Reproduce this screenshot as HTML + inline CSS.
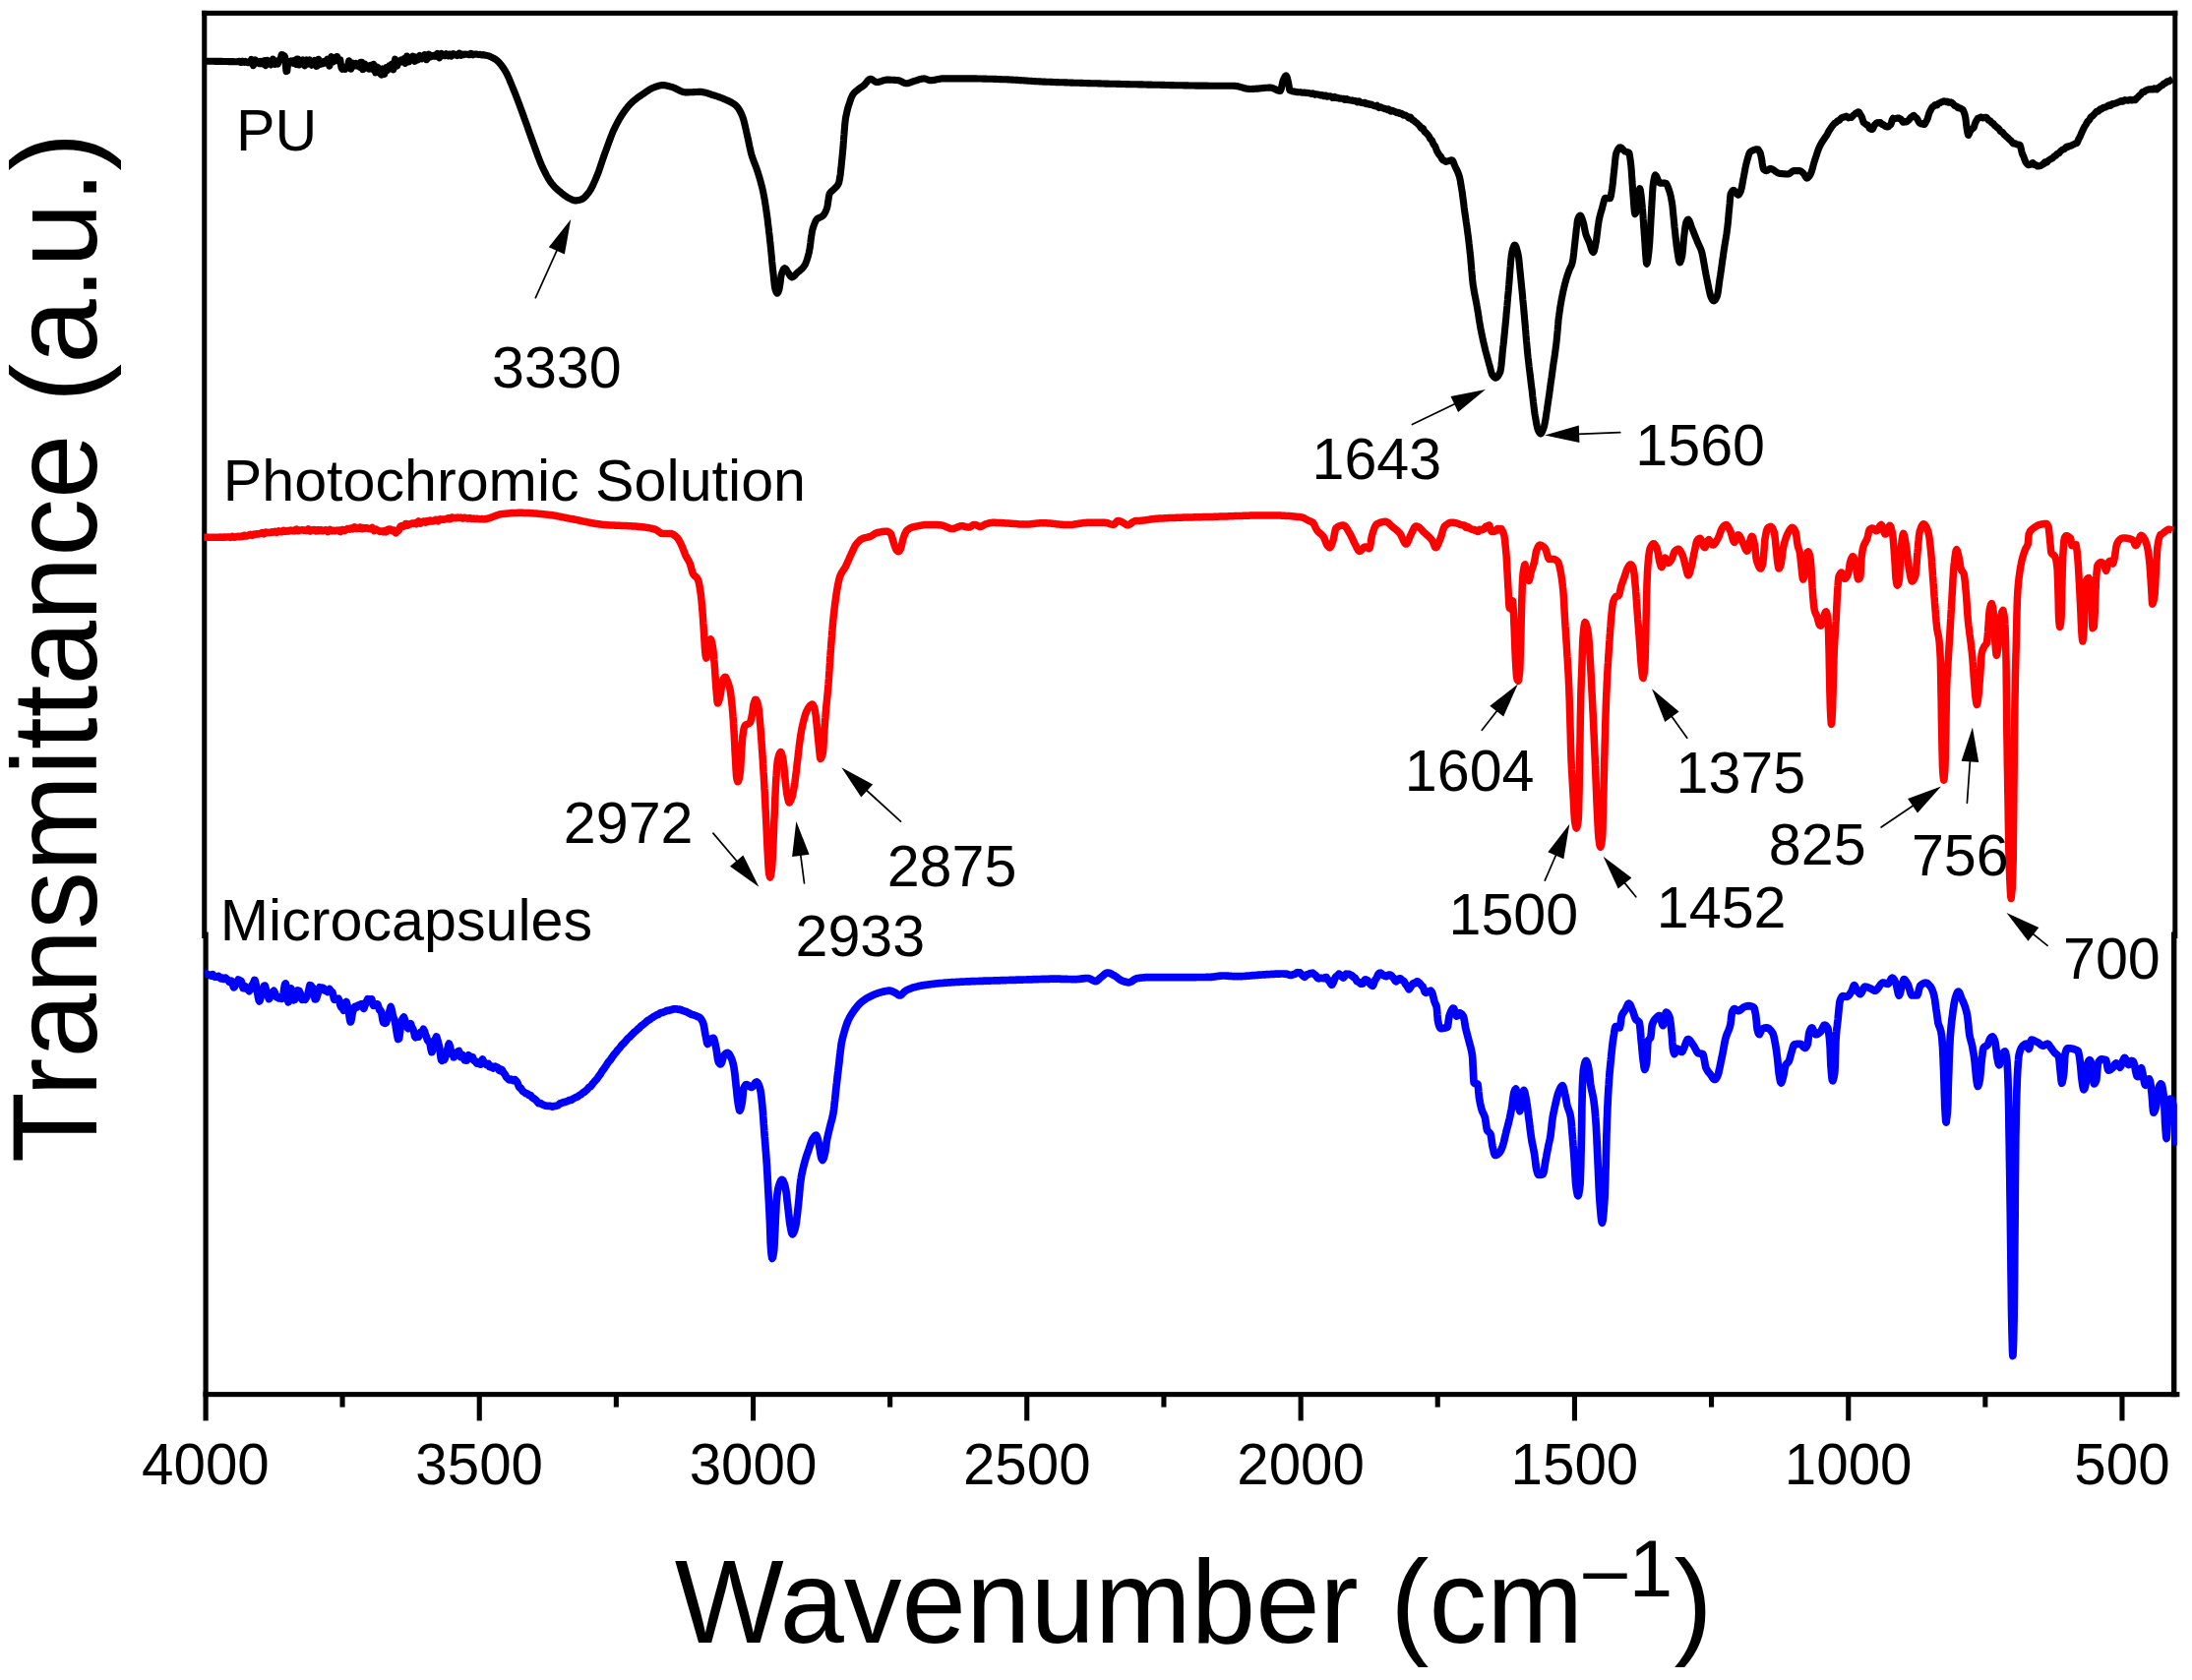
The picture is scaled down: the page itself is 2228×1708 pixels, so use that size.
<!DOCTYPE html>
<html lang="en"><head><meta charset="utf-8"><title>FTIR spectra</title>
<style>html,body{margin:0;padding:0;background:#fff}svg{display:block}</style></head>
<body>
<svg width="2228" height="1708" viewBox="0 0 2228 1708">
<rect width="2228" height="1708" fill="#fff"/>
<defs><clipPath id="cp"><rect x="205.2" y="10.8" width="2007.6" height="1409.4"/></clipPath></defs>
<g fill="#000">
<rect x="205.2" y="10.8" width="5.1" height="943.2"/>
<rect x="206.5" y="947.5" width="5.2" height="496.9"/>
<rect x="2208.3" y="10.8" width="5.0" height="943.2"/>
<rect x="2207.0" y="947.5" width="5.4" height="472.7"/>
<rect x="205.2" y="10.8" width="2008.1" height="5.1"/>
<rect x="206.5" y="1415.1" width="2008.9" height="5.1"/>
<rect x="484.7" y="1418" width="5.1" height="26.4"/>
<rect x="763.0" y="1418" width="5.1" height="26.4"/>
<rect x="1041.2" y="1418" width="5.1" height="26.4"/>
<rect x="1319.6" y="1418" width="5.1" height="26.4"/>
<rect x="1597.9" y="1418" width="5.1" height="26.4"/>
<rect x="1876.2" y="1418" width="5.1" height="26.4"/>
<rect x="2154.4" y="1418" width="5.1" height="26.4"/>
<rect x="345.5" y="1418" width="5.1" height="12.6"/>
<rect x="623.8" y="1418" width="5.1" height="12.6"/>
<rect x="902.1" y="1418" width="5.1" height="12.6"/>
<rect x="1180.4" y="1418" width="5.1" height="12.6"/>
<rect x="1458.7" y="1418" width="5.1" height="12.6"/>
<rect x="1737.0" y="1418" width="5.1" height="12.6"/>
<rect x="2015.3" y="1418" width="5.1" height="12.6"/>
</g>
<path d="M207.5 62.3L208.5 62.3L209.5 62.3L210.5 62.3L211.5 62.3L212.5 62.3L213.5 62.3L214.5 62.3L215.5 62.3L216.5 62.3L217.5 62.3L218.5 62.4L219.5 62.4L220.5 62.4L221.5 62.4L222.5 62.4L223.5 62.4L224.5 62.4L225.5 62.4L226.5 62.5L227.5 62.5L228.5 62.5L229.5 62.5L230.5 62.5L231.5 62.5L232.5 62.6L233.5 62.6L234.5 62.6L235.5 62.6L236.5 62.6L237.5 62.6L238.5 62.7L239.5 62.7L240.5 62.7L241.0 62.7L241.5 62.7L242.5 62.4L243.5 62.4L244.5 63.5L245.5 63.4L246.5 62.1L247.5 62.7L248.5 63.4L249.5 62.4L250.5 62.9L251.5 63.6L252.5 63.0L253.5 63.7L254.5 62.8L254.7 62.2L255.5 60.5L256.5 63.7L257.5 66.7L258.5 62.8L259.5 60.9L260.5 63.2L261.5 63.5L262.5 64.1L263.5 64.6L264.5 62.3L265.5 62.7L266.5 64.9L267.5 62.3L268.5 61.8L269.5 66.1L270.0 66.6L270.5 65.1L271.5 61.3L272.5 62.1L273.5 63.4L274.5 64.4L275.5 65.9L276.5 62.8L277.5 60.1L278.5 64.2L279.5 65.3L280.5 61.8L281.5 63.3L282.5 64.9L283.5 62.1L284.0 61.4L284.5 61.1L285.5 58.5L286.2 55.7L286.3 55.6L287.2 55.8L288.0 56.5L288.2 56.5L289.2 57.0L289.6 57.8L289.7 58.1L290.1 62.0L290.4 66.4L290.8 71.2L291.0 72.6L291.8 72.3L292.2 68.1L292.8 64.1L292.8 64.0L293.8 62.8L294.8 63.4L295.8 62.1L296.8 63.5L297.8 64.2L298.8 61.7L299.8 64.0L300.0 64.7L300.8 65.4L301.8 60.1L302.8 60.1L303.8 66.0L304.8 65.5L305.8 62.5L306.8 62.2L307.8 61.1L308.8 63.4L309.8 66.8L310.8 63.2L311.8 61.0L312.8 65.1L313.8 64.2L314.8 60.9L315.8 64.3L316.8 66.2L317.8 63.8L318.8 63.4L319.8 61.8L320.0 61.4L320.8 61.8L321.8 67.3L322.8 66.8L323.8 60.3L324.8 61.6L325.8 65.4L326.8 63.4L327.8 63.4L328.8 64.5L329.8 62.4L330.8 63.0L331.8 63.3L332.8 60.2L333.8 63.2L334.8 67.1L335.0 66.8L335.8 61.6L336.8 57.7L337.8 61.6L338.8 62.8L339.8 61.7L340.8 61.3L341.8 57.8L342.8 57.6L343.7 61.5L343.8 61.8L344.8 60.9L345.8 60.9L346.8 67.9L347.0 68.9L347.8 70.2L348.8 68.1L349.5 69.2L349.8 70.0L350.8 70.4L351.7 68.1L352.0 68.0L352.7 68.5L353.7 66.0L354.7 61.8L355.7 66.0L356.7 70.2L357.7 65.6L358.7 64.2L359.7 67.3L360.0 67.3L360.7 65.5L361.7 64.6L362.7 66.9L363.7 66.3L364.7 67.3L365.7 68.3L366.7 63.3L367.7 63.3L368.7 70.6L369.7 70.2L370.7 65.0L371.7 66.0L372.7 67.1L373.7 67.5L374.7 70.1L375.0 70.2L375.7 68.4L376.7 66.4L377.7 70.1L378.7 69.4L379.7 65.3L380.7 69.8L381.7 73.9L382.7 69.9L383.7 68.2L384.7 69.5L385.0 69.7L385.7 70.6L386.7 75.2L387.7 76.1L388.7 70.6L389.0 69.9L389.7 71.7L390.7 75.4L391.7 71.1L392.7 68.7L393.0 69.6L393.7 71.7L394.7 69.7L395.7 66.8L396.7 67.0L397.7 65.6L398.7 67.5L399.7 70.8L400.0 69.9L400.7 64.8L401.7 60.1L402.7 65.3L403.7 67.0L404.7 63.5L405.7 63.4L406.7 62.5L407.7 60.9L408.7 62.9L409.7 61.8L410.7 59.7L411.7 63.4L412.0 64.3L412.7 63.1L413.7 57.0L414.7 58.2L415.7 62.8L416.7 61.7L417.7 60.3L418.7 59.1L419.7 57.1L420.7 60.0L421.7 62.3L422.7 58.3L423.7 57.9L424.7 60.9L425.0 60.8L425.7 58.4L426.7 56.5L427.7 59.4L428.7 59.9L429.7 58.8L430.7 58.4L431.7 55.7L432.7 56.3L433.7 60.7L434.7 59.1L435.7 55.2L436.7 56.7L437.7 57.8L438.7 56.5L439.7 57.3L440.7 57.3L441.7 56.2L442.7 57.1L443.7 56.2L444.7 54.4L445.7 57.1L446.0 58.3L446.7 58.8L447.7 55.5L448.7 54.4L449.7 56.1L450.7 56.3L451.7 56.8L452.7 56.7L453.7 54.8L454.7 55.4L455.7 56.9L456.7 55.3L457.7 55.1L458.7 57.1L459.7 56.2L460.7 54.6L461.7 55.2L462.7 55.7L463.7 56.1L464.7 56.6L465.0 56.3L465.7 55.1L466.7 54.2L467.7 56.0L468.7 56.3L469.7 55.0L470.7 55.4L471.7 55.7L472.7 55.0L473.7 55.2L474.7 55.3L475.7 55.2L476.7 55.8L477.7 55.5L478.7 54.3L479.7 54.9L480.5 55.8L480.7 55.9L481.7 55.4L482.7 55.0L483.7 55.2L484.7 55.1L485.7 55.4L486.7 55.7L487.7 55.4L488.7 55.5L489.7 55.9L490.7 55.7L491.7 55.6L492.7 56.1L492.8 56.2L493.7 56.3L494.7 56.3L495.7 56.6L496.7 56.9L497.7 57.3L498.7 57.8L499.7 58.2L500.7 58.7L501.7 59.3L502.7 59.8L503.7 60.4L503.8 60.5L504.7 61.1L505.7 61.9L506.7 62.9L507.7 64.0L508.7 65.2L509.7 66.5L510.7 67.8L511.7 69.3L512.7 70.8L512.9 71.1L513.7 72.4L514.7 74.2L515.7 76.2L516.7 78.4L517.7 80.7L518.7 83.1L519.7 85.5L520.7 88.0L521.7 90.4L522.0 91.2L522.7 92.9L523.7 95.3L524.7 97.9L525.7 100.5L526.7 103.2L527.7 105.8L528.7 108.6L529.7 111.3L530.7 114.0L531.7 116.8L532.7 119.5L533.0 120.4L533.7 122.3L534.7 125.1L535.7 127.9L536.7 130.7L537.7 133.6L538.7 136.4L539.7 139.2L540.7 142.0L541.7 144.8L542.1 145.9L542.7 147.5L543.7 150.2L544.7 153.0L545.7 155.8L546.7 158.5L547.7 161.1L548.7 163.7L549.7 166.2L550.7 168.5L551.2 169.6L551.7 170.6L552.7 172.7L553.7 174.7L554.7 176.7L555.7 178.6L556.7 180.4L557.7 182.1L558.7 183.7L559.7 185.1L560.4 186.1L560.7 186.5L561.7 187.7L562.7 188.8L563.7 189.9L564.7 190.9L565.7 191.9L566.7 192.8L567.7 193.7L568.7 194.5L569.5 195.2L569.7 195.3L570.7 196.2L571.7 197.0L572.7 197.8L573.7 198.5L574.7 199.3L575.7 199.9L576.7 200.6L577.7 201.1L578.6 201.6L578.7 201.6L579.7 202.1L580.7 202.6L581.7 203.1L582.7 203.5L583.7 203.7L584.7 203.9L585.0 203.9L585.7 203.9L586.7 203.8L587.7 203.6L588.7 203.4L589.7 203.1L590.7 202.7L591.4 202.5L591.7 202.4L592.7 201.8L593.7 201.1L594.7 200.1L595.7 199.0L596.7 197.8L597.7 196.6L598.7 195.2L598.7 195.2L599.7 193.8L600.7 192.1L601.7 190.2L602.7 188.1L603.7 185.9L604.7 183.7L605.7 181.3L606.0 180.6L606.7 179.0L607.7 176.4L608.7 173.7L609.7 170.8L610.7 167.8L611.7 164.9L612.7 161.9L613.7 159.0L614.7 156.1L615.1 155.0L615.7 153.4L616.7 150.7L617.7 147.9L618.7 145.1L619.7 142.4L620.7 139.7L621.7 137.2L622.7 134.7L623.7 132.4L624.2 131.3L624.7 130.3L625.7 128.2L626.7 126.3L627.7 124.4L628.7 122.5L629.7 120.8L630.7 119.1L631.7 117.5L632.7 116.0L633.4 114.9L633.7 114.5L634.7 113.1L635.7 111.7L636.7 110.4L637.7 109.2L638.7 107.9L639.7 106.8L640.7 105.7L641.7 104.7L642.5 103.9L642.7 103.7L643.7 102.8L644.7 102.0L645.7 101.2L646.7 100.4L647.7 99.6L648.7 98.9L649.7 98.2L650.7 97.5L651.7 96.9L652.7 96.2L653.4 95.7L653.7 95.5L654.7 94.8L655.7 94.1L656.7 93.4L657.7 92.7L658.7 92.1L659.7 91.4L660.7 90.8L661.7 90.2L662.7 89.7L663.7 89.3L664.4 89.0L664.7 88.9L665.7 88.5L666.7 88.2L667.7 87.8L668.7 87.5L669.7 87.2L670.7 86.9L671.7 86.7L672.7 86.6L673.5 86.6L673.7 86.6L674.7 86.6L675.7 86.8L676.7 86.9L677.7 87.1L678.7 87.4L679.7 87.6L680.7 87.9L681.7 88.2L682.6 88.4L682.7 88.4L683.7 88.7L684.7 89.1L685.7 89.5L686.7 90.0L687.7 90.5L688.7 91.0L689.7 91.5L690.7 92.0L691.7 92.5L692.7 92.9L693.7 93.3L694.7 93.6L695.7 93.8L696.7 93.9L697.2 93.9L697.7 93.9L698.7 93.9L699.7 93.9L700.7 93.8L701.7 93.8L702.7 93.7L703.7 93.7L704.7 93.6L705.7 93.6L706.7 93.5L707.7 93.5L708.7 93.5L709.7 93.4L710.7 93.4L711.7 93.4L711.8 93.4L712.7 93.4L713.7 93.5L714.7 93.7L715.7 93.9L716.7 94.1L717.7 94.4L718.7 94.7L719.7 95.0L720.7 95.3L721.7 95.7L722.7 96.0L723.7 96.3L724.6 96.6L724.7 96.6L725.7 96.9L726.7 97.2L727.7 97.6L728.7 97.9L729.7 98.2L730.7 98.6L731.7 99.0L732.7 99.3L733.7 99.7L734.7 100.1L735.7 100.5L736.7 101.0L737.7 101.4L738.7 101.9L739.2 102.1L739.7 102.3L740.7 102.8L741.7 103.3L742.7 103.8L743.7 104.3L744.7 104.9L745.7 105.5L746.7 106.2L747.7 107.1L748.3 107.6L748.7 108.0L749.7 109.1L750.7 110.5L751.7 112.1L752.7 114.0L753.7 116.1L754.7 118.5L754.7 118.5L755.7 121.4L756.5 124.7L757.3 127.9L758.0 130.9L758.6 133.8L759.3 136.8L760.0 139.9L760.7 143.0L761.3 146.0L761.9 149.0L762.6 151.9L763.2 154.8L763.8 156.9L764.0 157.6L764.9 160.4L765.9 163.2L766.9 165.9L767.9 168.4L768.9 171.1L769.9 174.0L770.2 175.1L770.8 177.1L771.8 180.2L772.7 183.2L773.5 186.3L774.4 189.4L775.1 192.6L775.7 195.2L775.8 195.7L776.4 198.9L777.0 202.0L777.5 205.1L778.0 208.2L778.5 211.2L778.9 214.3L779.3 217.1L779.3 217.3L779.8 220.4L780.2 223.5L780.5 226.5L780.9 229.6L781.3 232.6L781.6 235.6L782.0 238.7L782.3 241.7L782.6 244.7L783.0 247.7L783.0 248.1L783.3 250.9L783.6 253.9L783.9 257.0L784.2 259.9L784.5 263.0L784.7 266.0L785.0 268.9L785.3 271.9L785.6 274.8L785.7 275.5L786.0 277.8L786.3 280.9L786.6 283.8L786.9 286.8L787.2 289.6L787.6 292.2L787.9 293.7L788.1 294.4L789.0 297.0L789.9 298.3L790.0 298.3L791.0 297.0L792.0 294.1L792.1 293.7L792.9 288.8L793.3 285.7L793.6 282.8L794.0 280.2L794.3 279.1L794.6 278.1L795.6 275.4L796.6 273.4L797.6 272.7L798.6 273.3L799.6 274.8L800.6 276.4L801.2 277.3L801.6 277.9L802.6 279.5L803.6 281.0L804.6 281.8L804.9 281.9L805.6 281.8L806.6 281.2L807.6 280.3L808.6 279.2L809.6 278.1L810.4 277.3L810.6 277.1L811.6 276.3L812.6 275.4L813.6 274.6L814.6 273.7L815.6 272.7L816.6 271.5L817.6 270.2L817.7 270.0L818.6 268.4L819.6 266.0L820.6 263.0L821.5 259.8L822.2 257.2L822.3 256.6L823.0 252.9L823.5 249.6L823.9 246.6L824.2 243.6L824.6 240.7L825.1 237.8L825.5 235.1L825.9 233.5L826.1 232.7L827.0 229.9L828.0 227.1L829.0 224.8L830.0 223.2L830.5 222.6L831.0 222.2L832.0 221.7L833.0 221.2L834.0 220.9L835.0 220.4L835.9 219.8L836.0 219.7L837.0 218.7L838.0 217.2L839.0 215.4L840.0 213.0L840.5 211.6L841.0 209.7L841.5 206.2L842.0 203.1L842.4 200.3L842.9 197.8L843.2 197.0L843.7 196.1L844.7 194.9L845.7 194.0L846.7 193.2L847.7 192.3L848.0 192.0L848.7 191.2L849.7 190.2L850.7 189.2L851.7 187.7L852.6 186.0L852.7 185.7L853.7 180.5L854.2 177.2L854.5 174.1L854.9 171.0L855.2 168.0L855.5 164.9L855.8 161.9L856.1 158.9L856.2 158.0L856.4 155.9L856.7 152.7L857.0 149.6L857.2 146.3L857.5 143.0L857.7 139.6L858.0 136.2L858.2 133.0L858.5 129.9L858.7 127.1L859.0 124.3L859.3 121.6L859.4 121.0L859.7 119.0L860.3 116.2L860.9 113.4L861.6 110.6L862.4 107.8L863.0 106.0L863.4 104.9L864.3 102.0L865.3 99.3L866.3 97.1L867.0 96.0L867.3 95.5L868.3 94.3L869.3 93.3L870.3 92.5L871.3 91.7L871.9 91.2L872.3 90.9L873.3 90.1L874.3 89.4L875.3 88.7L876.3 88.1L877.3 87.4L878.3 86.6L878.3 86.6L879.3 85.5L880.3 84.3L881.3 83.0L882.3 81.7L883.3 80.8L884.3 80.2L884.7 80.2L885.3 80.3L886.3 80.7L887.3 81.4L888.3 82.2L889.3 82.9L890.3 83.4L891.1 83.5L891.3 83.5L892.3 83.4L893.3 83.2L894.3 83.0L895.3 82.7L896.3 82.4L897.3 82.0L898.3 81.7L899.3 81.5L900.3 81.3L901.3 81.1L902.0 81.1L902.3 81.1L903.3 81.1L904.3 81.1L905.3 81.2L906.3 81.2L907.3 81.3L908.3 81.3L909.3 81.4L910.3 81.5L911.3 81.5L912.3 81.6L913.0 81.7L913.3 81.7L914.3 82.0L915.3 82.4L916.3 82.9L917.3 83.5L918.3 84.0L919.3 84.4L920.3 84.7L921.2 84.8L921.3 84.8L922.3 84.7L923.3 84.5L924.3 84.2L925.3 83.9L926.3 83.5L927.3 83.1L928.3 82.7L929.3 82.4L929.4 82.4L930.3 82.1L931.3 81.8L932.3 81.5L933.3 81.2L934.3 80.8L935.3 80.6L936.3 80.3L937.3 80.1L938.3 80.0L939.3 79.9L939.5 79.9L940.3 80.0L941.3 80.3L942.3 80.7L943.3 81.1L944.3 81.5L945.3 81.7L945.8 81.7L946.3 81.7L947.3 81.6L948.3 81.5L949.3 81.4L950.3 81.2L951.3 81.0L952.3 80.8L953.3 80.6L954.3 80.4L955.3 80.2L956.3 80.0L957.3 79.9L958.3 79.9L958.6 79.9L959.3 79.9L960.3 79.9L961.3 79.9L962.3 79.9L963.3 79.9L964.3 79.9L965.3 79.9L966.3 79.9L967.3 79.9L968.3 79.9L969.3 79.9L970.3 79.9L971.3 79.9L972.3 79.9L973.3 79.9L974.3 79.9L975.3 79.9L976.3 79.9L977.3 79.9L978.3 79.9L979.3 79.9L980.3 79.9L981.3 79.9L982.3 79.9L983.3 79.9L984.3 79.9L985.3 79.9L986.0 79.9L986.3 79.9L987.3 79.9L988.3 79.9L989.3 79.9L990.3 79.9L991.3 79.9L992.3 79.9L993.3 80.0L994.3 80.0L995.3 80.0L996.3 80.0L997.3 80.0L998.3 80.0L999.3 80.1L1000.3 80.1L1001.3 80.1L1002.3 80.1L1003.3 80.2L1004.3 80.2L1005.3 80.2L1006.3 80.3L1007.3 80.3L1008.3 80.3L1009.3 80.3L1010.3 80.4L1011.3 80.4L1012.3 80.4L1013.3 80.5L1014.3 80.5L1015.3 80.5L1016.3 80.6L1017.3 80.6L1018.3 80.7L1019.3 80.7L1020.3 80.7L1021.3 80.8L1022.3 80.8L1022.5 80.8L1023.3 80.8L1024.3 80.9L1025.3 80.9L1026.3 81.0L1027.3 81.0L1028.3 81.1L1029.3 81.1L1030.3 81.2L1031.3 81.2L1032.3 81.3L1033.3 81.4L1034.3 81.4L1035.3 81.5L1036.3 81.6L1037.3 81.6L1038.3 81.7L1039.3 81.8L1040.3 81.8L1041.3 81.9L1042.3 82.0L1043.3 82.0L1044.3 82.1L1045.3 82.2L1046.3 82.3L1047.3 82.3L1048.3 82.4L1049.3 82.5L1050.3 82.5L1051.3 82.6L1052.3 82.6L1053.3 82.7L1054.3 82.8L1055.3 82.8L1056.3 82.9L1057.3 82.9L1058.3 83.0L1059.0 83.0L1059.3 83.0L1060.3 83.1L1061.3 83.1L1062.3 83.1L1063.3 83.2L1064.3 83.2L1065.3 83.3L1066.3 83.3L1067.3 83.3L1068.3 83.4L1069.3 83.4L1070.3 83.5L1071.3 83.5L1072.3 83.5L1073.3 83.6L1074.3 83.6L1075.3 83.6L1076.3 83.7L1077.3 83.7L1078.3 83.7L1079.3 83.8L1080.3 83.8L1081.3 83.8L1082.3 83.9L1083.3 83.9L1084.3 83.9L1085.3 84.0L1086.3 84.0L1087.3 84.0L1088.3 84.1L1089.3 84.1L1090.3 84.1L1091.3 84.2L1092.3 84.2L1093.3 84.2L1094.3 84.3L1095.3 84.3L1096.3 84.3L1097.3 84.3L1098.3 84.4L1099.3 84.4L1100.3 84.4L1101.3 84.5L1102.3 84.5L1103.3 84.5L1104.3 84.5L1105.3 84.6L1106.3 84.6L1107.3 84.6L1108.3 84.7L1109.3 84.7L1110.3 84.7L1111.3 84.7L1112.3 84.8L1113.3 84.8L1113.7 84.8L1114.3 84.8L1115.3 84.8L1116.3 84.9L1117.3 84.9L1118.3 84.9L1119.3 85.0L1120.3 85.0L1121.3 85.0L1122.3 85.0L1123.3 85.1L1124.3 85.1L1125.3 85.1L1126.3 85.1L1127.3 85.2L1128.3 85.2L1129.3 85.2L1130.3 85.2L1131.3 85.3L1132.3 85.3L1133.3 85.3L1134.3 85.3L1135.3 85.4L1136.3 85.4L1137.3 85.4L1138.3 85.4L1139.3 85.5L1140.3 85.5L1141.3 85.5L1142.3 85.5L1143.3 85.5L1144.3 85.6L1145.3 85.6L1146.3 85.6L1147.3 85.6L1148.3 85.7L1149.3 85.7L1150.3 85.7L1151.3 85.7L1152.3 85.7L1153.3 85.8L1154.3 85.8L1155.3 85.8L1156.3 85.8L1157.3 85.9L1158.3 85.9L1159.3 85.9L1160.3 85.9L1161.3 85.9L1162.3 86.0L1163.3 86.0L1164.3 86.0L1165.3 86.0L1166.3 86.1L1167.3 86.1L1168.3 86.1L1168.5 86.1L1169.3 86.1L1170.3 86.1L1171.3 86.2L1172.3 86.2L1173.3 86.2L1174.3 86.2L1175.3 86.3L1176.3 86.3L1177.3 86.3L1178.3 86.3L1179.3 86.3L1180.3 86.4L1181.3 86.4L1182.3 86.4L1183.3 86.4L1184.3 86.5L1185.3 86.5L1186.3 86.5L1187.3 86.5L1188.3 86.5L1189.3 86.6L1190.3 86.6L1191.3 86.6L1192.3 86.6L1193.3 86.7L1194.3 86.7L1195.3 86.7L1196.3 86.7L1197.3 86.7L1198.3 86.8L1199.3 86.8L1200.3 86.8L1201.3 86.8L1202.3 86.8L1203.3 86.9L1204.3 86.9L1205.3 86.9L1206.3 86.9L1207.3 86.9L1208.3 87.0L1209.3 87.0L1210.3 87.0L1211.3 87.0L1212.3 87.0L1213.3 87.0L1214.3 87.0L1215.3 87.1L1216.3 87.1L1217.3 87.1L1218.3 87.1L1219.3 87.1L1220.0 87.1L1220.3 87.1L1221.3 87.1L1222.3 87.1L1223.3 87.1L1224.3 87.1L1225.3 87.1L1226.3 87.1L1227.3 87.1L1228.3 87.2L1229.3 87.2L1230.3 87.2L1231.3 87.2L1232.3 87.2L1233.3 87.2L1234.3 87.2L1235.3 87.2L1236.3 87.2L1237.3 87.2L1238.3 87.2L1239.3 87.2L1240.3 87.2L1241.3 87.2L1242.3 87.2L1243.3 87.2L1244.3 87.2L1245.3 87.2L1246.3 87.2L1247.3 87.2L1248.3 87.2L1249.3 87.2L1250.3 87.3L1251.3 87.3L1252.3 87.3L1253.3 87.3L1254.2 87.3L1254.3 87.3L1255.3 87.4L1256.3 87.5L1257.3 87.6L1258.3 87.8L1259.3 88.1L1260.3 88.3L1261.3 88.6L1262.3 88.9L1263.3 89.2L1264.3 89.5L1265.3 89.7L1266.3 90.0L1267.3 90.2L1268.3 90.3L1269.3 90.4L1270.3 90.5L1270.6 90.5L1271.3 90.5L1272.3 90.5L1273.3 90.4L1274.3 90.4L1275.3 90.3L1276.3 90.2L1277.3 90.1L1278.3 90.1L1279.3 90.0L1280.3 89.9L1281.3 89.8L1282.3 89.7L1283.3 89.6L1284.3 89.5L1285.3 89.4L1286.3 89.3L1287.3 89.2L1288.3 89.2L1289.3 89.1L1290.3 89.1L1291.2 89.1L1291.3 89.1L1292.3 89.2L1293.3 89.5L1294.3 89.9L1295.3 90.3L1296.3 90.8L1297.3 91.3L1298.3 91.8L1299.3 92.1L1300.3 92.4L1301.3 92.5L1301.4 92.5L1302.3 90.2L1303.0 86.7L1303.6 83.9L1304.2 81.6L1304.2 81.6L1305.2 79.4L1306.2 77.6L1307.2 76.8L1307.3 76.8L1308.2 78.5L1309.1 82.2L1309.6 84.3L1309.8 85.2L1310.3 88.7L1310.7 91.2L1311.0 91.8L1311.5 92.0L1312.5 92.3L1313.5 92.7L1314.5 92.9L1315.5 93.1L1316.5 93.3L1317.5 93.5L1318.5 93.6L1319.5 93.7L1320.5 93.8L1321.5 93.8L1322.5 93.9L1323.5 94.1L1324.5 94.2L1325.5 94.1L1326.5 94.3L1327.5 94.4L1328.5 94.4L1329.5 94.6L1329.5 94.6L1330.5 94.8L1331.5 94.9L1332.5 95.4L1333.5 95.2L1334.5 94.8L1335.5 95.5L1336.5 96.3L1337.5 95.9L1338.5 95.8L1339.5 96.1L1340.5 96.1L1341.5 96.7L1342.5 97.0L1343.5 96.5L1344.5 97.0L1345.5 97.6L1346.5 97.0L1347.5 97.1L1348.5 98.1L1349.5 98.2L1350.5 97.9L1351.5 98.0L1352.5 97.9L1353.5 98.6L1354.5 99.4L1355.5 98.8L1356.5 98.4L1356.9 98.7L1357.5 99.4L1358.5 99.6L1359.5 99.3L1360.5 99.8L1361.5 100.2L1362.5 100.0L1363.5 100.2L1364.5 100.2L1365.5 100.3L1366.5 101.4L1367.5 101.5L1368.5 100.5L1369.5 100.8L1370.5 101.8L1371.5 101.8L1372.5 101.9L1373.5 102.1L1374.5 101.9L1375.5 102.4L1376.5 102.8L1377.5 102.4L1378.5 103.0L1379.5 103.9L1380.5 103.3L1381.5 102.9L1382.5 103.8L1383.5 104.4L1384.2 104.5L1384.5 104.5L1385.5 104.7L1386.5 104.2L1387.5 104.5L1388.5 105.7L1389.5 105.7L1390.5 105.3L1391.5 106.1L1392.5 106.5L1393.5 106.0L1394.5 106.5L1395.5 107.2L1396.5 107.4L1397.5 107.9L1398.5 107.6L1399.5 107.2L1400.5 108.5L1401.5 109.5L1402.5 108.8L1403.5 108.8L1404.5 109.6L1405.5 109.7L1406.5 110.1L1407.5 110.7L1408.5 110.6L1409.5 111.1L1410.5 111.7L1411.5 111.1L1411.6 111.0L1412.5 111.5L1413.5 113.1L1414.5 113.1L1415.5 112.4L1416.5 112.9L1417.5 113.4L1418.5 114.0L1419.5 114.7L1420.5 114.3L1421.5 114.2L1422.5 115.4L1423.5 115.6L1424.5 115.3L1425.5 116.4L1426.5 117.2L1427.5 116.9L1428.5 117.1L1429.5 117.7L1430.5 118.3L1431.5 119.6L1432.1 120.0L1432.5 119.8L1433.5 119.1L1434.5 120.3L1435.5 122.0L1436.5 122.2L1437.5 122.8L1438.5 124.1L1439.5 124.6L1440.5 125.4L1441.5 126.6L1442.5 127.3L1443.5 128.8L1444.5 130.4L1445.5 130.2L1445.8 130.1L1446.5 130.7L1447.5 133.0L1448.5 134.5L1449.5 135.1L1450.5 136.3L1451.5 137.3L1452.5 138.6L1453.5 140.8L1454.5 141.9L1455.4 142.7L1455.5 142.9L1456.5 145.5L1457.5 147.4L1458.5 148.3L1459.5 150.8L1460.5 153.6L1460.5 153.6L1461.5 155.2L1462.5 156.9L1463.5 158.3L1464.1 158.8L1464.5 159.3L1465.5 161.4L1466.5 162.9L1467.5 163.0L1468.5 163.7L1469.5 164.4L1469.6 164.4L1470.5 164.1L1471.5 163.7L1472.5 163.7L1473.5 163.3L1474.5 163.0L1475.5 162.8L1475.7 162.8L1476.5 163.3L1477.5 165.4L1478.5 168.1L1479.2 169.7L1479.5 170.4L1480.5 172.3L1481.5 174.4L1482.5 176.9L1483.3 179.3L1483.5 180.1L1484.3 183.7L1484.8 186.9L1485.3 190.0L1485.8 193.0L1486.0 194.3L1486.3 196.0L1486.7 199.2L1487.1 202.3L1487.5 205.3L1487.9 208.3L1488.2 211.2L1488.6 214.2L1488.7 214.8L1489.0 217.1L1489.5 220.1L1489.9 223.0L1490.3 226.0L1490.8 229.0L1491.2 232.1L1491.6 235.2L1492.0 238.2L1492.2 239.5L1492.4 241.3L1492.8 244.4L1493.1 247.4L1493.5 250.5L1493.8 253.5L1494.1 256.5L1494.5 259.6L1494.8 262.6L1494.9 264.1L1495.0 265.7L1495.3 268.8L1495.6 271.9L1495.8 275.0L1496.1 278.0L1496.3 281.0L1496.6 283.8L1496.9 286.6L1497.0 287.4L1497.2 289.3L1497.7 292.1L1498.1 294.9L1498.6 297.8L1499.2 300.7L1499.8 303.7L1500.4 306.8L1501.0 309.9L1501.1 310.6L1501.5 313.0L1502.0 316.0L1502.5 319.0L1503.0 322.1L1503.4 325.0L1503.9 328.0L1504.4 330.9L1504.9 333.9L1505.2 335.3L1505.5 336.7L1506.1 339.7L1506.7 342.6L1507.3 345.6L1508.0 348.5L1508.7 351.5L1509.4 354.4L1509.5 355.0L1510.1 357.4L1510.9 360.3L1511.7 363.2L1512.5 366.2L1513.3 369.2L1513.9 371.2L1514.2 372.3L1515.0 375.4L1515.7 378.2L1516.5 380.6L1516.6 380.7L1517.5 382.1L1518.5 383.3L1519.5 384.1L1520.1 384.2L1520.5 384.1L1521.5 383.6L1522.5 382.5L1523.5 380.9L1524.5 378.9L1524.9 378.0L1525.5 374.9L1526.0 371.4L1526.3 368.2L1526.6 365.2L1526.9 362.2L1527.1 359.3L1527.4 356.3L1527.6 354.7L1527.7 353.4L1528.1 350.4L1528.4 347.4L1528.7 344.4L1529.0 341.4L1529.3 338.3L1529.6 335.3L1529.9 332.2L1530.2 329.2L1530.5 326.2L1530.7 324.0L1530.8 323.3L1531.0 320.2L1531.3 317.1L1531.6 314.1L1531.9 311.1L1532.1 308.1L1532.4 305.0L1532.6 302.1L1532.9 299.1L1533.2 296.0L1533.4 293.1L1533.7 290.1L1533.9 287.4L1533.9 287.2L1534.2 283.9L1534.4 280.8L1534.7 277.4L1534.9 274.1L1535.2 270.8L1535.4 267.7L1535.7 264.7L1536.0 261.9L1536.3 259.3L1536.6 257.3L1536.7 257.0L1537.3 254.1L1538.1 251.5L1539.1 249.4L1539.6 249.1L1540.1 249.4L1541.1 251.4L1542.1 254.7L1542.8 257.3L1542.9 257.9L1543.6 261.8L1544.0 265.1L1544.3 268.3L1544.6 271.3L1544.9 274.4L1545.2 277.4L1545.5 280.4L1545.8 283.4L1546.1 286.3L1546.2 287.4L1546.4 289.3L1546.7 292.4L1547.0 295.4L1547.3 298.4L1547.6 301.4L1547.8 304.5L1548.1 307.4L1548.4 310.4L1548.7 313.4L1548.9 316.4L1549.2 319.5L1549.5 322.5L1549.6 324.0L1549.7 325.4L1550.0 328.5L1550.3 331.5L1550.5 334.6L1550.8 337.5L1551.0 340.6L1551.3 343.6L1551.5 346.6L1551.8 349.5L1552.1 352.5L1552.3 355.4L1552.6 358.0L1552.6 358.3L1552.9 361.3L1553.2 364.2L1553.6 367.2L1553.9 370.2L1554.2 373.1L1554.6 376.1L1555.0 379.1L1555.3 382.1L1555.7 385.0L1556.0 388.0L1556.4 391.0L1556.8 394.1L1557.0 395.8L1557.2 397.1L1557.5 400.1L1557.8 403.1L1558.2 406.1L1558.5 409.1L1558.9 412.1L1559.2 415.0L1559.6 417.9L1560.0 420.8L1560.4 423.2L1560.5 423.6L1561.0 426.6L1561.5 429.5L1562.0 432.3L1562.6 435.0L1563.2 436.9L1563.4 437.3L1564.4 439.4L1565.4 440.8L1565.9 441.0L1566.4 440.8L1567.4 439.3L1568.4 436.8L1569.3 434.1L1569.4 433.9L1570.3 429.8L1570.9 426.5L1571.4 423.4L1571.8 420.3L1572.3 417.3L1572.7 414.3L1573.1 411.4L1573.4 409.5L1573.6 408.5L1574.0 405.4L1574.5 402.4L1574.9 399.3L1575.3 396.3L1575.7 393.3L1576.1 390.3L1576.5 387.3L1577.0 384.3L1577.4 381.3L1577.8 378.3L1578.2 375.3L1578.6 372.4L1579.0 369.4L1579.5 366.4L1580.0 363.4L1580.4 360.4L1580.8 357.3L1581.2 354.3L1581.6 351.1L1582.0 348.1L1582.0 348.0L1582.3 344.8L1582.6 341.7L1582.9 338.6L1583.2 335.5L1583.4 332.5L1583.7 329.6L1583.9 326.7L1584.2 323.9L1584.5 321.6L1584.6 321.1L1585.0 318.2L1585.4 315.3L1585.8 312.4L1586.3 309.5L1586.8 306.6L1587.3 303.7L1587.9 300.8L1588.5 297.8L1589.1 294.9L1589.3 294.2L1589.8 292.0L1590.5 289.1L1591.3 286.2L1592.1 283.3L1593.0 280.4L1594.0 277.5L1594.8 275.1L1595.0 274.7L1596.0 272.4L1597.0 270.4L1598.0 267.7L1598.2 266.9L1598.9 263.4L1599.3 260.0L1599.7 256.9L1600.0 253.8L1600.3 250.8L1600.7 247.8L1601.0 244.8L1601.3 241.9L1601.6 239.5L1601.7 239.0L1602.0 235.9L1602.3 232.7L1602.7 229.9L1603.0 227.0L1603.4 224.4L1603.7 223.1L1603.9 222.5L1604.9 220.2L1605.9 219.1L1606.2 219.0L1606.9 219.6L1607.9 221.9L1608.9 225.0L1609.2 225.8L1609.9 228.5L1610.5 231.8L1611.1 234.7L1611.7 237.4L1611.9 238.1L1612.5 239.9L1613.5 242.3L1614.5 244.5L1615.3 246.3L1615.5 246.8L1616.5 249.9L1617.4 252.9L1618.4 255.4L1619.4 256.6L1619.4 256.6L1620.4 254.9L1621.3 251.1L1621.9 247.9L1622.2 246.3L1622.5 244.8L1622.9 241.4L1623.3 238.3L1623.7 235.2L1624.0 232.3L1624.4 229.3L1624.8 226.7L1624.9 225.8L1625.2 224.1L1625.8 221.2L1626.5 218.4L1627.3 215.5L1628.2 212.6L1628.3 212.1L1629.0 209.3L1629.8 206.3L1630.5 203.6L1631.4 201.4L1631.8 201.2L1632.4 201.2L1633.4 201.4L1634.4 201.6L1635.4 201.7L1636.4 201.8L1636.5 201.8L1637.4 199.1L1638.0 195.6L1638.4 192.6L1638.6 191.6L1638.9 189.5L1639.3 186.2L1639.6 183.1L1639.9 180.1L1640.2 177.1L1640.6 174.1L1640.6 173.8L1640.9 171.0L1641.2 168.0L1641.5 165.0L1641.8 162.0L1642.1 159.3L1642.5 156.8L1642.7 156.0L1643.1 154.9L1644.1 152.6L1645.1 151.0L1646.1 150.0L1646.8 149.8L1647.1 149.8L1648.1 150.4L1649.1 151.5L1650.1 152.6L1651.1 153.6L1651.6 153.9L1652.1 154.1L1653.1 154.4L1654.1 154.6L1655.1 154.9L1655.7 155.3L1656.1 156.2L1656.9 161.0L1657.3 164.2L1657.7 167.2L1657.8 168.3L1658.0 170.5L1658.3 173.9L1658.5 177.4L1658.8 181.2L1659.0 185.1L1659.3 188.9L1659.5 192.5L1659.8 195.7L1660.0 198.9L1660.3 202.3L1660.5 205.8L1660.8 209.1L1661.0 212.2L1661.3 214.8L1661.7 217.1L1661.9 217.6L1662.4 217.0L1663.4 213.2L1664.0 210.1L1664.5 207.1L1664.6 206.6L1665.1 203.2L1665.4 200.0L1665.7 197.1L1666.0 194.3L1666.5 192.0L1666.7 191.6L1667.3 193.3L1667.9 197.3L1668.3 200.5L1668.6 203.6L1668.9 206.8L1669.2 209.7L1669.4 212.1L1669.5 212.6L1669.7 215.9L1670.0 219.2L1670.2 222.7L1670.5 226.4L1670.7 230.2L1671.0 233.9L1671.2 237.4L1671.4 239.5L1671.5 240.7L1671.7 244.3L1672.0 248.1L1672.2 252.1L1672.5 256.0L1672.7 259.7L1673.0 262.9L1673.2 265.6L1673.6 267.8L1673.8 268.2L1674.4 267.0L1675.1 262.6L1675.5 259.3L1675.9 256.2L1676.2 253.2L1676.5 249.5L1676.8 245.9L1677.0 241.8L1677.3 237.4L1677.5 232.7L1677.8 228.1L1678.0 223.6L1678.3 219.3L1678.3 219.0L1678.5 215.1L1678.8 210.6L1679.0 206.0L1679.3 201.4L1679.5 197.1L1679.8 193.2L1680.0 190.0L1680.3 187.6L1680.3 187.5L1680.7 184.7L1681.2 181.9L1681.7 179.4L1682.4 177.9L1682.5 177.9L1683.5 178.9L1684.5 181.2L1685.5 183.7L1686.5 185.6L1687.2 186.1L1687.5 186.1L1688.5 186.1L1689.5 186.1L1690.5 186.1L1691.5 186.1L1692.5 186.1L1692.7 186.1L1693.5 186.5L1694.5 188.1L1695.5 190.5L1696.5 193.4L1696.8 194.3L1697.5 196.5L1698.3 199.9L1698.9 203.2L1699.5 206.4L1699.5 206.6L1700.0 209.9L1700.3 213.2L1700.6 216.3L1700.9 219.3L1701.2 222.3L1701.5 225.2L1701.8 228.3L1702.0 231.1L1702.2 232.6L1702.4 234.0L1702.7 237.1L1703.0 240.1L1703.3 243.0L1703.7 245.9L1704.0 248.9L1704.4 251.8L1704.8 254.6L1705.0 255.9L1705.2 257.4L1705.7 260.4L1706.2 263.3L1706.8 265.8L1707.4 266.9L1707.7 266.8L1708.7 264.6L1709.6 261.0L1709.8 260.0L1710.2 256.7L1710.6 253.3L1710.8 250.2L1711.1 247.2L1711.3 244.2L1711.6 241.4L1711.8 239.5L1711.9 238.8L1712.3 235.8L1712.6 232.8L1713.0 230.0L1713.5 227.4L1713.9 225.8L1714.1 225.4L1715.1 223.6L1715.9 223.1L1716.1 223.1L1717.1 224.4L1718.1 227.0L1719.1 230.1L1720.0 232.6L1720.1 232.8L1721.1 235.2L1722.1 237.7L1723.1 240.3L1724.1 242.8L1725.1 245.3L1725.5 246.3L1726.1 247.6L1727.1 249.7L1728.1 251.8L1729.1 254.3L1729.6 255.9L1730.1 257.7L1730.8 261.1L1731.3 264.2L1731.9 267.3L1732.4 270.2L1732.9 273.1L1733.0 273.7L1733.5 276.1L1734.0 279.1L1734.6 282.1L1735.2 285.1L1735.8 288.0L1736.4 290.9L1736.5 291.5L1737.0 294.0L1737.7 296.9L1738.3 299.7L1739.1 302.2L1739.2 302.4L1740.1 304.1L1741.1 305.5L1741.9 305.9L1742.1 305.9L1743.1 305.2L1744.1 303.7L1745.1 301.6L1745.3 301.1L1746.1 297.8L1746.6 294.4L1747.0 291.3L1747.4 288.3L1747.8 285.3L1748.2 282.5L1748.3 282.0L1748.7 279.5L1749.1 276.5L1749.6 273.4L1750.0 270.4L1750.4 267.4L1750.8 264.4L1751.3 261.4L1751.7 258.4L1752.1 255.5L1752.5 253.0L1752.6 252.5L1753.0 249.5L1753.5 246.6L1754.0 243.6L1754.5 240.6L1755.0 237.5L1755.4 234.3L1755.8 231.2L1755.8 231.1L1756.2 228.0L1756.5 224.8L1756.8 221.7L1757.0 218.7L1757.3 215.6L1757.6 212.8L1757.8 210.5L1757.9 209.8L1758.2 206.6L1758.4 203.6L1758.7 200.7L1758.9 198.2L1759.2 196.9L1759.4 196.5L1760.4 194.6L1761.4 193.5L1761.9 193.4L1762.4 193.5L1763.4 194.5L1764.4 195.9L1765.4 197.3L1766.4 198.1L1766.7 198.2L1767.4 197.9L1768.4 196.3L1769.4 194.2L1769.4 194.1L1770.4 190.4L1771.0 187.2L1771.5 184.1L1772.0 181.3L1772.2 180.4L1772.6 178.3L1773.2 175.2L1773.7 172.3L1774.3 169.4L1774.9 166.7L1775.7 163.6L1776.5 160.7L1777.3 157.9L1778.2 155.4L1779.0 154.4L1779.2 154.2L1780.2 153.6L1781.2 153.1L1782.2 152.6L1783.2 152.2L1784.2 152.0L1785.2 151.8L1786.2 151.7L1786.5 151.7L1787.2 152.1L1788.2 153.6L1789.2 155.7L1789.3 155.8L1790.2 159.8L1790.8 163.0L1791.2 166.0L1791.7 168.8L1792.3 171.3L1792.7 172.2L1793.2 172.6L1794.2 173.3L1795.2 173.6L1795.4 173.6L1796.2 173.4L1797.2 172.8L1798.2 172.0L1799.2 171.5L1799.5 171.5L1800.2 171.6L1801.2 171.9L1802.2 172.5L1803.2 173.2L1804.2 173.9L1805.2 174.7L1806.2 175.4L1807.2 175.9L1808.2 176.3L1808.4 176.3L1809.2 176.4L1810.2 176.5L1811.2 176.6L1812.2 176.7L1813.2 176.8L1814.2 176.9L1815.2 177.0L1816.2 177.0L1817.2 177.0L1817.3 177.0L1818.2 176.8L1819.2 176.3L1820.2 175.5L1821.2 174.7L1822.2 174.0L1823.2 173.6L1823.5 173.6L1824.2 173.6L1825.2 173.6L1826.2 173.6L1827.2 173.6L1828.2 173.6L1829.0 173.6L1829.2 173.6L1830.2 173.9L1831.2 174.6L1832.2 175.4L1833.1 176.3L1833.2 176.4L1834.2 177.9L1835.2 179.8L1836.2 181.0L1836.5 181.1L1837.2 180.9L1838.2 180.1L1839.2 178.8L1839.9 177.7L1840.2 177.3L1841.2 174.8L1842.2 171.5L1843.0 168.4L1843.8 165.5L1844.7 162.7L1844.7 162.6L1845.7 159.6L1846.6 156.7L1847.6 153.7L1848.6 151.0L1849.5 149.0L1849.6 148.8L1850.6 146.8L1851.6 145.1L1852.6 143.5L1853.6 142.0L1854.6 140.5L1855.6 139.0L1856.3 138.1L1856.6 137.7L1857.6 135.9L1858.6 133.8L1859.6 132.2L1860.6 130.8L1861.6 129.2L1862.6 127.9L1863.2 127.2L1863.6 126.6L1864.6 125.4L1865.6 125.0L1866.6 124.2L1867.6 123.0L1868.6 122.6L1869.6 122.3L1870.0 121.8L1870.6 120.9L1871.6 119.9L1872.6 119.6L1873.6 119.0L1874.6 118.9L1874.8 118.9L1875.6 118.8L1876.6 118.2L1877.6 118.8L1878.6 119.8L1879.6 119.5L1880.6 119.2L1881.0 119.3L1881.6 119.5L1882.6 118.6L1883.6 117.3L1884.6 116.6L1885.1 116.2L1885.6 115.7L1886.6 115.0L1887.6 114.7L1888.5 113.9L1888.6 113.8L1889.6 114.0L1890.6 116.0L1891.6 117.6L1891.9 117.9L1892.6 119.5L1893.4 122.4L1894.0 124.2L1894.2 124.5L1895.2 125.3L1896.2 126.1L1897.2 126.8L1898.1 127.0L1898.2 127.0L1899.2 128.3L1900.2 130.3L1901.2 131.0L1902.2 131.4L1902.2 131.4L1903.2 131.4L1904.2 129.7L1905.2 127.4L1905.6 126.8L1906.2 126.2L1907.2 125.1L1908.2 124.6L1909.0 124.8L1909.2 124.9L1910.2 124.6L1911.2 124.5L1912.2 125.7L1913.2 126.6L1914.2 126.7L1914.5 126.8L1915.2 127.5L1916.2 128.4L1917.2 128.7L1918.2 129.0L1918.6 129.0L1919.2 128.8L1920.2 127.9L1921.2 127.2L1922.0 126.3L1922.2 125.8L1923.2 122.0L1924.1 120.3L1924.2 120.4L1925.2 121.0L1926.2 120.7L1927.2 120.3L1928.2 120.3L1929.2 120.0L1930.2 120.1L1930.2 120.1L1931.2 120.8L1932.2 121.3L1933.2 122.5L1934.2 124.1L1935.2 124.2L1935.7 123.8L1936.2 123.6L1937.2 123.9L1938.2 123.7L1939.2 122.7L1940.2 121.9L1940.5 121.6L1941.2 120.6L1942.2 119.3L1943.2 118.7L1944.2 117.9L1944.6 117.5L1945.2 117.3L1946.2 118.4L1947.2 119.6L1948.0 120.0L1948.2 120.1L1949.2 121.7L1950.2 123.9L1951.2 125.0L1951.4 125.1L1952.2 125.7L1953.2 125.9L1954.2 125.7L1954.9 126.1L1955.2 126.4L1956.2 126.4L1957.2 124.5L1958.2 122.7L1958.3 122.6L1959.2 120.7L1960.1 117.5L1961.0 114.7L1961.0 114.6L1962.0 112.7L1963.0 110.6L1964.0 109.0L1964.4 108.6L1965.0 108.4L1966.0 107.4L1967.0 106.5L1968.0 107.0L1969.0 106.9L1969.9 105.6L1970.0 105.5L1971.0 104.8L1972.0 104.5L1973.0 104.0L1974.0 103.7L1975.0 103.3L1975.4 103.0L1976.0 102.7L1977.0 103.1L1978.0 103.6L1979.0 103.1L1980.0 103.4L1981.0 104.3L1982.0 104.1L1983.0 103.9L1983.6 104.2L1984.0 104.5L1985.0 105.3L1986.0 106.6L1987.0 107.8L1988.0 107.9L1988.4 107.9L1989.0 108.3L1990.0 109.6L1991.0 109.9L1992.0 109.7L1993.0 110.4L1994.0 111.0L1994.6 111.2L1995.0 111.4L1996.0 113.5L1997.0 116.3L1997.3 117.4L1997.9 120.5L1998.3 123.9L1998.7 127.2L1999.1 130.2L1999.3 131.7L1999.5 132.8L2000.0 135.5L2000.5 137.3L2000.7 137.4L2001.5 136.0L2002.4 133.7L2002.8 133.1L2003.4 132.3L2004.4 131.1L2005.4 130.5L2006.2 129.7L2006.4 129.3L2007.4 125.8L2008.2 123.9L2008.2 123.8L2009.2 122.3L2010.2 120.5L2011.2 120.0L2012.2 119.8L2012.3 119.7L2013.2 119.0L2014.2 119.2L2015.2 120.0L2016.2 119.8L2017.2 119.4L2017.8 119.4L2018.2 119.3L2019.2 119.5L2020.2 120.8L2021.2 122.2L2022.2 122.4L2023.2 123.1L2023.3 123.2L2024.2 124.6L2025.2 125.3L2026.2 125.8L2027.2 127.2L2028.2 128.2L2029.2 128.9L2030.1 129.8L2030.2 129.9L2031.2 130.5L2032.2 131.6L2033.2 133.4L2034.2 134.1L2035.2 134.2L2036.2 135.5L2037.2 137.0L2038.2 137.8L2039.2 138.8L2040.2 139.6L2040.2 139.7L2041.2 140.3L2042.2 141.6L2043.2 142.6L2044.2 143.1L2045.2 144.6L2046.2 145.9L2047.2 145.7L2048.2 145.8L2048.4 145.9L2049.2 146.6L2050.2 146.9L2051.2 147.0L2052.2 147.1L2052.5 147.1L2053.2 147.6L2054.2 150.9L2055.0 154.6L2055.8 157.2L2056.0 157.6L2056.8 159.0L2057.8 162.0L2058.8 164.6L2059.8 165.9L2060.8 167.1L2061.4 167.6L2061.8 167.7L2062.8 167.5L2063.8 167.3L2064.8 166.6L2065.8 165.7L2066.2 165.6L2066.8 166.2L2067.8 167.5L2068.8 167.6L2069.8 167.9L2070.8 168.9L2071.7 169.0L2071.8 169.0L2072.8 168.7L2073.8 168.7L2074.8 167.9L2075.8 167.4L2076.8 167.0L2077.8 165.7L2078.5 164.9L2078.8 164.9L2079.8 165.3L2080.8 164.8L2081.8 163.3L2082.8 162.6L2083.8 162.1L2084.8 161.5L2085.8 161.2L2086.8 160.2L2086.8 160.2L2087.8 159.0L2088.8 158.7L2089.8 158.0L2090.8 156.5L2091.8 156.1L2092.8 155.8L2093.8 154.5L2094.8 153.3L2095.8 152.6L2096.8 151.9L2097.8 151.7L2098.8 151.2L2099.1 150.8L2099.8 149.7L2100.8 149.1L2101.8 149.5L2102.8 148.9L2103.8 148.2L2104.8 148.3L2105.8 147.8L2106.8 147.1L2107.8 146.8L2108.8 146.1L2109.8 145.7L2110.8 145.6L2111.4 144.8L2111.8 144.0L2112.8 141.3L2113.8 139.6L2114.8 137.5L2115.5 135.7L2115.8 135.0L2116.8 132.9L2117.8 130.8L2118.8 128.7L2119.8 127.3L2120.8 125.6L2121.8 123.6L2122.3 123.0L2122.8 122.8L2123.8 121.7L2124.8 119.6L2125.8 118.5L2126.8 118.1L2127.8 117.1L2128.8 115.9L2129.8 114.7L2130.8 113.5L2131.8 113.2L2132.8 113.2L2133.3 112.6L2133.8 111.8L2134.8 110.9L2135.8 111.0L2136.8 110.3L2137.8 109.4L2138.8 109.4L2139.8 109.1L2140.8 108.5L2141.8 108.1L2142.8 107.2L2143.8 106.8L2144.8 107.5L2145.8 107.0L2146.8 105.7L2147.0 105.6L2147.8 105.5L2148.8 105.6L2149.8 105.1L2150.8 104.9L2151.8 104.5L2152.8 103.8L2153.8 103.8L2154.8 103.4L2155.8 102.5L2156.8 102.8L2157.8 103.2L2158.8 102.2L2159.8 101.6L2160.7 101.9L2160.8 101.9L2161.8 102.0L2162.8 102.1L2163.8 102.1L2164.8 101.3L2165.8 101.3L2166.8 102.0L2167.8 101.6L2168.8 101.2L2169.8 101.7L2170.2 101.7L2170.8 101.3L2171.8 99.9L2172.8 99.0L2173.8 97.9L2174.8 96.8L2175.7 96.3L2175.8 96.2L2176.8 94.8L2177.8 93.5L2178.8 93.6L2179.8 93.3L2180.8 92.1L2181.8 91.5L2182.8 91.4L2183.8 90.8L2183.9 90.8L2184.8 90.9L2185.8 90.9L2186.8 90.6L2187.8 91.0L2188.8 90.9L2189.8 89.9L2190.8 90.1L2191.8 90.9L2192.1 91.0L2192.8 90.4L2193.8 89.4L2194.8 88.8L2195.8 87.8L2196.8 87.2L2197.8 86.8L2198.8 85.5L2199.0 85.2L2199.8 84.7L2200.8 84.8L2201.8 83.8L2202.8 82.8L2203.8 83.0L2204.8 82.8L2205.8 81.8L2206.8 81.2L2207.8 80.6L2208.3 80.3" fill="none" stroke="#000" stroke-width="7.1" clip-path="url(#cp)" stroke-linejoin="round" stroke-linecap="butt"/>
<path d="M207.3 546.3L208.3 546.3L209.3 546.3L210.3 546.3L211.3 546.3L212.3 546.3L213.3 546.3L214.3 546.3L215.3 546.3L216.3 546.3L217.3 546.2L218.3 546.2L219.3 546.2L220.3 546.2L221.3 546.3L222.3 546.3L223.3 546.0L224.3 546.0L225.3 546.3L226.3 546.2L227.3 546.1L228.3 546.2L229.3 546.0L230.3 545.9L231.3 546.0L232.3 545.9L233.3 546.1L234.3 546.4L235.3 545.7L236.3 545.3L236.5 545.4L237.3 546.0L238.3 546.3L239.3 545.9L240.3 545.7L241.3 545.4L242.3 545.3L243.3 545.8L244.3 545.5L245.3 545.0L246.3 545.4L247.3 545.2L248.3 544.3L249.3 544.5L250.3 545.1L251.3 544.8L252.3 544.4L253.3 543.8L254.3 543.4L255.3 544.1L256.3 544.4L257.3 543.3L258.3 543.0L259.3 543.4L260.3 542.9L261.3 542.7L262.3 543.0L263.3 542.8L264.3 542.5L265.3 542.3L266.3 541.6L267.3 541.8L268.3 542.8L269.3 542.2L270.3 541.0L271.3 541.3L272.3 541.6L273.0 541.5L273.3 541.5L274.3 541.6L275.3 541.2L276.3 540.8L277.3 541.2L278.3 540.9L279.3 540.3L280.3 541.1L281.3 541.4L282.3 540.2L283.3 539.8L284.3 540.3L285.3 540.5L286.3 540.8L287.3 540.4L288.3 539.3L289.3 539.7L290.3 540.4L291.3 539.8L292.3 539.5L293.3 540.1L294.3 539.6L295.3 539.0L296.3 539.3L297.3 539.5L298.3 539.7L299.3 539.9L300.3 538.7L301.3 538.2L302.3 539.6L303.3 539.8L304.3 538.9L305.3 538.9L306.3 538.9L307.3 538.7L308.3 539.2L309.3 539.2L309.5 539.1L310.3 538.9L311.3 539.5L312.3 539.1L313.3 538.0L314.3 538.8L315.3 540.0L316.3 539.4L317.3 538.7L318.3 538.7L319.3 538.6L320.3 539.5L321.3 539.9L322.3 538.8L323.3 538.8L324.3 539.6L325.3 538.9L326.3 538.7L327.3 539.8L328.3 539.8L329.3 539.1L330.3 538.9L331.3 538.7L332.3 539.3L333.3 540.5L334.3 539.6L335.3 538.4L336.3 539.2L337.3 539.8L338.3 539.3L339.3 539.7L340.3 539.8L341.3 539.2L342.3 539.4L343.3 539.3L344.3 539.0L345.3 540.2L346.0 540.7L346.3 540.4L347.3 538.6L348.3 538.4L349.3 539.5L350.3 539.4L351.3 539.0L352.3 538.5L353.3 537.5L354.3 537.6L355.3 538.1L356.3 537.2L357.3 537.0L358.3 537.8L359.3 536.8L360.3 535.8L360.6 535.9L361.3 536.7L362.3 537.4L363.3 537.3L364.3 537.2L365.3 536.1L366.3 535.9L367.3 537.6L368.3 537.7L369.3 536.5L370.3 536.9L371.3 537.3L372.3 536.6L373.3 537.0L374.3 537.5L375.2 537.4L375.3 537.4L376.3 537.7L377.3 537.3L378.3 536.4L379.3 538.0L380.3 539.6L381.3 538.7L382.3 538.1L383.3 538.9L384.3 539.3L385.3 539.9L386.3 540.5L387.3 540.0L388.3 540.1L389.3 540.8L389.8 540.4L390.3 539.8L391.3 539.5L392.3 540.8L393.3 540.2L394.3 538.3L395.3 537.9L396.3 538.0L397.1 538.3L397.3 538.5L398.3 539.7L399.3 539.4L400.3 539.1L401.3 541.0L402.3 541.9L402.6 541.6L403.3 540.7L404.3 540.2L405.3 539.2L406.3 536.6L407.3 535.0L408.0 534.7L408.3 534.6L409.3 534.4L410.3 535.2L411.3 534.7L412.3 532.5L413.3 532.5L414.3 534.1L415.3 533.6L416.3 532.8L417.3 532.9L418.3 532.2L419.3 532.0L420.3 532.5L421.3 531.8L422.3 532.0L423.3 532.7L424.3 531.2L425.3 530.0L426.3 531.4L427.3 532.1L428.1 531.4L428.3 531.2L429.3 530.7L430.3 530.1L431.3 530.0L432.3 531.1L433.3 530.8L434.3 529.6L435.3 530.1L436.3 530.2L437.3 529.0L438.3 529.3L439.3 530.1L440.3 529.8L441.3 529.3L442.3 528.7L443.3 528.2L444.3 529.1L445.3 529.8L446.3 528.5L446.4 528.3L447.3 527.8L448.3 528.4L449.3 528.2L450.3 527.9L451.3 528.2L452.3 527.8L453.3 527.5L454.3 527.5L455.3 526.7L456.3 526.8L457.3 527.8L458.3 527.3L459.3 526.0L460.3 526.2L461.3 526.7L462.3 526.6L463.3 526.8L464.3 526.4L464.6 526.2L465.3 526.0L466.3 526.5L467.3 526.6L468.3 526.1L469.3 526.7L470.3 527.1L471.3 526.4L472.3 526.2L473.3 526.7L474.3 526.9L475.3 527.2L476.3 527.1L477.3 526.5L478.3 526.8L479.3 527.5L480.3 527.3L481.3 527.1L482.3 527.4L483.3 527.4L484.3 527.3L485.3 527.5L486.3 527.6L487.3 527.7L488.3 527.8L489.3 527.5L490.3 527.5L491.3 527.8L492.0 527.9L492.3 527.9L493.3 527.6L494.3 527.5L495.3 527.3L496.3 527.0L497.3 526.8L498.3 526.5L499.3 526.1L500.3 525.7L501.3 525.3L502.3 524.9L503.3 524.5L504.3 524.2L505.3 523.8L506.3 523.5L507.3 523.2L508.3 522.9L509.3 522.7L510.2 522.6L510.3 522.6L511.3 522.5L512.3 522.4L513.3 522.3L514.3 522.2L515.3 522.1L516.3 522.0L517.3 521.9L518.3 521.8L519.3 521.7L520.3 521.6L521.3 521.6L522.3 521.5L523.3 521.4L524.3 521.4L525.3 521.4L526.3 521.3L527.3 521.3L528.3 521.3L528.5 521.3L529.3 521.3L530.3 521.3L531.3 521.3L532.3 521.4L533.3 521.4L534.3 521.4L535.3 521.5L536.3 521.5L537.3 521.6L538.3 521.6L539.3 521.7L540.3 521.7L541.3 521.8L542.3 521.9L543.3 522.0L544.3 522.0L545.3 522.1L546.3 522.2L547.3 522.3L548.3 522.4L549.3 522.5L550.3 522.6L551.3 522.7L552.3 522.8L553.3 522.9L554.3 523.0L555.3 523.1L555.8 523.1L556.3 523.2L557.3 523.3L558.3 523.4L559.3 523.5L560.3 523.7L561.3 523.8L562.3 524.0L563.3 524.1L564.3 524.3L565.3 524.5L566.3 524.7L567.3 524.9L568.3 525.1L569.3 525.3L570.3 525.5L571.3 525.7L572.3 525.9L573.3 526.1L574.3 526.3L575.3 526.5L576.3 526.7L577.3 526.9L578.3 527.1L579.3 527.3L580.0 527.4L580.3 527.5L581.3 527.6L582.3 527.8L583.3 528.0L584.3 528.2L585.3 528.4L586.3 528.6L587.3 528.8L588.3 529.0L589.3 529.2L590.3 529.4L591.3 529.7L592.3 529.9L593.3 530.1L594.3 530.3L595.3 530.5L596.3 530.7L597.3 530.9L598.3 531.1L599.3 531.3L600.3 531.5L601.3 531.7L602.3 531.9L603.3 532.0L604.3 532.2L605.3 532.4L606.3 532.5L607.3 532.7L608.3 532.8L609.3 533.0L610.3 533.1L611.3 533.2L612.3 533.3L613.3 533.4L614.2 533.5L614.3 533.5L615.3 533.6L616.3 533.7L617.3 533.7L618.3 533.8L619.3 533.9L620.3 533.9L621.3 534.0L622.3 534.0L623.3 534.1L624.3 534.1L625.3 534.2L626.3 534.2L627.3 534.2L628.3 534.3L629.3 534.3L630.3 534.3L631.3 534.4L632.3 534.4L633.3 534.5L634.3 534.5L635.3 534.5L636.3 534.6L637.3 534.6L638.3 534.7L639.3 534.7L640.3 534.8L641.3 534.8L642.3 534.9L643.3 534.9L644.3 535.0L645.3 535.1L646.3 535.1L647.3 535.2L648.3 535.3L648.4 535.3L649.3 535.4L650.3 535.5L651.3 535.6L652.3 535.7L653.3 535.8L654.3 535.9L655.3 536.1L656.3 536.2L657.3 536.4L658.3 536.5L659.3 536.7L660.3 536.9L661.3 537.1L662.3 537.3L663.3 537.5L664.3 537.8L665.3 538.0L666.2 538.3L666.3 538.3L667.3 538.8L668.3 539.5L669.3 540.3L670.3 541.1L671.3 541.8L672.3 542.3L673.1 542.4L673.3 542.4L674.3 542.4L675.3 542.4L676.3 542.4L677.3 542.4L678.3 542.4L679.3 542.4L680.3 542.4L681.3 542.4L682.3 542.5L683.3 542.9L684.3 543.4L685.3 544.1L686.3 544.9L687.3 545.8L688.1 546.5L688.3 546.7L689.3 547.9L690.3 549.6L691.3 551.4L692.3 553.5L692.9 554.7L693.3 555.6L694.3 558.1L695.3 560.8L696.3 563.4L697.0 565.0L697.3 565.6L698.3 567.4L699.3 569.0L700.3 570.8L701.1 572.5L701.3 573.0L702.3 576.4L703.1 579.4L703.9 582.1L704.5 583.5L704.9 584.1L705.9 585.3L706.9 586.1L707.9 587.0L708.9 588.3L709.3 589.0L709.9 590.7L710.8 594.4L711.3 597.7L711.8 600.8L712.1 602.6L712.3 604.0L712.7 607.3L713.0 610.5L713.3 613.6L713.6 616.7L713.8 619.7L714.1 622.7L714.1 623.2L714.3 625.9L714.6 629.4L714.8 633.2L715.1 637.0L715.3 640.9L715.5 643.7L715.6 644.6L715.8 648.6L716.1 652.9L716.3 657.1L716.6 660.7L716.8 663.5L716.9 664.2L717.1 665.9L717.6 668.4L717.9 669.0L718.4 667.5L719.0 663.7L719.4 660.7L719.8 658.1L719.9 657.4L720.3 655.6L721.0 652.7L721.8 650.4L722.3 649.9L722.8 650.5L723.8 654.4L724.4 657.4L724.4 657.6L725.0 661.6L725.3 664.9L725.6 668.0L725.8 671.0L726.1 674.1L726.3 677.2L726.4 677.9L726.6 680.4L726.8 684.1L727.1 688.1L727.3 692.0L727.6 695.7L727.8 698.4L727.8 698.9L728.1 702.0L728.3 705.3L728.6 708.5L728.8 711.3L729.1 713.8L729.5 715.0L729.6 715.0L730.6 713.0L731.5 709.5L731.9 708.0L732.3 706.2L732.8 702.8L733.2 699.7L733.6 696.8L734.1 694.1L734.6 692.0L734.6 691.9L735.6 689.7L736.6 688.4L737.1 688.2L737.6 688.5L738.6 690.4L739.6 693.1L740.1 694.3L740.6 695.8L741.6 699.3L741.8 700.0L742.4 703.0L742.8 706.3L743.2 709.5L743.6 712.6L743.9 715.7L744.1 717.4L744.2 718.7L744.5 721.9L744.8 725.1L745.0 728.5L745.3 732.0L745.5 735.7L745.8 739.6L746.0 743.6L746.1 744.7L746.3 747.8L746.5 752.7L746.8 757.9L747.0 763.1L747.3 768.1L747.5 772.1L747.5 772.6L747.8 777.0L748.0 781.6L748.3 785.7L748.5 789.1L748.8 791.2L748.8 791.3L749.4 793.7L749.9 794.7L750.3 794.5L751.3 791.5L751.9 788.0L752.3 785.8L752.5 784.4L752.7 780.7L753.0 776.2L753.2 771.5L753.5 767.1L753.6 765.3L753.7 763.4L754.0 759.8L754.2 756.1L754.5 752.8L754.7 749.9L755.0 747.5L755.0 747.4L755.5 744.5L755.9 741.7L756.5 739.2L757.1 737.9L757.4 737.5L758.4 736.7L759.4 736.3L760.4 736.0L761.4 735.5L762.4 734.6L762.5 734.5L763.4 731.7L764.1 728.3L764.6 725.6L764.7 725.3L765.2 721.6L765.5 718.6L766.0 716.2L766.0 716.0L766.7 713.6L767.6 711.4L768.0 711.2L768.6 711.6L769.6 713.7L770.6 717.1L770.7 717.4L771.4 722.2L771.7 725.5L772.0 728.6L772.3 731.6L772.5 734.7L772.8 737.7L772.8 737.9L773.0 740.7L773.3 743.9L773.5 747.2L773.8 750.6L774.0 754.1L774.3 757.8L774.5 761.4L774.8 765.2L774.8 765.3L775.0 768.9L775.3 772.7L775.5 776.7L775.8 780.7L776.0 784.8L776.3 788.9L776.5 793.2L776.8 797.6L776.9 799.5L777.0 802.0L777.3 806.6L777.5 811.3L777.8 816.2L778.0 821.1L778.3 826.1L778.5 831.2L778.8 836.2L779.0 840.5L779.0 841.3L779.3 846.7L779.5 852.2L779.8 857.8L780.0 863.0L780.3 867.7L780.3 867.9L780.5 872.2L780.8 876.7L781.0 880.9L781.3 884.6L781.5 887.3L781.7 888.4L781.9 889.3L782.5 891.6L782.8 891.9L783.5 890.0L784.1 886.2L784.4 884.3L784.6 882.8L784.8 879.2L785.1 875.0L785.3 870.3L785.6 865.3L785.8 861.1L785.8 860.3L786.1 854.8L786.3 848.7L786.6 842.2L786.8 835.7L787.1 829.5L787.2 826.9L787.3 823.7L787.6 817.8L787.8 811.9L788.1 806.1L788.3 800.8L788.6 796.0L788.8 792.6L788.8 792.0L789.1 788.3L789.3 784.7L789.6 781.3L789.8 778.3L790.1 775.6L790.4 773.0L790.6 772.1L790.9 770.8L791.6 768.1L792.5 765.7L793.5 764.6L793.6 764.6L794.5 766.3L795.5 770.2L796.1 773.3L796.1 773.5L796.6 777.4L797.0 780.7L797.2 783.7L797.5 786.7L797.8 789.7L798.1 792.4L798.1 792.6L798.4 795.5L798.8 798.5L799.1 801.4L799.5 804.3L799.8 807.1L800.2 809.1L800.3 809.6L800.9 812.5L801.6 815.1L802.2 815.9L802.6 815.7L803.6 814.1L804.6 811.5L805.0 810.4L805.6 808.2L806.3 804.8L806.9 801.6L807.4 798.6L807.7 796.7L807.9 795.5L808.3 792.3L808.7 789.1L809.1 786.1L809.5 783.0L809.8 780.1L810.1 777.1L810.4 774.9L810.5 774.2L810.9 771.1L811.2 768.0L811.5 765.0L811.9 762.0L812.2 759.1L812.6 756.2L813.0 753.3L813.2 751.6L813.4 750.5L813.8 747.5L814.3 744.6L814.8 741.7L815.4 738.9L815.9 736.5L816.0 736.1L816.7 733.2L817.5 730.3L818.3 727.5L819.2 724.7L820.0 722.8L820.2 722.4L821.2 720.4L822.2 718.8L823.2 717.6L823.4 717.4L824.2 716.7L825.2 716.0L825.5 716.0L826.2 716.5L827.2 718.5L828.2 721.5L829.1 727.0L829.5 730.2L829.8 733.3L830.1 736.2L830.3 737.9L830.4 739.2L830.8 742.4L831.0 745.5L831.3 748.4L831.6 751.5L831.9 754.4L832.2 757.2L832.3 758.4L832.5 760.2L832.8 763.3L833.1 766.3L833.4 769.0L833.8 771.1L834.0 771.4L834.8 770.6L835.8 767.8L836.4 765.3L836.6 763.7L836.9 759.9L837.1 755.7L837.4 751.2L837.6 746.9L837.8 744.7L837.9 743.3L838.1 739.9L838.4 736.4L838.6 733.1L838.9 729.8L839.1 726.5L839.4 723.4L839.6 720.3L839.9 717.4L839.9 717.3L840.2 714.5L840.5 711.6L840.8 708.6L841.1 705.6L841.4 702.5L841.7 699.4L841.8 698.0L842.0 696.1L842.2 692.8L842.5 689.2L842.7 685.4L843.0 681.5L843.2 677.6L843.5 673.7L843.7 669.9L844.0 666.3L844.1 664.2L844.2 662.9L844.5 659.5L844.7 656.2L845.0 652.9L845.2 649.7L845.5 646.5L845.7 643.4L846.0 640.3L846.2 637.4L846.5 634.5L846.7 631.6L846.9 630.0L847.0 628.7L847.3 625.8L847.7 622.8L848.0 619.9L848.3 616.9L848.7 614.0L849.1 611.1L849.5 608.1L849.9 605.3L850.3 602.6L850.3 602.4L850.8 599.4L851.3 596.5L851.9 593.6L852.5 590.8L853.1 588.1L853.7 586.2L853.9 585.6L854.9 583.4L855.9 581.7L856.9 580.2L857.9 578.7L858.9 577.1L859.2 576.6L859.9 575.1L860.9 572.9L861.9 570.7L862.9 568.4L863.9 566.1L864.7 564.5L864.9 564.0L865.9 561.8L866.9 559.6L867.9 557.4L868.9 555.4L869.9 553.8L870.5 553.0L870.9 552.5L871.9 551.3L872.9 550.3L873.9 549.3L874.9 548.5L875.9 547.9L876.4 547.7L876.9 547.5L877.9 547.1L878.9 546.8L879.9 546.6L880.9 546.4L881.9 546.2L882.9 545.9L883.9 545.6L884.6 545.4L884.9 545.3L885.9 544.7L886.9 544.1L887.9 543.5L888.9 542.8L889.9 542.2L890.9 541.8L891.5 541.6L891.9 541.5L892.9 541.3L893.9 541.1L894.9 540.9L895.9 540.7L896.9 540.5L897.9 540.4L898.9 540.3L899.9 540.2L900.9 540.2L901.1 540.2L901.9 540.3L902.9 540.7L903.9 541.3L904.9 542.1L905.2 542.3L905.9 543.6L906.9 546.8L907.8 549.8L908.6 552.5L909.6 555.5L910.6 558.2L911.3 559.4L911.6 559.7L912.6 560.4L913.4 560.7L913.6 560.7L914.6 559.5L915.4 558.0L915.6 557.6L916.6 553.9L917.2 550.8L917.9 548.1L918.2 547.1L918.7 545.6L919.7 542.9L920.7 540.8L921.6 539.5L921.7 539.4L922.7 538.5L923.7 537.7L924.7 537.1L925.7 536.6L926.7 536.2L927.1 536.1L927.7 535.9L928.7 535.7L929.7 535.4L930.7 535.2L931.7 535.1L932.7 534.9L933.7 534.7L933.9 534.7L934.7 534.5L935.7 534.3L936.7 534.1L937.7 533.9L938.7 533.7L939.7 533.6L940.7 533.5L941.7 533.4L942.1 533.4L942.7 533.4L943.7 533.4L944.7 533.4L945.7 533.4L946.7 533.5L947.7 533.5L948.7 533.5L949.7 533.5L950.7 533.6L951.7 533.6L952.7 533.6L953.7 533.7L954.7 533.7L955.7 533.8L955.8 533.8L956.7 533.9L957.7 534.1L958.7 534.4L959.7 534.8L960.7 535.2L961.7 535.6L962.7 536.1L963.7 536.5L964.7 536.9L965.7 537.2L966.7 537.4L967.7 537.5L968.1 537.5L968.7 537.5L969.7 537.3L970.7 537.0L971.7 536.6L972.7 536.2L973.7 535.7L974.7 535.3L975.7 535.0L976.7 534.8L977.7 534.7L977.7 534.7L978.7 534.8L979.7 535.0L980.7 535.3L981.7 535.6L982.7 535.9L983.7 536.1L984.5 536.1L984.7 536.1L985.7 535.8L986.7 535.3L987.7 534.7L988.7 534.0L989.7 533.6L990.7 533.4L990.7 533.4L991.7 533.6L992.7 534.0L993.7 534.6L994.7 535.0L995.7 535.4L996.2 535.4L996.7 535.4L997.7 535.1L998.7 534.6L999.7 534.0L1000.7 533.4L1001.7 532.9L1002.3 532.7L1002.7 532.6L1003.7 532.3L1004.7 532.0L1005.7 531.8L1006.7 531.6L1007.7 531.4L1008.7 531.3L1009.2 531.3L1009.7 531.3L1010.7 531.3L1011.7 531.3L1012.7 531.4L1013.7 531.4L1014.7 531.4L1015.7 531.5L1016.7 531.6L1017.7 531.6L1018.7 531.7L1019.7 531.7L1020.7 531.8L1021.7 531.9L1022.7 531.9L1023.7 532.0L1024.2 532.0L1024.7 532.0L1025.7 532.1L1026.7 532.2L1027.7 532.2L1028.7 532.3L1029.7 532.4L1030.7 532.5L1031.7 532.6L1032.7 532.6L1033.7 532.7L1034.7 532.8L1035.7 532.9L1036.7 532.9L1037.7 533.0L1038.7 533.0L1039.7 533.1L1040.7 533.1L1041.7 533.1L1042.0 533.1L1042.7 533.1L1043.7 533.1L1044.7 533.0L1045.7 532.9L1046.7 532.9L1047.7 532.8L1048.7 532.7L1049.7 532.5L1050.7 532.4L1051.7 532.3L1052.7 532.2L1053.7 532.1L1054.7 532.0L1055.7 531.9L1056.7 531.8L1057.7 531.8L1058.7 531.7L1059.7 531.7L1059.8 531.7L1060.7 531.7L1061.7 531.7L1062.7 531.8L1063.7 531.8L1064.7 531.9L1065.7 532.0L1066.7 532.0L1067.7 532.1L1068.7 532.2L1069.7 532.3L1070.7 532.4L1071.7 532.5L1072.7 532.6L1073.7 532.8L1074.7 532.9L1075.7 533.0L1076.7 533.1L1077.7 533.2L1078.7 533.3L1079.7 533.3L1080.7 533.4L1081.7 533.5L1082.7 533.5L1083.7 533.6L1084.7 533.6L1085.7 533.6L1085.8 533.6L1086.7 533.6L1087.7 533.5L1088.7 533.5L1089.7 533.4L1090.7 533.3L1091.7 533.1L1092.7 533.0L1093.7 532.8L1094.7 532.7L1095.7 532.5L1096.7 532.3L1097.7 532.2L1098.7 532.0L1099.7 531.9L1100.7 531.7L1101.7 531.6L1102.7 531.5L1103.7 531.4L1104.7 531.3L1105.7 531.3L1106.3 531.3L1106.7 531.3L1107.7 531.3L1108.7 531.3L1109.7 531.3L1110.7 531.3L1111.7 531.3L1112.7 531.3L1113.7 531.3L1114.7 531.3L1115.7 531.3L1116.7 531.3L1117.7 531.3L1118.7 531.3L1119.7 531.3L1120.7 531.3L1121.7 531.3L1122.7 531.3L1122.8 531.3L1123.7 531.4L1124.7 531.6L1125.7 531.8L1126.7 532.2L1127.7 532.5L1128.7 532.9L1129.7 533.1L1130.7 533.3L1131.7 533.4L1131.7 533.4L1132.7 532.9L1133.7 531.8L1134.7 530.6L1135.7 529.7L1136.4 529.5L1136.7 529.5L1137.7 529.7L1138.7 530.1L1139.7 530.5L1140.5 530.8L1140.7 530.9L1141.7 531.5L1142.7 532.1L1143.7 532.8L1144.7 533.4L1145.7 533.8L1146.2 533.8L1146.7 533.7L1147.7 533.4L1148.7 532.8L1149.7 532.0L1150.7 531.2L1151.7 530.5L1152.7 530.0L1153.7 529.7L1153.7 529.7L1154.7 529.6L1155.7 529.5L1156.7 529.5L1157.7 529.4L1158.7 529.4L1159.7 529.3L1160.0 529.3L1160.7 529.2L1161.7 529.1L1162.7 529.0L1163.7 528.9L1164.7 528.7L1165.7 528.6L1166.7 528.4L1167.7 528.3L1168.7 528.1L1169.7 528.0L1170.7 527.8L1171.7 527.7L1172.7 527.6L1173.7 527.4L1174.7 527.3L1175.7 527.3L1176.5 527.2L1176.7 527.2L1177.7 527.1L1178.7 527.1L1179.7 527.0L1180.7 527.0L1181.7 526.9L1182.7 526.9L1183.7 526.8L1184.7 526.8L1185.7 526.7L1186.7 526.7L1187.7 526.6L1188.7 526.6L1189.7 526.6L1190.7 526.5L1191.7 526.5L1192.7 526.4L1193.7 526.4L1194.7 526.4L1195.7 526.3L1196.7 526.3L1197.7 526.3L1198.7 526.2L1199.7 526.2L1200.7 526.2L1201.7 526.2L1202.7 526.1L1203.7 526.1L1204.7 526.1L1205.7 526.0L1206.7 526.0L1207.7 526.0L1208.7 526.0L1209.7 525.9L1210.7 525.9L1211.7 525.9L1212.7 525.9L1213.7 525.8L1214.7 525.8L1215.7 525.8L1216.7 525.8L1217.7 525.7L1218.7 525.7L1219.7 525.7L1220.7 525.7L1221.7 525.7L1222.7 525.6L1223.7 525.6L1224.7 525.6L1225.7 525.5L1226.7 525.5L1227.7 525.5L1228.7 525.5L1229.7 525.4L1230.7 525.4L1231.2 525.4L1231.7 525.4L1232.7 525.4L1233.7 525.3L1234.7 525.3L1235.7 525.3L1236.7 525.2L1237.7 525.2L1238.7 525.2L1239.7 525.1L1240.7 525.1L1241.7 525.1L1242.7 525.0L1243.7 525.0L1244.7 525.0L1245.7 524.9L1246.7 524.9L1247.7 524.9L1248.7 524.8L1249.7 524.8L1250.7 524.8L1251.7 524.7L1252.7 524.7L1253.7 524.7L1254.7 524.6L1255.7 524.6L1256.7 524.6L1257.7 524.5L1258.7 524.5L1259.7 524.5L1260.7 524.4L1261.7 524.4L1262.7 524.4L1263.7 524.3L1264.7 524.3L1265.7 524.3L1266.7 524.3L1267.7 524.2L1268.7 524.2L1269.7 524.2L1270.7 524.1L1271.7 524.1L1272.7 524.1L1273.7 524.1L1274.7 524.1L1275.7 524.0L1276.7 524.0L1277.7 524.0L1278.7 524.0L1279.7 524.0L1280.7 524.0L1281.7 523.9L1282.7 523.9L1283.7 523.9L1284.7 523.9L1285.7 523.9L1286.7 523.9L1287.7 523.9L1288.7 523.9L1289.6 523.9L1289.7 523.9L1290.7 523.9L1291.7 523.9L1292.7 523.9L1293.7 523.9L1294.7 523.9L1295.7 524.0L1296.7 524.0L1297.7 524.0L1298.7 524.0L1299.7 524.1L1300.7 524.1L1301.7 524.1L1302.7 524.2L1303.7 524.2L1304.7 524.3L1305.7 524.3L1306.7 524.4L1307.7 524.4L1308.7 524.5L1309.7 524.6L1310.7 524.6L1311.7 524.7L1312.7 524.8L1313.7 524.9L1314.7 525.0L1315.7 525.1L1316.7 525.2L1317.7 525.3L1318.7 525.4L1319.7 525.5L1320.7 525.6L1321.7 525.7L1322.5 525.8L1322.7 525.8L1323.7 526.1L1324.7 526.4L1325.7 526.9L1326.7 527.5L1327.7 528.0L1328.7 528.6L1329.7 529.1L1329.8 529.1L1330.7 529.5L1331.7 529.9L1332.7 530.3L1333.7 530.8L1334.3 531.2L1334.7 531.6L1335.7 533.2L1336.7 535.3L1337.7 537.5L1338.7 539.3L1338.9 539.5L1339.7 540.5L1340.7 541.4L1341.7 542.2L1342.7 543.0L1343.7 543.9L1344.7 545.0L1345.3 545.8L1345.7 546.5L1346.7 549.0L1347.7 551.7L1348.7 553.9L1348.9 554.1L1349.7 555.2L1350.7 556.3L1351.7 556.8L1351.7 556.8L1352.7 555.7L1353.7 553.3L1354.7 550.3L1355.0 549.5L1355.7 546.6L1356.3 543.3L1356.9 540.4L1357.5 537.9L1358.1 536.7L1358.5 536.4L1359.5 535.8L1360.5 535.2L1361.5 534.8L1362.5 534.4L1363.5 534.2L1364.5 534.0L1365.4 534.0L1365.5 534.0L1366.5 534.4L1367.5 535.3L1368.5 536.6L1369.5 538.2L1370.5 539.9L1371.5 541.6L1371.8 542.2L1372.5 543.3L1373.5 545.3L1374.5 547.4L1375.5 549.6L1376.5 551.7L1377.2 553.1L1377.5 553.6L1378.5 555.6L1379.5 557.7L1380.5 559.4L1381.5 560.3L1381.8 560.4L1382.5 560.2L1383.5 559.4L1384.5 558.3L1385.5 557.1L1386.5 556.2L1387.3 555.9L1387.5 555.9L1388.5 556.2L1389.5 556.7L1390.5 557.3L1391.5 557.7L1391.8 557.7L1392.5 556.2L1393.2 552.3L1393.6 549.2L1394.1 546.4L1394.6 544.0L1394.6 544.0L1395.5 541.0L1396.5 538.1L1397.5 535.5L1398.5 533.7L1399.1 533.1L1399.5 532.9L1400.5 532.3L1401.5 531.9L1402.5 531.4L1403.5 531.1L1404.5 530.8L1405.5 530.6L1406.5 530.4L1407.5 530.3L1408.2 530.3L1408.5 530.3L1409.5 530.6L1410.5 531.2L1411.5 531.9L1412.5 532.9L1413.5 533.9L1414.5 534.9L1415.5 535.8L1415.5 535.8L1416.5 536.6L1417.5 537.3L1418.5 538.1L1419.5 538.9L1420.5 539.8L1421.5 540.7L1422.5 541.8L1422.8 542.2L1423.5 543.1L1424.5 545.1L1425.5 547.3L1426.5 549.6L1427.5 551.5L1428.5 552.8L1429.2 553.1L1429.5 553.0L1430.5 551.9L1431.5 549.7L1432.5 547.1L1433.5 544.7L1433.8 544.0L1434.5 542.7L1435.5 540.6L1436.5 538.4L1437.5 536.5L1438.5 535.3L1439.3 534.9L1439.5 534.9L1440.5 535.1L1441.5 535.6L1442.5 536.3L1443.5 537.1L1444.5 538.1L1445.5 539.2L1446.5 540.3L1447.5 541.3L1448.4 542.2L1448.5 542.2L1449.5 543.1L1450.5 544.0L1451.5 544.8L1452.5 545.8L1453.5 546.8L1454.5 547.9L1455.5 549.2L1455.7 549.5L1456.5 551.0L1457.5 553.6L1458.5 556.0L1459.3 556.8L1459.5 556.8L1460.5 555.9L1461.5 553.9L1462.5 551.4L1463.5 548.8L1463.9 547.7L1464.5 546.3L1465.5 543.1L1466.3 540.1L1467.2 537.3L1468.2 535.2L1468.5 534.9L1469.2 534.3L1470.2 533.5L1471.2 532.8L1472.2 532.2L1473.2 531.7L1474.2 531.4L1475.2 531.2L1475.8 531.2L1476.2 531.2L1477.2 531.3L1478.2 531.4L1479.2 531.6L1480.2 531.9L1481.2 532.2L1482.2 532.4L1483.2 532.9L1484.2 533.4L1485.2 533.6L1486.2 533.8L1486.7 533.9L1487.2 533.9L1488.2 534.0L1489.2 535.5L1490.2 536.3L1491.2 535.3L1492.2 535.6L1493.2 536.9L1494.2 537.3L1495.2 537.9L1496.2 538.4L1497.2 538.2L1498.2 538.7L1499.2 539.3L1500.2 538.9L1501.2 539.4L1502.2 540.4L1502.2 540.5L1503.2 539.5L1504.2 538.3L1505.2 538.6L1506.2 538.8L1506.8 538.6L1507.2 538.5L1508.2 538.0L1509.2 536.4L1510.2 535.3L1511.2 535.6L1512.2 534.9L1513.2 533.9L1513.7 534.0L1514.2 535.2L1515.2 538.7L1516.0 540.4L1516.4 540.5L1517.0 540.5L1518.0 540.6L1519.0 540.1L1520.0 539.8L1520.5 539.6L1521.0 539.0L1522.0 537.4L1523.0 537.6L1524.0 538.6L1525.0 537.9L1525.3 537.6L1526.0 537.7L1527.0 539.4L1528.0 541.8L1528.7 543.8L1529.0 545.2L1529.6 549.1L1529.9 552.3L1530.2 555.5L1530.5 558.6L1530.8 561.6L1531.1 564.9L1531.3 568.8L1531.6 573.1L1531.8 577.7L1532.1 582.4L1532.3 587.1L1532.6 591.7L1532.8 595.8L1532.8 596.0L1533.1 600.5L1533.3 605.6L1533.6 610.4L1533.8 614.5L1534.1 617.1L1534.2 617.7L1534.5 618.2L1535.5 619.0L1535.9 619.1L1536.5 616.6L1537.0 613.4L1537.4 611.2L1537.6 610.9L1538.4 622.8L1538.7 628.9L1538.9 634.9L1539.0 636.9L1539.2 640.5L1539.4 646.8L1539.7 653.6L1539.9 660.2L1540.2 666.3L1540.4 671.1L1540.4 671.3L1540.7 675.7L1540.9 680.0L1541.2 683.8L1541.4 686.8L1541.7 688.9L1541.7 688.9L1542.4 691.4L1543.1 692.3L1543.4 691.8L1544.4 685.6L1544.5 684.8L1544.8 681.3L1545.0 675.6L1545.2 668.5L1545.5 660.4L1545.8 652.1L1545.8 650.5L1546.0 643.0L1546.2 631.9L1546.5 620.6L1546.8 611.0L1546.8 609.5L1547.0 603.7L1547.2 596.9L1547.5 591.1L1547.8 586.6L1547.9 584.9L1548.0 584.0L1548.3 581.2L1548.7 578.4L1549.2 575.9L1549.8 574.0L1550.0 573.9L1550.8 578.8L1551.2 581.9L1551.5 584.7L1551.8 587.1L1552.0 587.6L1552.5 588.6L1553.5 590.0L1554.1 590.3L1554.5 589.7L1555.5 584.9L1556.0 582.3L1556.1 582.1L1556.8 579.7L1557.8 576.8L1558.8 573.8L1559.5 571.2L1559.7 570.3L1560.3 566.8L1560.8 563.9L1561.3 561.2L1561.6 560.2L1562.0 559.0L1563.0 556.6L1564.0 554.8L1565.0 554.1L1565.0 554.1L1566.0 554.2L1567.0 554.7L1568.0 555.3L1569.0 556.1L1570.0 557.0L1570.5 557.5L1571.0 558.4L1572.0 561.5L1572.8 564.6L1573.7 567.2L1574.6 568.4L1574.7 568.4L1575.7 568.4L1576.7 568.4L1577.7 568.4L1578.7 568.4L1578.7 568.4L1579.7 568.5L1580.7 568.9L1581.7 569.6L1582.7 570.4L1583.5 571.2L1583.7 571.4L1584.7 574.0L1585.5 577.6L1586.2 580.8L1586.7 583.8L1586.9 584.9L1587.2 587.0L1587.7 590.3L1588.1 593.5L1588.4 596.7L1588.8 599.8L1589.0 602.6L1589.0 603.0L1589.3 606.4L1589.5 610.4L1589.8 615.0L1590.0 619.7L1590.3 624.4L1590.5 628.8L1590.6 630.0L1590.8 632.9L1591.0 636.8L1591.3 640.6L1591.5 644.4L1591.8 648.1L1592.0 651.9L1592.3 655.7L1592.5 659.6L1592.8 663.7L1592.8 664.0L1593.0 667.8L1593.3 671.8L1593.5 675.8L1593.8 680.0L1594.0 684.4L1594.3 689.1L1594.5 694.2L1594.7 698.0L1594.8 699.9L1595.0 706.6L1595.3 714.2L1595.5 722.3L1595.8 730.4L1595.8 731.0L1596.0 738.9L1596.3 748.2L1596.5 757.5L1596.8 765.9L1597.0 772.0L1597.0 772.7L1597.3 778.1L1597.5 782.7L1597.8 786.9L1598.0 791.1L1598.2 794.0L1598.3 795.4L1598.5 799.8L1598.8 804.1L1599.0 808.4L1599.3 812.7L1599.3 813.0L1599.5 817.3L1599.8 822.4L1600.0 827.3L1600.3 831.3L1600.5 833.7L1600.5 833.9L1600.9 836.7L1601.4 839.4L1602.0 841.6L1602.3 841.9L1603.0 840.8L1603.9 835.9L1604.2 833.7L1604.3 831.9L1604.6 825.4L1604.8 815.8L1605.1 804.8L1605.2 799.5L1605.3 793.1L1605.6 777.9L1605.8 761.3L1606.1 745.8L1606.1 744.7L1606.3 731.9L1606.6 718.3L1606.8 706.5L1607.0 700.0L1607.1 697.5L1607.3 691.0L1607.6 685.4L1607.8 680.0L1607.8 679.2L1608.1 671.2L1608.3 662.5L1608.6 654.9L1608.8 650.5L1608.8 650.1L1609.1 646.9L1609.3 643.9L1609.6 641.0L1609.9 638.3L1610.2 635.6L1610.7 633.4L1611.1 632.7L1611.6 633.1L1612.6 635.6L1613.5 639.2L1614.1 642.5L1614.3 643.7L1614.6 646.2L1614.9 649.7L1615.2 653.1L1615.4 656.9L1615.7 660.9L1615.9 665.1L1616.2 669.2L1616.3 671.1L1616.4 673.2L1616.7 677.5L1616.9 682.1L1617.2 686.9L1617.4 691.7L1617.6 695.0L1617.7 696.5L1617.9 701.4L1618.2 706.2L1618.4 711.2L1618.7 716.2L1618.9 721.3L1619.2 726.5L1619.4 731.1L1619.4 731.7L1619.7 737.2L1619.9 742.7L1620.2 748.3L1620.4 754.0L1620.7 759.8L1620.9 765.7L1621.2 771.5L1621.4 777.4L1621.5 779.0L1621.7 783.3L1621.9 789.4L1622.2 795.7L1622.4 802.0L1622.7 808.2L1622.9 814.3L1623.2 820.1L1623.4 825.5L1623.5 826.9L1623.7 830.6L1623.9 835.8L1624.2 840.9L1624.4 845.4L1624.7 849.1L1624.9 851.5L1624.9 851.8L1625.3 854.7L1625.7 857.4L1626.1 859.9L1626.7 861.1L1626.9 861.0L1627.9 857.3L1628.3 853.7L1628.6 851.5L1628.7 850.1L1629.0 843.6L1629.2 834.0L1629.5 823.3L1629.7 813.2L1630.0 803.7L1630.2 793.8L1630.5 783.6L1630.7 773.6L1631.0 763.9L1631.1 758.4L1631.2 754.8L1631.5 745.8L1631.7 737.0L1632.0 728.6L1632.2 720.7L1632.4 715.0L1632.5 713.6L1632.7 707.2L1633.0 701.2L1633.2 695.7L1633.4 691.6L1633.5 690.6L1633.7 685.9L1634.0 681.5L1634.2 677.3L1634.5 673.3L1634.7 669.4L1635.0 665.6L1635.2 661.9L1635.5 658.1L1635.5 657.4L1635.7 654.4L1636.0 650.7L1636.2 647.0L1636.5 643.3L1636.7 639.8L1637.0 636.5L1637.2 633.4L1637.5 630.4L1637.5 630.0L1637.7 627.5L1638.0 624.5L1638.3 621.6L1638.6 618.7L1638.9 615.9L1639.3 613.4L1639.6 612.2L1639.9 611.2L1640.9 608.7L1641.9 607.1L1642.3 606.7L1642.9 606.4L1643.9 606.1L1644.9 605.7L1645.3 605.4L1645.9 604.2L1646.8 600.2L1647.4 597.3L1647.8 595.8L1648.1 594.8L1649.1 592.0L1650.1 589.3L1651.1 586.6L1651.2 586.2L1652.1 583.5L1653.0 580.6L1654.0 578.1L1654.0 578.0L1655.0 576.4L1656.0 574.9L1657.0 574.0L1657.4 573.9L1658.0 574.1L1659.0 575.4L1660.0 577.6L1660.1 578.0L1661.0 583.0L1661.3 586.3L1661.6 589.4L1661.9 592.5L1662.2 595.4L1662.2 595.8L1662.5 598.6L1662.7 601.8L1663.0 605.2L1663.2 608.8L1663.5 612.5L1663.7 616.1L1664.0 619.8L1664.2 623.2L1664.5 626.5L1664.7 629.8L1665.0 633.0L1665.2 636.2L1665.5 639.4L1665.7 642.6L1666.0 645.9L1666.2 649.2L1666.3 650.5L1666.5 652.6L1666.7 656.2L1667.0 660.0L1667.2 663.8L1667.5 667.5L1667.7 671.0L1668.0 674.2L1668.2 676.9L1668.3 677.9L1668.5 679.7L1668.8 682.8L1669.1 685.5L1669.5 688.1L1670.0 689.5L1670.1 689.5L1671.1 685.0L1671.5 681.6L1671.8 678.4L1671.8 677.9L1672.0 673.7L1672.3 666.2L1672.5 657.1L1672.7 650.5L1672.8 647.1L1673.0 633.7L1673.3 619.4L1673.5 609.5L1673.5 608.5L1673.8 600.4L1674.0 593.0L1674.3 586.6L1674.5 581.2L1674.8 576.9L1674.9 575.3L1675.0 573.7L1675.3 570.9L1675.5 568.1L1675.8 565.3L1676.2 562.5L1676.6 559.8L1677.2 557.6L1677.2 557.5L1678.2 555.3L1679.2 553.7L1680.2 552.8L1680.6 552.7L1681.2 552.9L1682.2 553.9L1683.2 555.5L1684.1 557.5L1684.2 557.6L1685.2 562.2L1685.7 565.3L1686.2 568.2L1686.7 570.8L1686.8 571.2L1687.5 573.5L1688.3 576.0L1688.9 576.6L1689.3 576.2L1690.3 573.0L1691.1 569.9L1691.8 567.6L1692.3 567.1L1692.8 567.5L1693.8 569.4L1694.8 571.6L1695.7 572.5L1695.8 572.5L1696.8 571.8L1697.8 570.5L1698.8 568.8L1699.1 568.4L1699.8 566.8L1700.8 563.9L1701.8 561.2L1702.5 560.2L1702.8 559.9L1703.8 559.1L1704.8 558.5L1705.8 558.2L1706.0 558.2L1706.8 558.6L1707.8 559.8L1708.8 561.6L1709.8 563.7L1710.1 564.3L1710.8 566.3L1711.8 569.7L1712.5 572.8L1713.2 575.7L1713.5 576.6L1714.0 578.8L1714.7 581.8L1715.5 584.2L1716.0 584.9L1716.5 584.6L1717.5 582.2L1718.4 578.8L1719.0 576.6L1719.2 575.9L1720.0 572.5L1720.6 569.3L1721.2 566.3L1721.7 563.3L1722.3 560.5L1722.4 560.2L1723.0 557.4L1723.6 554.4L1724.2 551.6L1725.0 549.4L1725.1 549.3L1726.0 548.3L1727.0 547.5L1727.9 547.2L1728.0 547.2L1729.0 548.5L1730.0 551.1L1731.0 554.1L1732.0 556.3L1732.7 556.8L1733.0 556.7L1734.0 554.8L1735.0 551.9L1736.0 549.4L1736.8 548.6L1737.0 548.6L1738.0 549.8L1739.0 551.7L1740.0 553.4L1740.9 554.1L1741.0 554.1L1742.0 553.7L1743.0 552.6L1744.0 551.2L1745.0 549.5L1746.0 547.7L1746.3 547.2L1747.0 545.7L1748.0 542.9L1749.0 540.0L1750.0 537.6L1750.4 537.0L1751.0 536.2L1752.0 535.0L1753.0 534.0L1754.0 533.5L1754.3 533.5L1755.0 533.8L1756.0 534.8L1757.0 536.4L1758.0 538.4L1758.7 539.7L1759.0 540.4L1760.0 543.6L1760.8 546.7L1761.6 549.4L1762.6 551.2L1762.8 551.3L1763.6 550.5L1764.6 548.2L1765.6 545.5L1766.6 543.9L1766.9 543.8L1767.6 544.2L1768.6 545.6L1769.6 547.7L1770.6 549.9L1771.0 550.6L1771.6 551.9L1772.6 554.4L1773.6 557.0L1774.6 559.1L1775.6 560.2L1775.8 560.2L1776.6 559.0L1777.6 555.4L1778.3 552.2L1778.9 549.3L1779.7 546.7L1780.6 545.2L1780.7 545.2L1781.7 546.7L1782.7 550.2L1783.3 553.0L1783.4 553.4L1784.0 557.7L1784.3 560.9L1784.6 563.8L1784.9 566.6L1785.3 568.9L1785.3 569.0L1786.0 571.6L1787.0 574.3L1788.0 576.6L1789.0 577.8L1789.5 578.0L1790.0 577.7L1791.0 575.5L1791.9 572.0L1791.9 571.9L1792.6 565.7L1792.8 562.2L1793.1 558.6L1793.3 555.0L1793.6 551.8L1793.8 549.1L1794.0 547.9L1794.2 546.8L1794.7 543.9L1795.2 541.2L1795.9 538.6L1796.7 537.0L1796.9 536.8L1797.9 536.0L1798.9 535.5L1799.8 535.3L1799.9 535.3L1800.9 536.0L1801.9 537.6L1802.9 540.0L1803.3 541.1L1803.9 544.5L1804.3 547.8L1804.6 550.9L1804.9 553.9L1805.2 556.9L1805.3 557.5L1805.5 559.9L1805.8 563.0L1806.1 566.1L1806.4 568.8L1806.7 571.2L1806.7 571.4L1807.2 574.5L1807.7 577.0L1808.1 578.0L1808.4 577.9L1809.4 576.0L1810.1 573.9L1810.4 572.7L1810.9 568.8L1811.3 565.7L1811.6 562.8L1812.0 560.1L1812.2 558.8L1812.5 557.5L1813.0 554.7L1813.7 551.9L1814.5 549.2L1814.9 547.9L1815.4 546.4L1816.4 543.9L1817.4 541.7L1818.4 539.9L1819.0 539.0L1819.4 538.4L1820.4 537.1L1821.4 536.3L1821.7 536.3L1822.4 536.5L1823.4 537.6L1824.4 539.3L1825.2 541.1L1825.4 541.9L1826.1 546.3L1826.4 549.4L1826.8 552.2L1827.2 554.7L1827.9 557.0L1828.9 559.8L1829.3 561.6L1829.7 564.5L1830.1 567.9L1830.4 571.0L1830.7 574.0L1831.0 576.8L1831.3 579.4L1831.3 579.6L1831.7 583.0L1832.0 585.8L1832.4 588.3L1832.7 589.0L1833.0 588.7L1834.0 585.5L1834.7 582.2L1834.7 582.1L1835.2 575.8L1835.5 571.7L1835.7 567.8L1836.0 565.0L1836.1 564.3L1836.4 563.4L1837.3 561.2L1837.8 560.9L1838.3 561.3L1839.3 564.1L1840.1 567.6L1840.2 568.4L1840.6 572.8L1840.9 576.7L1841.1 581.1L1841.4 585.5L1841.6 589.0L1841.6 589.4L1841.9 593.3L1842.1 597.3L1842.4 601.2L1842.6 604.9L1842.9 608.1L1843.0 609.5L1843.1 610.9L1843.4 613.8L1843.7 616.6L1844.1 619.2L1844.3 620.4L1844.6 621.4L1845.4 623.7L1846.4 625.6L1847.1 627.3L1847.4 628.5L1848.2 631.8L1848.9 634.3L1849.1 634.8L1849.9 635.8L1850.5 636.2L1850.9 635.9L1851.9 633.2L1852.7 630.2L1853.2 628.6L1853.6 627.6L1854.5 624.4L1855.5 622.1L1856.0 621.8L1856.5 622.4L1857.5 626.8L1858.0 630.0L1858.0 630.2L1858.3 636.2L1858.6 644.2L1858.8 653.8L1859.1 663.8L1859.1 664.2L1859.3 675.9L1859.6 690.0L1859.8 700.0L1859.8 701.6L1860.1 710.9L1860.3 718.9L1860.6 724.8L1860.6 725.0L1860.8 729.3L1861.1 733.2L1861.3 735.8L1861.5 736.3L1861.8 734.2L1862.1 730.5L1862.3 726.1L1862.4 725.0L1862.6 720.6L1862.8 712.6L1863.1 703.8L1863.2 700.0L1863.3 695.1L1863.6 685.3L1863.8 675.6L1864.1 667.1L1864.2 664.2L1864.3 661.0L1864.6 655.8L1864.8 651.4L1865.1 647.3L1865.3 643.6L1865.6 639.9L1865.8 636.1L1866.1 632.0L1866.2 630.0L1866.3 627.3L1866.6 622.2L1866.8 616.9L1867.1 611.7L1867.3 606.9L1867.6 602.7L1867.6 602.6L1867.8 599.0L1868.1 595.3L1868.3 591.8L1868.6 589.0L1868.9 586.6L1869.0 586.2L1869.5 584.9L1870.5 583.0L1871.5 582.1L1871.7 582.1L1872.5 582.9L1873.5 585.4L1874.5 587.8L1875.1 588.3L1875.5 588.2L1876.5 587.4L1877.5 585.7L1878.5 583.5L1878.5 583.5L1879.5 578.1L1879.9 575.0L1880.3 572.4L1880.6 571.2L1880.9 570.3L1881.9 567.5L1882.9 565.9L1883.3 565.7L1883.9 566.3L1884.9 569.1L1885.7 572.4L1886.1 573.9L1886.5 575.6L1887.0 579.1L1887.4 582.2L1887.8 585.0L1888.2 587.6L1888.8 589.0L1888.9 589.0L1889.9 588.3L1890.9 586.3L1890.9 586.2L1891.9 570.1L1892.1 566.4L1892.2 565.7L1892.4 564.2L1892.8 561.4L1893.3 558.7L1893.9 556.1L1894.3 554.7L1894.7 553.7L1895.7 551.7L1896.7 550.0L1897.7 548.0L1897.7 547.9L1898.7 544.2L1899.3 541.2L1900.1 538.8L1900.4 538.3L1901.1 537.8L1902.1 537.2L1903.1 537.0L1903.2 537.0L1904.1 537.3L1905.1 538.2L1906.1 539.1L1907.1 539.7L1907.3 539.7L1908.1 539.3L1909.1 537.8L1910.1 535.9L1911.1 534.2L1912.1 533.5L1912.1 533.5L1913.1 534.8L1914.1 538.0L1914.9 540.9L1915.9 543.0L1916.2 543.1L1916.9 542.6L1917.9 540.5L1918.9 537.8L1919.9 535.4L1920.9 534.2L1921.0 534.2L1921.9 535.6L1922.9 539.6L1923.5 542.8L1923.7 543.8L1924.1 546.5L1924.4 549.9L1924.7 553.1L1924.9 556.3L1925.2 559.8L1925.4 563.3L1925.7 566.8L1925.8 568.4L1925.9 570.3L1926.2 574.7L1926.4 579.4L1926.7 583.9L1926.9 587.4L1927.1 589.0L1927.2 589.5L1927.6 592.4L1928.2 594.7L1928.5 595.1L1929.2 594.3L1930.2 590.7L1930.5 589.0L1930.8 585.5L1931.0 580.2L1931.3 574.0L1931.5 567.9L1931.8 563.1L1931.9 561.6L1932.0 560.1L1932.3 557.2L1932.6 554.2L1932.9 551.4L1933.2 548.5L1933.6 545.9L1934.1 543.4L1934.6 542.4L1934.9 542.6L1935.9 545.9L1936.5 549.3L1937.0 552.3L1937.4 554.7L1937.5 555.2L1938.0 558.8L1938.3 562.0L1938.7 565.0L1939.0 568.0L1939.3 571.0L1939.7 573.7L1940.1 576.4L1940.1 576.6L1940.6 579.4L1941.1 582.4L1941.6 585.3L1942.2 588.0L1942.9 590.3L1943.5 591.0L1943.9 590.9L1944.9 589.9L1945.9 588.0L1946.9 585.2L1947.0 584.9L1947.8 577.1L1948.1 573.7L1948.3 570.1L1948.6 566.5L1948.8 563.3L1949.0 561.6L1949.1 560.5L1949.4 557.3L1949.6 554.4L1949.9 551.3L1950.2 548.4L1950.4 545.7L1950.8 543.0L1951.1 541.1L1951.2 540.8L1952.0 538.0L1953.0 535.4L1954.0 533.6L1955.0 532.8L1955.2 532.8L1956.0 533.1L1957.0 534.2L1958.0 535.9L1959.0 538.3L1960.0 541.1L1961.0 546.4L1961.4 549.6L1961.8 552.7L1962.1 555.8L1962.4 558.9L1962.7 561.6L1962.7 561.9L1963.0 565.1L1963.3 568.2L1963.5 571.5L1963.8 574.9L1964.0 578.4L1964.3 581.9L1964.5 585.5L1964.8 588.9L1964.8 589.0L1965.0 592.3L1965.3 595.7L1965.5 599.3L1965.8 602.8L1966.0 606.3L1966.3 609.7L1966.5 613.0L1966.8 616.2L1966.8 616.3L1967.0 619.3L1967.3 622.4L1967.5 625.5L1967.8 628.5L1968.0 631.6L1968.3 634.4L1968.6 637.2L1968.9 639.6L1968.9 639.9L1969.4 642.4L1970.0 645.1L1970.7 648.7L1970.9 650.5L1971.1 652.3L1971.4 655.8L1971.7 659.1L1971.9 663.3L1972.2 668.3L1972.3 671.1L1972.4 675.4L1972.7 687.8L1972.9 700.0L1972.9 701.6L1973.2 716.5L1973.4 731.8L1973.6 741.0L1973.7 744.9L1973.9 757.5L1974.2 769.1L1974.4 778.1L1974.6 782.0L1974.7 783.3L1974.9 787.0L1975.2 790.1L1975.5 792.4L1975.7 793.1L1976.0 792.3L1976.5 787.1L1976.8 783.7L1976.9 782.0L1977.0 779.0L1977.3 770.4L1977.5 759.0L1977.8 746.5L1977.9 741.0L1978.0 733.0L1978.3 716.1L1978.5 702.1L1978.6 700.0L1978.8 695.0L1979.0 689.9L1979.3 685.8L1979.5 682.0L1979.8 678.1L1979.8 677.9L1980.0 673.8L1980.3 669.6L1980.5 665.6L1980.8 661.6L1981.0 657.6L1981.3 653.6L1981.5 649.6L1981.8 645.5L1981.9 643.7L1982.0 641.4L1982.3 637.1L1982.5 632.8L1982.8 628.5L1983.0 624.2L1983.3 619.9L1983.5 615.6L1983.8 611.3L1983.9 609.5L1984.0 607.1L1984.3 602.6L1984.5 598.0L1984.8 593.3L1985.0 588.8L1985.3 584.6L1985.5 580.7L1985.8 577.5L1986.0 575.3L1986.0 574.8L1986.4 571.9L1986.7 568.9L1987.1 566.0L1987.5 563.3L1987.9 560.7L1988.6 558.9L1988.7 558.8L1989.6 560.3L1990.5 564.2L1991.1 567.2L1991.4 568.4L1991.8 570.3L1992.3 573.5L1992.8 576.4L1993.3 578.9L1993.5 579.4L1994.2 580.7L1995.2 581.7L1996.2 583.5L1996.2 583.5L1997.2 590.5L1997.5 593.7L1997.8 596.7L1998.0 599.7L1998.3 602.6L1998.3 602.7L1998.6 606.0L1998.8 609.4L1999.1 613.1L1999.3 616.9L1999.6 620.6L1999.8 624.2L2000.1 627.5L2000.3 630.0L2000.3 630.3L2000.6 633.2L2000.9 636.0L2001.3 638.9L2001.7 641.8L2002.0 644.9L2002.4 647.8L2002.4 648.0L2002.8 650.8L2003.2 653.7L2003.6 656.8L2003.9 659.9L2004.3 663.1L2004.4 664.2L2004.6 666.3L2004.9 669.5L2005.1 672.8L2005.4 676.2L2005.6 679.7L2005.9 683.2L2006.1 686.6L2006.4 690.0L2006.5 691.6L2006.6 693.1L2006.9 696.4L2007.1 699.8L2007.4 703.0L2007.6 705.9L2007.9 708.6L2008.0 709.4L2008.3 711.3L2008.7 714.1L2009.2 716.2L2009.4 716.5L2010.2 713.6L2010.6 710.2L2011.0 707.1L2011.2 705.3L2011.3 704.0L2011.6 700.7L2011.9 697.5L2012.1 694.1L2012.4 690.5L2012.6 687.0L2012.8 684.8L2012.9 683.6L2013.1 679.7L2013.4 675.5L2013.6 671.5L2013.9 667.9L2014.1 665.3L2014.3 664.2L2014.5 663.3L2015.2 660.8L2016.2 658.5L2016.8 657.4L2017.2 656.7L2018.2 655.6L2019.2 654.1L2019.5 653.3L2020.2 646.6L2020.5 643.0L2020.7 639.4L2020.9 636.9L2021.0 636.1L2021.2 632.6L2021.5 628.9L2021.7 625.3L2022.0 622.3L2022.2 620.4L2022.2 620.1L2022.8 617.4L2023.5 614.8L2024.3 613.6L2024.5 613.7L2025.5 617.4L2026.0 620.8L2026.3 623.2L2026.4 624.1L2026.7 628.2L2026.9 633.6L2027.2 639.5L2027.4 645.2L2027.7 649.8L2027.7 650.5L2027.9 653.2L2028.2 656.6L2028.4 659.9L2028.7 662.7L2029.0 665.2L2029.3 666.3L2029.4 666.2L2030.4 661.9L2030.9 658.6L2031.2 655.5L2031.6 652.4L2031.8 650.5L2031.9 649.5L2032.2 646.0L2032.5 642.7L2032.7 639.1L2033.0 635.5L2033.2 632.1L2033.5 629.2L2033.8 626.7L2033.9 625.9L2034.2 624.6L2034.9 622.0L2035.9 620.4L2035.9 620.4L2036.9 624.9L2037.3 628.3L2037.6 631.5L2037.8 634.6L2038.0 636.9L2038.1 638.2L2038.3 644.0L2038.6 652.4L2038.8 663.0L2039.0 671.1L2039.1 675.8L2039.3 696.8L2039.6 721.8L2039.8 741.0L2039.8 743.2L2040.1 760.4L2040.3 776.3L2040.6 791.1L2040.8 805.5L2040.9 809.5L2041.1 820.1L2041.3 835.4L2041.6 850.2L2041.8 863.5L2042.1 874.1L2042.2 877.9L2042.3 881.5L2042.6 888.1L2042.8 894.4L2043.1 900.1L2043.3 905.0L2043.6 909.0L2043.8 911.8L2044.2 913.5L2044.2 913.5L2045.2 903.1L2045.4 897.5L2045.7 890.9L2045.9 883.4L2046.1 877.9L2046.2 874.5L2046.4 856.1L2046.7 831.3L2046.9 809.5L2046.9 806.7L2047.2 781.4L2047.4 755.9L2047.6 741.0L2047.7 734.9L2047.9 717.3L2048.2 701.8L2048.4 690.0L2048.4 688.5L2048.7 677.4L2048.9 667.7L2049.2 658.5L2049.4 650.0L2049.4 648.8L2049.7 637.6L2049.9 625.9L2050.2 615.7L2050.4 609.5L2050.4 608.9L2050.7 604.3L2050.9 600.3L2051.2 596.8L2051.4 593.9L2051.7 591.1L2052.0 588.3L2052.2 586.7L2052.4 585.4L2052.8 582.5L2053.2 579.6L2053.6 576.8L2054.2 574.0L2054.7 571.2L2055.4 568.4L2056.2 565.6L2057.0 562.8L2058.0 560.0L2059.0 557.5L2059.0 557.5L2060.0 555.8L2061.0 553.9L2061.3 552.9L2062.0 544.3L2062.2 542.9L2062.3 542.7L2063.3 540.4L2064.3 539.1L2065.3 538.2L2066.3 537.4L2066.3 537.4L2067.3 536.6L2068.3 535.9L2069.3 535.2L2070.3 534.6L2071.3 534.1L2072.3 533.7L2073.3 533.4L2073.6 533.3L2074.3 533.2L2075.3 532.9L2076.3 532.8L2077.3 532.6L2078.3 532.5L2079.3 532.4L2080.0 532.4L2080.3 532.5L2081.3 533.8L2082.3 536.4L2082.3 536.5L2083.2 544.9L2083.5 547.8L2083.7 550.2L2083.7 550.6L2084.1 553.9L2084.3 556.9L2084.6 559.6L2084.9 561.8L2085.0 562.0L2085.8 563.2L2086.8 563.9L2087.8 564.6L2088.7 565.7L2088.8 565.8L2089.8 569.0L2090.4 572.8L2090.8 576.1L2091.0 577.6L2091.2 580.2L2091.4 586.0L2091.7 593.5L2091.9 600.4L2091.9 601.4L2092.2 612.1L2092.4 623.2L2092.6 627.7L2092.7 628.9L2092.9 632.2L2093.2 634.8L2093.5 637.0L2093.7 637.3L2094.4 634.8L2094.8 631.0L2095.1 627.8L2095.1 627.7L2095.3 621.3L2095.6 610.0L2095.8 597.7L2096.0 591.2L2096.1 588.0L2096.3 579.3L2096.6 571.3L2096.8 565.0L2096.9 563.9L2097.1 560.6L2097.3 556.7L2097.6 553.2L2097.8 550.4L2098.2 548.0L2098.3 547.4L2098.7 546.3L2099.7 544.8L2100.1 544.7L2100.7 544.7L2101.7 545.0L2102.7 545.6L2103.7 546.4L2104.6 547.4L2104.7 547.7L2105.6 553.5L2106.0 554.7L2106.1 554.7L2107.1 554.5L2108.1 554.2L2109.1 553.9L2110.1 553.8L2110.1 553.8L2111.1 560.0L2111.4 563.2L2111.7 566.2L2111.9 568.4L2112.0 569.2L2112.2 572.5L2112.5 576.4L2112.7 580.7L2113.0 585.2L2113.2 589.8L2113.3 591.2L2113.5 594.3L2113.7 599.0L2114.0 603.9L2114.2 608.9L2114.5 614.0L2114.7 618.6L2114.7 619.0L2115.0 624.4L2115.2 630.3L2115.5 635.9L2115.7 640.9L2116.0 644.7L2116.0 645.0L2116.2 647.5L2116.5 650.2L2116.9 652.0L2116.9 652.0L2117.9 645.3L2117.9 645.0L2118.1 640.0L2118.4 631.8L2118.6 623.1L2118.8 618.6L2118.9 616.4L2119.1 610.1L2119.4 603.8L2119.6 598.2L2119.9 593.9L2120.1 591.4L2120.2 591.2L2120.7 590.0L2121.7 588.3L2122.7 587.6L2122.9 587.6L2123.7 588.6L2124.7 592.7L2125.2 595.8L2125.2 596.1L2125.5 601.9L2125.8 609.4L2126.0 616.8L2126.1 618.6L2126.3 623.4L2126.5 630.8L2126.8 636.6L2127.0 638.7L2127.0 638.7L2128.0 637.7L2128.4 636.9L2129.0 626.9L2129.3 620.2L2129.5 613.6L2129.7 609.5L2129.8 607.7L2130.0 601.4L2130.3 595.0L2130.5 589.5L2130.7 586.7L2130.8 585.6L2131.0 582.5L2131.3 579.6L2131.6 577.0L2131.9 574.9L2132.0 574.8L2132.9 573.3L2133.9 572.3L2134.9 571.7L2135.7 571.6L2135.9 571.6L2136.9 572.2L2137.9 573.4L2138.9 574.8L2138.9 574.9L2139.9 578.5L2140.7 580.3L2141.7 576.5L2142.2 573.8L2142.5 573.0L2143.0 572.1L2144.0 570.7L2144.8 570.3L2145.0 570.3L2146.0 571.4L2147.0 572.7L2147.5 573.0L2148.0 572.4L2149.0 568.3L2149.6 565.1L2149.8 563.9L2150.1 561.9L2150.5 558.7L2150.9 556.0L2151.2 554.7L2151.4 554.0L2152.4 551.5L2153.4 549.8L2153.9 549.3L2154.4 548.8L2155.4 547.9L2156.4 547.3L2157.4 547.0L2157.6 547.0L2158.4 547.0L2159.4 547.1L2160.4 547.1L2161.4 547.2L2162.4 547.3L2163.0 547.4L2163.4 547.5L2164.4 547.7L2165.4 548.0L2166.4 548.4L2167.4 548.9L2168.1 549.3L2168.4 549.7L2169.4 552.2L2170.4 554.5L2170.8 554.7L2171.4 554.3L2172.4 552.4L2173.1 551.1L2173.4 550.4L2174.4 547.7L2175.4 545.2L2176.3 544.3L2176.4 544.3L2177.4 544.8L2178.4 545.9L2179.4 547.3L2179.5 547.4L2180.4 549.1L2181.4 551.9L2182.4 555.3L2182.7 556.6L2183.1 558.8L2183.7 562.1L2184.1 565.4L2184.4 568.5L2184.8 571.6L2184.9 573.0L2185.1 574.8L2185.3 578.0L2185.6 581.5L2185.8 585.2L2186.1 589.1L2186.3 593.1L2186.6 597.1L2186.8 600.4L2186.8 600.9L2187.1 605.5L2187.3 610.4L2187.6 613.6L2187.7 614.1L2188.0 613.9L2189.0 610.8L2189.6 607.3L2190.0 604.9L2190.1 603.8L2190.4 599.8L2190.7 595.0L2190.9 589.8L2191.2 584.8L2191.3 582.1L2191.4 580.4L2191.7 576.0L2191.9 571.5L2192.2 567.0L2192.4 562.9L2192.7 559.2L2192.9 556.3L2193.1 554.7L2193.2 554.1L2193.7 551.2L2194.2 548.5L2194.9 546.0L2195.9 543.8L2195.9 543.8L2196.9 543.0L2197.9 542.5L2198.6 542.0L2198.9 541.8L2199.9 540.9L2200.9 540.1L2201.4 539.7L2201.9 539.4L2202.9 538.7L2203.9 538.3L2204.1 538.3L2204.9 538.3L2205.9 538.4L2206.9 538.6L2207.9 539.0L2208.2 539.2" fill="none" stroke="#f00" stroke-width="7.5" clip-path="url(#cp)" stroke-linejoin="round" stroke-linecap="butt"/>
<path d="M208.2 990.3L209.2 990.0L210.2 990.3L211.2 990.8L212.2 991.0L213.2 991.6L214.2 992.0L215.2 991.0L216.2 990.6L217.2 992.2L218.2 993.1L219.2 992.9L220.2 993.0L220.5 993.1L221.2 992.8L222.2 992.4L223.2 993.4L224.2 994.7L225.2 994.0L226.2 994.0L227.2 995.4L228.2 995.2L229.2 994.2L230.2 995.1L231.2 996.2L232.2 996.8L233.2 998.4L234.2 998.7L235.2 997.4L236.2 999.1L237.2 1003.0L237.6 1003.8L238.2 1003.5L239.2 1001.8L240.2 1000.6L241.2 998.3L242.2 996.0L243.2 996.5L243.8 997.1L244.2 997.2L245.2 997.5L246.2 1000.8L247.2 1004.7L247.9 1004.8L248.2 1004.2L249.2 1002.9L250.2 1004.2L251.2 1005.4L252.2 1006.2L253.2 1007.6L254.2 1006.6L254.7 1005.0L255.2 1003.3L256.2 1001.5L257.1 1000.7L258.0 998.2L258.8 996.4L259.0 996.5L260.0 1000.2L260.6 1003.6L261.1 1006.1L261.5 1008.5L262.0 1011.0L262.5 1014.0L263.2 1017.1L263.6 1017.9L264.2 1017.0L265.2 1013.0L265.9 1010.8L266.6 1009.4L267.3 1007.0L268.3 1002.7L268.4 1002.3L269.3 1002.1L270.3 1005.5L271.3 1009.1L272.3 1012.7L273.3 1015.6L273.9 1015.1L274.3 1013.9L275.3 1010.1L276.3 1009.3L277.3 1008.9L278.0 1007.7L278.3 1007.4L279.3 1009.1L280.3 1012.6L281.3 1013.9L282.1 1014.0L282.3 1014.1L283.3 1014.8L284.3 1013.7L285.3 1013.3L286.3 1015.4L287.3 1015.0L287.6 1013.9L288.3 1009.5L288.8 1005.1L289.3 1002.3L289.8 1000.5L290.3 1000.0L290.5 1000.4L291.5 1007.1L291.8 1010.4L292.2 1013.7L292.6 1016.8L293.1 1018.7L293.1 1018.7L294.1 1013.3L294.6 1008.8L295.2 1005.6L295.8 1005.0L295.8 1005.1L296.8 1010.7L297.3 1013.5L297.8 1015.5L298.4 1016.8L298.5 1016.8L299.4 1016.6L300.4 1014.0L301.2 1010.0L302.1 1007.1L302.6 1006.9L303.1 1007.2L304.1 1007.3L305.1 1009.5L306.1 1014.4L307.1 1016.3L308.1 1014.7L309.1 1015.1L309.5 1015.7L310.1 1016.2L311.1 1014.6L312.1 1012.7L313.1 1010.3L314.0 1005.7L315.0 1001.7L316.0 1002.0L316.3 1002.4L317.0 1003.1L318.0 1004.6L318.8 1008.3L319.5 1012.7L320.2 1015.9L321.1 1015.9L321.2 1015.6L322.2 1013.3L323.2 1009.7L324.0 1005.8L324.9 1003.7L325.9 1005.2L325.9 1005.3L326.9 1006.0L327.9 1004.2L328.9 1004.8L329.9 1007.0L330.0 1007.1L330.9 1007.1L331.9 1007.5L332.9 1008.4L333.9 1006.7L334.9 1005.6L335.5 1006.5L335.9 1007.2L336.9 1008.3L337.9 1008.9L338.9 1012.8L339.6 1015.8L339.9 1016.3L340.9 1016.0L341.9 1015.4L342.9 1015.7L343.9 1015.3L344.9 1017.3L345.1 1018.4L345.9 1022.0L346.9 1024.3L347.8 1024.4L348.8 1026.3L349.2 1027.2L349.8 1026.6L350.6 1022.4L351.2 1019.4L351.9 1018.5L352.9 1021.7L353.6 1024.4L354.1 1026.8L354.6 1029.7L355.1 1033.1L355.6 1036.5L356.2 1038.9L356.7 1038.5L357.2 1036.2L358.0 1031.4L358.4 1029.3L358.9 1027.7L359.3 1026.2L359.9 1024.7L360.1 1024.3L360.9 1023.4L361.9 1023.8L362.9 1024.0L362.9 1024.0L363.9 1022.1L364.9 1021.6L365.9 1022.4L366.3 1022.0L366.9 1020.9L367.9 1020.7L368.9 1023.9L369.7 1025.3L369.9 1025.2L370.9 1022.3L371.9 1019.9L372.7 1018.1L373.7 1015.6L373.8 1015.6L374.7 1015.9L375.7 1017.3L376.7 1016.0L377.7 1015.8L378.7 1019.8L379.3 1021.7L379.7 1022.3L380.7 1021.2L381.7 1020.8L382.7 1021.0L383.7 1020.8L384.7 1023.5L385.7 1026.9L386.1 1027.2L386.7 1027.1L387.7 1029.2L388.4 1033.1L389.0 1037.0L389.7 1039.5L390.5 1040.2L390.9 1040.2L391.5 1040.4L392.5 1039.7L393.5 1036.1L394.4 1033.1L395.2 1031.0L396.2 1027.0L397.1 1023.7L397.2 1023.6L398.2 1026.6L399.2 1032.3L400.1 1034.9L400.9 1036.5L401.2 1037.2L401.7 1039.8L402.2 1043.0L402.6 1045.7L403.0 1048.2L403.4 1050.7L403.9 1053.4L404.6 1056.5L405.6 1055.9L406.3 1051.5L406.8 1047.1L407.2 1043.4L407.6 1040.5L408.1 1038.5L408.7 1036.9L409.4 1035.3L409.5 1035.1L410.5 1034.0L411.5 1036.9L412.5 1041.1L413.5 1043.3L414.5 1045.2L414.9 1045.6L415.5 1045.1L416.5 1041.7L417.5 1040.8L418.5 1044.1L419.0 1045.1L419.5 1045.8L420.5 1048.2L421.1 1050.8L421.6 1053.5L422.4 1054.8L422.4 1054.8L423.4 1053.4L424.4 1053.8L425.4 1054.1L426.4 1051.3L427.4 1049.6L428.4 1050.4L429.4 1048.8L429.9 1047.3L430.4 1046.4L431.4 1048.4L432.4 1051.9L433.4 1054.1L434.4 1057.1L435.4 1058.7L435.4 1058.7L436.4 1058.7L437.2 1061.5L438.1 1066.8L438.8 1069.6L439.1 1069.5L440.1 1065.8L441.1 1061.7L441.9 1059.1L442.7 1055.8L443.6 1053.9L443.7 1054.0L444.7 1057.3L445.7 1061.3L446.4 1063.5L446.9 1066.5L447.5 1070.5L448.0 1074.7L448.6 1077.7L449.4 1078.3L450.4 1077.3L450.4 1077.3L451.4 1077.5L452.4 1075.8L453.1 1072.7L453.8 1070.1L454.5 1067.8L455.4 1064.4L455.9 1062.1L456.4 1061.1L457.4 1063.6L458.4 1069.5L459.4 1072.0L460.4 1072.9L461.4 1074.8L461.4 1074.9L462.4 1073.7L463.4 1070.6L464.4 1069.7L465.4 1069.1L465.5 1068.9L466.4 1068.5L467.4 1071.3L468.4 1074.5L469.4 1073.3L470.4 1072.7L471.4 1076.0L472.3 1077.9L472.4 1077.9L473.4 1078.0L474.4 1078.2L475.4 1076.0L476.4 1072.8L477.4 1073.9L478.4 1075.9L479.2 1074.8L479.4 1074.5L480.4 1074.7L481.4 1077.7L482.4 1078.9L483.4 1079.1L484.4 1080.7L484.7 1081.0L485.4 1080.7L486.4 1080.2L487.4 1082.0L488.4 1082.1L489.4 1078.4L490.4 1077.0L490.9 1078.0L491.4 1079.0L492.4 1080.3L493.4 1081.2L494.4 1082.6L495.4 1082.0L496.4 1081.5L497.4 1083.7L497.8 1084.7L498.4 1084.9L499.4 1083.9L500.4 1084.4L501.4 1085.9L502.4 1085.2L503.4 1084.3L504.4 1084.9L504.6 1085.0L505.4 1085.1L506.4 1085.9L507.4 1088.2L508.4 1088.6L509.4 1087.2L510.4 1087.9L511.4 1090.1L512.4 1091.3L512.8 1091.7L513.4 1092.6L514.4 1094.7L515.4 1095.8L516.4 1096.7L517.0 1097.5L517.4 1097.9L518.4 1097.8L519.4 1097.1L520.4 1097.8L521.4 1098.6L522.4 1097.8L522.4 1097.8L523.4 1097.6L524.4 1098.6L525.4 1099.9L526.4 1102.0L527.4 1104.8L528.4 1106.0L529.4 1106.4L530.4 1107.9L530.6 1108.3L531.4 1109.4L532.4 1110.0L533.4 1110.8L534.4 1111.7L535.4 1111.7L536.4 1112.2L537.4 1113.2L538.4 1113.4L539.4 1113.7L540.2 1114.9L540.4 1115.2L541.4 1116.4L542.4 1116.6L543.4 1117.2L544.4 1118.2L545.4 1119.1L546.4 1120.4L547.4 1121.7L548.4 1121.7L548.4 1121.7L549.4 1121.6L550.4 1122.4L551.4 1123.0L552.4 1123.2L553.4 1123.8L554.4 1124.2L555.4 1124.2L556.4 1124.4L556.6 1124.4L557.4 1124.5L558.4 1124.3L559.4 1124.4L560.4 1125.0L561.4 1125.1L562.4 1124.7L563.4 1124.6L563.5 1124.6L564.4 1124.5L565.4 1124.2L566.4 1124.0L567.4 1123.6L568.4 1122.6L569.4 1121.8L570.3 1121.6L570.4 1121.6L571.4 1121.2L572.4 1120.7L573.4 1120.6L574.4 1120.4L575.4 1120.0L576.4 1119.7L577.4 1119.3L578.4 1118.6L578.5 1118.5L579.4 1118.4L580.4 1118.5L581.4 1118.0L582.4 1117.1L583.4 1116.6L584.4 1116.1L585.4 1115.5L586.4 1115.3L587.4 1114.8L588.1 1114.1L588.4 1113.9L589.4 1113.2L590.4 1112.8L591.4 1111.9L592.4 1111.0L593.4 1110.5L594.4 1109.8L595.4 1108.9L596.3 1108.1L596.4 1108.1L597.4 1107.0L598.4 1105.7L599.4 1105.0L600.4 1104.5L601.4 1103.2L602.4 1101.8L603.4 1100.6L604.4 1099.4L605.4 1098.3L605.9 1097.7L606.4 1097.3L607.4 1096.0L608.4 1094.4L609.4 1093.1L610.4 1091.8L611.4 1090.0L612.4 1088.4L613.4 1087.2L614.4 1085.8L615.4 1084.3L616.4 1082.9L616.9 1082.0L617.4 1081.2L618.4 1079.6L619.4 1078.7L620.4 1077.6L621.4 1076.0L622.4 1074.5L623.4 1073.2L624.4 1071.8L625.4 1070.6L626.4 1069.5L627.4 1068.2L627.8 1067.6L628.4 1066.9L629.4 1065.9L630.4 1064.7L631.4 1063.2L632.4 1062.0L633.4 1061.3L634.4 1060.2L635.4 1059.1L636.4 1057.9L637.4 1056.6L638.4 1055.5L638.8 1055.1L639.4 1054.8L640.4 1054.0L641.4 1052.7L642.4 1051.7L643.4 1050.8L644.4 1049.7L645.4 1048.8L646.4 1048.1L647.4 1047.1L648.4 1046.2L649.4 1045.5L649.7 1045.2L650.4 1044.5L651.4 1043.3L652.4 1042.5L653.4 1042.0L654.4 1041.1L655.4 1040.3L656.4 1039.4L657.4 1038.3L658.4 1037.5L659.4 1037.2L660.4 1036.5L660.7 1036.2L661.4 1035.6L662.4 1035.0L663.4 1034.4L664.4 1033.6L665.4 1033.0L666.4 1032.6L667.4 1031.9L668.4 1031.5L669.4 1031.2L670.4 1030.4L671.4 1029.7L671.6 1029.6L672.4 1029.5L673.4 1029.4L674.4 1029.0L675.4 1028.6L676.4 1028.2L677.4 1027.6L678.4 1027.4L679.4 1027.5L679.8 1027.4L680.4 1027.1L681.4 1026.7L682.4 1026.6L683.4 1026.4L684.4 1025.9L685.4 1025.8L686.4 1025.8L686.7 1025.8L687.4 1025.8L688.4 1026.1L689.4 1026.4L690.4 1026.2L691.4 1026.3L692.4 1026.8L693.4 1027.3L693.5 1027.3L694.4 1027.5L695.4 1027.9L696.4 1028.2L697.4 1028.5L698.4 1029.0L699.4 1029.7L700.4 1030.0L701.4 1030.5L702.4 1031.1L703.1 1031.4L703.4 1031.5L704.4 1031.7L705.4 1032.0L706.4 1032.4L707.4 1032.7L708.4 1033.2L709.4 1033.7L710.4 1034.0L711.3 1034.6L711.4 1034.6L712.4 1035.8L713.4 1037.3L714.4 1039.4L714.7 1040.2L715.4 1042.6L716.0 1046.0L716.5 1049.1L717.0 1052.0L717.4 1053.9L717.6 1054.7L718.2 1057.9L718.7 1060.5L719.2 1061.4L719.6 1061.2L720.6 1059.5L721.6 1057.4L722.2 1056.6L722.6 1056.3L723.6 1055.7L724.6 1055.3L725.0 1055.3L725.6 1056.0L726.6 1059.6L727.2 1062.7L727.7 1064.8L727.9 1065.7L728.5 1069.2L728.9 1072.3L729.3 1075.2L729.8 1077.9L730.4 1079.9L730.4 1079.9L731.4 1081.3L732.4 1082.0L732.5 1082.0L733.4 1080.6L734.4 1077.3L735.2 1074.5L735.9 1073.1L736.2 1072.7L737.2 1071.5L738.2 1070.7L739.2 1070.3L739.3 1070.3L740.2 1070.7L741.2 1071.8L742.2 1073.5L743.2 1075.5L743.4 1075.8L744.2 1078.0L745.2 1081.6L745.9 1084.8L746.2 1086.7L746.4 1088.2L746.9 1091.6L747.2 1094.7L747.5 1097.8L747.9 1100.9L748.1 1103.7L748.4 1106.0L748.5 1106.6L748.8 1109.7L749.1 1112.8L749.4 1115.7L749.8 1118.6L750.1 1121.3L750.3 1122.3L750.6 1124.0L751.1 1126.8L751.7 1128.9L751.9 1129.0L752.7 1127.6L753.7 1123.5L754.3 1120.4L754.4 1119.6L754.8 1116.2L755.1 1113.0L755.3 1110.2L755.6 1107.7L755.8 1107.0L756.1 1106.1L757.1 1104.0L758.1 1102.8L758.8 1102.6L759.1 1102.6L760.1 1103.1L761.1 1103.8L762.1 1104.6L763.1 1105.2L764.0 1105.4L764.1 1105.4L765.1 1104.7L766.1 1103.3L767.1 1101.7L768.1 1100.4L769.1 1099.9L769.1 1099.9L770.1 1100.7L771.1 1102.6L772.1 1105.4L772.5 1106.5L773.1 1109.5L773.6 1112.9L774.0 1116.1L774.3 1119.2L774.6 1122.2L774.9 1125.0L774.9 1125.3L775.2 1128.6L775.5 1131.7L775.7 1135.0L776.0 1138.5L776.2 1142.2L776.5 1145.8L776.7 1149.3L777.0 1152.7L777.0 1153.0L777.2 1156.0L777.5 1159.1L777.7 1162.2L778.0 1165.3L778.2 1168.4L778.5 1171.6L778.7 1174.9L779.0 1178.3L779.2 1181.9L779.3 1183.0L779.5 1185.8L779.7 1190.0L780.0 1194.5L780.2 1199.1L780.5 1203.8L780.7 1208.6L781.0 1213.3L781.0 1213.7L781.2 1218.0L781.5 1222.7L781.7 1227.4L782.0 1232.3L782.2 1237.4L782.4 1241.1L782.5 1243.0L782.7 1249.7L783.0 1257.0L783.2 1263.5L783.5 1268.1L783.5 1268.4L783.7 1271.2L784.0 1274.0L784.3 1276.7L784.7 1279.0L784.9 1279.4L785.5 1278.2L786.3 1273.9L786.5 1272.5L786.8 1269.9L787.0 1266.0L787.2 1261.2L787.5 1256.0L787.8 1250.8L787.9 1247.9L788.0 1246.0L788.2 1240.7L788.5 1235.0L788.8 1229.5L789.0 1224.7L789.2 1221.1L789.3 1220.5L789.5 1218.5L789.8 1215.6L790.2 1212.9L790.6 1210.2L791.1 1207.6L791.3 1206.9L791.9 1205.0L792.8 1202.3L793.8 1200.1L794.7 1199.3L794.8 1199.3L795.8 1200.2L796.8 1202.3L797.8 1205.4L798.2 1206.9L798.6 1209.0L799.2 1212.5L799.6 1215.7L799.9 1218.8L800.2 1221.8L800.6 1224.8L800.9 1227.4L800.9 1227.6L801.3 1230.9L801.6 1233.9L802.0 1237.0L802.3 1239.9L802.6 1242.6L803.0 1245.2L803.0 1245.3L803.6 1248.3L804.1 1251.2L804.7 1253.7L805.4 1254.8L805.7 1254.7L806.7 1253.2L807.7 1250.4L808.4 1247.9L808.6 1247.1L809.3 1243.3L809.7 1240.0L810.1 1236.9L810.5 1233.8L810.8 1230.8L811.1 1227.8L811.2 1227.4L811.5 1224.6L811.8 1221.4L812.1 1218.4L812.4 1215.4L812.6 1212.4L812.9 1209.5L813.1 1206.5L813.4 1203.7L813.8 1200.9L813.9 1200.0L814.2 1198.3L814.6 1195.4L815.2 1192.6L815.8 1189.8L816.5 1186.9L817.2 1184.0L817.3 1183.6L818.0 1181.1L818.8 1178.2L819.7 1175.3L820.7 1172.4L821.7 1169.6L822.1 1168.5L822.7 1166.6L823.7 1163.6L824.7 1160.7L825.7 1158.4L826.2 1157.6L826.7 1156.9L827.7 1155.5L828.7 1154.5L829.6 1154.2L829.7 1154.2L830.7 1156.2L831.6 1159.8L832.3 1162.8L832.4 1163.1L833.0 1166.8L833.5 1169.9L833.9 1172.8L834.4 1175.2L834.4 1175.4L835.1 1177.9L836.1 1179.5L836.1 1179.5L837.1 1177.7L838.1 1174.1L838.5 1172.6L838.9 1170.7L839.4 1167.3L839.8 1164.2L840.1 1161.3L840.6 1158.6L840.6 1158.5L841.1 1155.9L841.8 1153.0L842.5 1150.1L843.2 1147.1L843.5 1146.0L844.0 1144.1L844.7 1141.2L845.6 1138.2L846.3 1134.9L847.0 1131.6L847.0 1131.4L847.5 1128.1L847.9 1124.9L848.2 1121.8L848.6 1118.7L848.9 1115.7L849.2 1112.6L849.5 1109.6L849.8 1106.8L850.0 1105.0L850.1 1103.9L850.5 1100.9L850.8 1097.9L851.2 1094.8L851.5 1091.9L851.9 1088.9L852.2 1085.9L852.6 1083.0L852.6 1082.9L853.0 1079.8L853.3 1076.7L853.6 1073.7L854.0 1070.7L854.3 1067.9L854.7 1064.9L855.0 1062.2L855.4 1060.0L855.5 1059.5L856.1 1056.8L856.8 1054.0L857.6 1051.1L857.8 1050.3L858.4 1048.2L859.3 1045.2L860.2 1042.4L861.2 1039.6L861.9 1038.0L862.2 1037.3L863.2 1035.2L864.2 1033.4L865.2 1031.7L866.2 1030.1L867.2 1028.6L867.4 1028.4L868.2 1027.2L869.2 1025.9L870.2 1024.6L871.2 1023.3L872.2 1022.1L873.2 1021.0L874.2 1020.0L875.2 1019.1L875.6 1018.8L876.2 1018.3L877.2 1017.5L878.2 1016.8L879.2 1016.1L880.2 1015.4L881.2 1014.8L882.2 1014.2L883.2 1013.7L884.2 1013.2L885.2 1012.7L885.2 1012.7L886.2 1012.2L887.2 1011.7L888.2 1011.3L889.2 1010.9L890.2 1010.5L891.2 1010.1L892.2 1009.7L893.2 1009.4L894.2 1009.1L894.7 1009.0L895.2 1008.9L896.2 1008.6L897.2 1008.3L898.2 1008.1L899.2 1007.9L900.2 1007.6L901.2 1007.5L902.2 1007.3L903.2 1007.2L904.2 1007.2L904.3 1007.2L905.2 1007.3L906.2 1007.6L907.2 1008.0L908.2 1008.5L909.2 1009.0L909.8 1009.3L910.2 1009.5L911.2 1010.2L912.2 1010.9L913.2 1011.6L914.2 1012.0L914.6 1012.0L915.2 1011.9L916.2 1011.3L917.2 1010.4L918.2 1009.4L919.2 1008.4L920.2 1007.5L920.7 1007.2L921.2 1006.9L922.2 1006.4L923.2 1005.9L924.2 1005.5L925.2 1005.1L926.2 1004.7L927.2 1004.3L928.2 1004.0L929.0 1003.8L929.2 1003.7L930.2 1003.5L931.2 1003.2L932.2 1003.0L933.2 1002.8L934.2 1002.5L935.2 1002.3L936.2 1002.1L937.2 1001.9L938.2 1001.8L939.2 1001.6L940.2 1001.4L941.2 1001.3L942.2 1001.2L942.6 1001.1L943.2 1001.0L944.2 1000.9L945.2 1000.8L946.2 1000.6L947.2 1000.5L948.2 1000.4L949.2 1000.3L950.2 1000.2L951.2 1000.0L952.2 999.9L953.2 999.8L954.2 999.7L955.2 999.6L956.2 999.6L957.2 999.5L958.2 999.4L959.2 999.3L960.2 999.2L961.2 999.1L962.2 999.1L963.2 999.0L963.2 999.0L964.2 998.9L965.2 998.9L966.2 998.8L967.2 998.7L968.2 998.7L969.2 998.6L970.2 998.6L971.2 998.5L972.2 998.4L973.2 998.4L974.2 998.3L975.2 998.3L976.2 998.2L977.2 998.2L978.2 998.1L979.2 998.1L980.2 998.0L981.2 998.0L982.2 997.9L983.2 997.9L984.2 997.9L985.2 997.8L986.2 997.8L987.2 997.7L988.2 997.7L989.2 997.7L990.2 997.6L990.5 997.6L991.2 997.6L992.2 997.5L993.2 997.5L994.2 997.5L995.2 997.4L996.2 997.4L997.2 997.3L998.2 997.3L999.2 997.3L1000.2 997.2L1001.2 997.2L1002.2 997.2L1003.2 997.1L1004.2 997.1L1005.2 997.1L1006.2 997.1L1007.2 997.0L1008.2 997.0L1009.2 997.0L1010.2 996.9L1011.2 996.9L1012.2 996.9L1013.2 996.8L1014.2 996.8L1015.2 996.8L1016.2 996.8L1017.2 996.7L1017.9 996.7L1018.2 996.7L1019.2 996.7L1020.2 996.6L1021.2 996.6L1022.2 996.6L1023.2 996.5L1024.2 996.5L1025.2 996.5L1026.2 996.4L1027.2 996.4L1028.2 996.4L1029.2 996.4L1030.2 996.3L1031.2 996.3L1032.2 996.3L1033.2 996.2L1034.2 996.2L1035.2 996.2L1036.2 996.2L1037.2 996.1L1038.2 996.1L1039.2 996.1L1040.2 996.0L1041.2 996.0L1042.2 996.0L1043.2 996.0L1044.2 995.9L1045.2 995.9L1045.3 995.9L1046.2 995.9L1047.2 995.8L1048.2 995.8L1049.2 995.8L1050.2 995.7L1051.2 995.7L1052.2 995.7L1053.2 995.6L1054.2 995.6L1055.2 995.6L1056.2 995.5L1057.2 995.5L1058.2 995.5L1059.2 995.4L1060.2 995.4L1061.2 995.4L1062.2 995.4L1063.2 995.3L1064.2 995.3L1065.2 995.3L1066.2 995.3L1067.2 995.2L1068.2 995.2L1069.2 995.2L1070.2 995.2L1071.2 995.2L1072.2 995.2L1072.7 995.2L1073.2 995.2L1074.2 995.2L1075.2 995.2L1076.2 995.2L1077.2 995.2L1078.2 995.3L1079.2 995.3L1080.2 995.3L1081.2 995.4L1082.2 995.4L1083.2 995.4L1084.2 995.4L1085.2 995.5L1086.2 995.5L1087.2 995.5L1088.2 995.5L1089.2 995.6L1090.2 995.6L1091.2 995.6L1092.2 995.6L1093.2 995.6L1093.2 995.6L1094.2 995.6L1095.2 995.5L1096.2 995.4L1097.2 995.3L1098.2 995.2L1099.2 995.1L1100.2 994.9L1101.2 994.8L1102.2 994.7L1103.2 994.6L1104.2 994.5L1105.2 994.5L1105.5 994.5L1106.2 994.6L1107.2 994.9L1108.2 995.3L1109.2 995.8L1110.2 996.4L1111.2 996.9L1112.2 997.3L1113.2 997.6L1113.7 997.6L1114.2 997.5L1115.2 997.0L1116.2 996.2L1117.2 995.3L1118.2 994.3L1119.2 993.5L1119.2 993.5L1120.2 992.7L1121.2 991.8L1122.2 990.9L1123.2 990.1L1124.2 989.4L1125.2 989.1L1125.8 989.0L1126.2 989.0L1127.2 989.2L1128.2 989.5L1129.2 990.0L1130.2 990.5L1131.2 991.1L1132.2 991.6L1132.6 991.8L1133.2 992.2L1134.2 992.8L1135.2 993.6L1136.2 994.4L1137.2 995.1L1138.2 995.9L1139.2 996.5L1140.2 997.0L1140.3 997.0L1141.2 997.3L1142.2 997.7L1143.2 998.0L1144.2 998.3L1145.2 998.6L1146.2 998.7L1147.2 998.8L1147.4 998.8L1148.2 998.7L1149.2 998.3L1150.2 997.8L1151.2 997.1L1152.2 996.4L1153.2 995.7L1154.2 995.2L1155.2 994.8L1155.6 994.7L1156.2 994.6L1157.2 994.5L1158.2 994.3L1159.2 994.2L1160.2 994.1L1161.2 994.0L1162.2 993.9L1163.2 993.8L1164.2 993.7L1165.2 993.7L1166.2 993.6L1167.2 993.6L1167.9 993.6L1168.2 993.6L1169.2 993.6L1170.2 993.6L1171.2 993.6L1172.2 993.6L1173.2 993.6L1174.2 993.6L1175.2 993.6L1176.2 993.6L1177.2 993.6L1178.2 993.6L1179.2 993.6L1180.2 993.6L1181.2 993.6L1182.2 993.6L1183.2 993.6L1184.2 993.6L1185.2 993.6L1186.2 993.6L1187.2 993.6L1188.2 993.6L1189.2 993.6L1190.2 993.6L1191.2 993.6L1192.2 993.6L1193.2 993.6L1194.2 993.6L1195.2 993.6L1196.2 993.6L1197.2 993.6L1198.2 993.6L1199.2 993.6L1200.2 993.6L1201.2 993.6L1202.1 993.6L1202.2 993.6L1203.2 993.6L1204.2 993.6L1205.2 993.6L1206.2 993.6L1207.2 993.6L1208.2 993.6L1209.2 993.6L1210.2 993.6L1211.2 993.6L1212.2 993.6L1213.2 993.6L1214.2 993.6L1215.2 993.6L1216.2 993.5L1217.2 993.5L1218.2 993.5L1219.2 993.5L1220.2 993.5L1221.2 993.5L1222.2 993.5L1223.2 993.5L1224.2 993.5L1225.2 993.5L1226.2 993.4L1227.2 993.4L1228.2 993.4L1229.2 993.4L1229.5 993.4L1230.2 993.4L1231.2 993.3L1232.2 993.2L1233.2 993.1L1234.2 993.0L1235.2 992.8L1236.2 992.7L1237.2 992.5L1238.2 992.4L1239.2 992.3L1240.2 992.2L1241.2 992.1L1242.2 992.0L1243.2 992.0L1243.2 992.0L1244.2 992.0L1245.2 992.0L1246.2 992.1L1247.2 992.1L1248.2 992.2L1249.2 992.3L1250.2 992.4L1251.2 992.4L1252.2 992.5L1253.2 992.6L1254.2 992.6L1255.2 992.7L1256.2 992.7L1256.9 992.7L1257.2 992.7L1258.2 992.7L1259.2 992.7L1260.2 992.6L1261.2 992.6L1262.2 992.6L1263.2 992.5L1264.2 992.5L1265.2 992.4L1266.2 992.3L1267.2 992.2L1268.2 992.2L1269.2 992.1L1270.2 992.0L1271.2 991.9L1272.2 991.8L1273.2 991.7L1274.2 991.7L1275.2 991.6L1276.2 991.5L1277.2 991.4L1278.2 991.3L1279.2 991.2L1280.2 991.2L1281.2 991.1L1282.2 991.0L1283.2 991.0L1284.2 990.9L1284.2 990.9L1285.2 990.8L1286.2 990.8L1287.2 990.7L1288.2 990.7L1289.2 990.6L1290.2 990.6L1291.2 990.5L1292.2 990.4L1293.2 990.4L1294.2 990.3L1295.2 990.3L1296.2 990.2L1297.2 990.2L1298.2 990.1L1299.2 990.1L1300.2 990.1L1301.2 990.0L1302.2 990.0L1303.2 990.0L1304.2 990.0L1304.8 990.0L1305.2 990.0L1306.2 990.2L1307.2 990.3L1308.2 990.2L1309.2 990.6L1310.2 991.2L1311.2 991.3L1312.2 991.4L1313.0 991.4L1313.2 991.3L1314.2 990.7L1315.2 990.4L1316.2 990.4L1317.2 989.7L1318.2 988.8L1319.2 988.7L1319.8 988.8L1320.2 988.8L1321.2 988.9L1322.2 989.8L1323.2 991.0L1324.2 991.9L1325.2 992.8L1326.0 993.3L1326.2 993.2L1327.2 992.1L1328.2 990.9L1329.2 990.8L1330.2 990.5L1331.2 989.7L1332.1 989.5L1332.2 989.5L1333.2 989.4L1334.2 989.2L1335.2 990.0L1336.2 991.0L1336.2 991.0L1337.2 991.6L1338.2 992.7L1339.2 994.4L1340.2 994.9L1340.3 994.8L1341.2 994.3L1342.2 994.3L1343.2 994.5L1344.2 994.3L1345.2 994.7L1346.2 994.6L1347.2 993.6L1347.2 993.6L1348.2 993.7L1349.2 995.3L1350.2 996.7L1351.2 997.6L1351.3 997.7L1352.2 999.4L1353.2 1001.1L1353.8 1001.2L1354.2 1000.8L1355.2 998.9L1356.2 996.2L1356.8 994.7L1357.2 993.9L1358.2 992.6L1359.2 992.1L1360.2 990.9L1360.9 990.2L1361.2 990.2L1362.2 991.0L1363.2 992.2L1364.2 993.2L1365.0 993.9L1365.2 994.0L1366.2 993.3L1367.2 991.2L1368.2 990.2L1369.2 990.4L1369.8 990.4L1370.2 990.3L1371.2 990.4L1372.2 991.0L1373.2 991.4L1374.2 991.8L1375.2 993.0L1375.9 993.6L1376.2 993.7L1377.2 994.2L1378.2 995.8L1379.2 997.6L1380.2 998.1L1381.2 998.5L1382.2 999.5L1383.2 1000.1L1383.4 1000.1L1384.2 1000.1L1385.2 999.9L1386.2 998.3L1387.2 996.3L1388.2 995.8L1388.9 996.3L1389.2 996.5L1390.2 996.9L1391.2 998.1L1392.2 999.8L1393.2 1000.9L1394.2 1001.7L1395.1 1002.3L1395.2 1002.3L1396.2 1000.6L1397.2 997.4L1398.2 995.6L1398.5 995.4L1399.2 994.4L1400.2 991.9L1401.2 990.0L1402.2 989.4L1403.2 989.2L1403.3 989.2L1404.2 989.9L1405.2 991.2L1406.2 991.6L1407.2 991.7L1408.1 992.4L1408.2 992.5L1409.2 992.7L1410.2 991.6L1411.2 991.1L1412.2 991.2L1412.3 991.2L1413.2 991.2L1414.2 991.8L1415.2 993.2L1416.2 994.1L1417.2 995.3L1418.2 997.3L1419.2 997.8L1419.2 997.8L1420.2 996.4L1421.2 995.4L1422.2 995.0L1423.2 994.8L1423.3 994.8L1424.2 995.5L1425.2 996.6L1426.2 997.0L1427.2 997.9L1428.2 999.9L1428.7 1000.7L1429.2 1001.3L1430.2 1002.5L1431.2 1004.5L1432.2 1005.8L1432.2 1005.8L1433.2 1004.6L1434.2 1002.9L1435.2 1001.4L1435.6 1000.8L1436.2 999.9L1437.2 999.4L1438.2 999.8L1439.2 999.0L1439.7 998.4L1440.2 997.9L1441.2 998.1L1442.2 999.0L1443.2 999.8L1444.2 1001.1L1445.2 1002.3L1445.2 1002.3L1446.2 1003.2L1447.2 1005.5L1448.2 1008.4L1449.2 1009.2L1449.3 1009.1L1450.2 1008.5L1451.2 1008.7L1452.2 1008.6L1453.2 1007.6L1454.1 1007.1L1454.2 1007.2L1455.2 1008.4L1456.2 1011.0L1457.1 1014.6L1457.5 1016.5L1458.0 1018.3L1459.0 1020.6L1460.0 1022.9L1460.2 1023.8L1460.7 1028.2L1460.9 1031.6L1461.2 1034.8L1461.4 1037.4L1461.5 1037.8L1461.9 1039.7L1462.6 1042.3L1463.5 1044.7L1464.3 1045.7L1464.5 1045.7L1465.5 1045.6L1466.5 1045.3L1467.5 1045.3L1468.5 1045.1L1469.5 1044.8L1470.5 1044.5L1471.2 1044.2L1471.5 1043.5L1472.2 1038.6L1472.6 1035.7L1473.0 1033.2L1473.2 1032.5L1473.7 1031.1L1474.7 1028.5L1475.7 1026.4L1476.7 1025.2L1477.3 1025.0L1477.7 1025.3L1478.7 1028.0L1479.5 1031.0L1480.5 1033.1L1480.7 1033.2L1481.5 1032.6L1482.5 1030.9L1483.5 1029.8L1483.5 1029.8L1484.5 1030.1L1485.5 1030.8L1486.5 1032.0L1487.5 1033.6L1487.6 1033.9L1488.5 1037.8L1488.9 1040.9L1489.4 1043.7L1489.6 1044.9L1489.9 1046.2L1490.6 1049.1L1491.4 1052.0L1492.2 1055.0L1493.0 1058.1L1493.1 1058.5L1493.7 1060.9L1494.6 1063.9L1495.4 1067.3L1496.1 1070.7L1496.5 1073.6L1496.6 1074.1L1496.9 1078.6L1497.1 1083.4L1497.4 1088.6L1497.6 1093.6L1497.9 1097.7L1498.1 1100.4L1498.3 1101.0L1498.6 1101.2L1499.6 1101.5L1500.6 1101.7L1501.6 1102.0L1502.0 1102.3L1502.6 1106.5L1502.8 1109.6L1503.1 1112.6L1503.3 1114.6L1503.3 1114.9L1503.8 1117.8L1504.3 1120.7L1504.9 1123.5L1505.5 1126.2L1506.1 1128.3L1506.3 1128.9L1507.3 1131.3L1508.3 1133.2L1509.3 1135.8L1509.5 1136.5L1510.2 1140.8L1510.6 1143.9L1511.0 1146.6L1511.5 1148.8L1511.5 1148.9L1512.5 1150.3L1513.5 1151.1L1514.5 1152.1L1515.0 1153.0L1515.5 1154.9L1516.0 1158.5L1516.4 1161.5L1516.8 1164.2L1517.0 1165.3L1517.3 1166.7L1518.0 1169.7L1518.6 1172.4L1519.5 1174.4L1519.7 1174.5L1520.5 1174.4L1521.5 1174.0L1522.5 1173.3L1523.5 1172.5L1523.9 1172.1L1524.5 1171.4L1525.5 1169.7L1526.5 1167.4L1527.3 1165.3L1527.5 1164.8L1528.5 1161.2L1529.2 1158.1L1529.9 1155.1L1530.6 1152.1L1530.7 1151.6L1531.3 1149.2L1532.1 1146.3L1532.9 1143.3L1533.6 1140.2L1534.4 1137.1L1534.8 1135.2L1535.1 1133.9L1535.7 1130.8L1536.3 1127.7L1536.8 1124.6L1536.9 1124.2L1537.3 1121.1L1537.7 1118.1L1538.1 1115.1L1538.5 1112.4L1538.9 1110.5L1539.0 1110.2L1540.0 1107.8L1540.7 1107.1L1541.0 1107.6L1542.0 1113.9L1542.3 1116.9L1542.7 1119.6L1543.0 1121.5L1543.1 1122.2L1543.7 1125.4L1544.2 1128.1L1544.8 1129.7L1544.8 1129.7L1545.8 1125.9L1546.3 1122.6L1546.7 1119.7L1547.1 1117.4L1547.2 1117.0L1547.7 1113.6L1548.2 1110.8L1548.7 1108.7L1548.9 1108.5L1549.7 1110.1L1550.5 1113.9L1551.1 1116.9L1551.2 1117.4L1551.7 1120.3L1552.2 1123.4L1552.6 1126.6L1553.0 1129.7L1553.3 1132.7L1553.7 1135.6L1554.0 1137.9L1554.1 1138.5L1554.5 1141.6L1554.9 1144.7L1555.2 1147.7L1555.6 1150.6L1556.0 1153.5L1556.4 1156.4L1556.7 1158.4L1556.8 1159.2L1557.3 1162.0L1558.0 1164.8L1558.6 1167.9L1559.2 1171.0L1559.4 1172.0L1559.8 1174.5L1560.2 1177.7L1560.6 1180.7L1560.9 1183.6L1561.3 1186.5L1561.8 1189.1L1562.0 1190.0L1562.4 1191.4L1563.3 1193.9L1563.8 1194.5L1564.3 1194.5L1565.3 1194.4L1566.3 1194.3L1567.3 1194.1L1568.3 1193.8L1568.3 1193.8L1569.3 1190.8L1569.8 1187.4L1570.3 1184.3L1570.7 1181.5L1571.0 1180.0L1571.2 1178.7L1571.8 1175.7L1572.3 1172.7L1572.9 1169.7L1573.5 1166.8L1573.6 1166.0L1574.0 1164.0L1574.7 1161.0L1575.4 1157.8L1575.9 1155.0L1576.0 1154.5L1576.4 1150.9L1576.8 1147.8L1577.1 1144.8L1577.4 1141.9L1577.7 1139.1L1577.9 1137.9L1578.1 1136.5L1578.6 1133.6L1579.2 1130.8L1579.8 1127.9L1580.4 1125.0L1580.6 1124.2L1581.1 1121.9L1581.8 1118.9L1582.5 1116.0L1583.2 1113.2L1584.0 1110.7L1584.1 1110.5L1585.0 1108.3L1586.0 1106.1L1587.0 1104.5L1588.0 1103.7L1588.2 1103.7L1589.0 1105.1L1590.0 1109.1L1590.6 1112.1L1590.9 1113.3L1591.3 1115.0L1591.9 1118.3L1592.4 1121.2L1592.9 1124.0L1593.0 1124.2L1593.7 1126.4L1594.7 1129.1L1595.7 1131.9L1596.4 1135.2L1596.5 1135.8L1597.0 1139.8L1597.3 1143.1L1597.5 1146.1L1597.8 1149.2L1598.0 1152.0L1598.0 1152.1L1598.3 1155.1L1598.5 1158.3L1598.8 1161.3L1599.0 1164.5L1599.3 1167.7L1599.5 1171.0L1599.8 1174.4L1600.0 1177.4L1600.0 1177.8L1600.3 1181.7L1600.5 1185.9L1600.8 1190.3L1601.0 1194.6L1601.3 1198.6L1601.5 1202.0L1601.8 1204.5L1601.8 1204.7L1602.1 1207.4L1602.5 1210.2L1603.0 1212.9L1603.5 1215.2L1603.9 1215.7L1604.5 1214.7L1605.4 1209.7L1605.8 1206.3L1606.0 1204.7L1606.2 1202.2L1606.4 1195.3L1606.7 1186.4L1606.9 1177.4L1606.9 1177.0L1607.2 1167.2L1607.4 1156.0L1607.5 1151.6L1607.7 1142.2L1607.9 1125.2L1608.2 1111.8L1608.2 1110.5L1608.4 1104.8L1608.7 1098.9L1608.9 1094.2L1609.2 1090.5L1609.4 1087.9L1609.5 1087.3L1609.8 1085.6L1610.3 1082.9L1611.0 1080.3L1611.9 1078.5L1612.1 1078.4L1612.9 1079.3L1613.9 1082.6L1614.6 1085.9L1614.9 1087.3L1615.2 1089.4L1615.7 1092.8L1616.0 1095.9L1616.3 1098.8L1616.6 1101.7L1616.9 1103.7L1617.0 1104.3L1617.5 1107.0L1618.1 1109.7L1618.8 1112.8L1619.5 1116.2L1619.7 1117.4L1620.0 1119.6L1620.4 1122.8L1620.8 1126.0L1621.1 1129.1L1621.4 1132.3L1621.6 1135.3L1621.9 1138.4L1622.0 1140.0L1622.1 1141.8L1622.4 1145.9L1622.6 1150.5L1622.9 1155.6L1623.1 1161.0L1623.4 1166.5L1623.6 1172.1L1623.9 1177.5L1624.0 1180.0L1624.1 1182.8L1624.4 1188.5L1624.6 1194.4L1624.9 1200.4L1625.1 1206.2L1625.4 1211.4L1625.6 1215.9L1625.8 1218.4L1625.9 1219.5L1626.1 1222.8L1626.4 1226.0L1626.6 1229.2L1626.9 1232.2L1627.1 1235.1L1627.4 1237.9L1627.8 1240.6L1628.2 1242.7L1628.5 1243.1L1629.2 1240.4L1629.6 1236.8L1629.9 1233.4L1630.2 1230.3L1630.4 1226.8L1630.7 1223.1L1630.9 1219.3L1631.0 1218.4L1631.2 1214.9L1631.4 1208.7L1631.7 1201.3L1631.9 1193.0L1632.2 1184.5L1632.2 1184.2L1632.4 1174.7L1632.7 1163.6L1632.9 1153.6L1633.0 1151.6L1633.2 1145.8L1633.4 1138.6L1633.7 1132.0L1633.9 1125.9L1634.2 1120.3L1634.4 1115.2L1634.7 1110.7L1634.7 1110.5L1634.9 1106.5L1635.2 1102.7L1635.4 1099.0L1635.7 1095.6L1635.9 1092.4L1636.2 1089.4L1636.4 1086.5L1636.7 1083.6L1637.0 1080.6L1637.3 1077.6L1637.4 1076.3L1637.6 1074.7L1637.9 1071.7L1638.2 1068.8L1638.5 1065.8L1638.8 1062.9L1639.2 1060.0L1639.6 1057.1L1640.0 1054.3L1640.2 1053.1L1640.5 1051.3L1640.9 1048.4L1641.4 1045.6L1642.0 1043.6L1642.2 1043.5L1643.0 1043.6L1644.0 1044.1L1645.0 1044.6L1646.0 1044.9L1646.3 1044.9L1647.0 1041.9L1647.5 1038.6L1647.8 1035.7L1648.2 1033.2L1648.4 1032.5L1648.9 1031.4L1649.9 1029.7L1650.9 1028.4L1651.8 1027.1L1651.9 1027.0L1652.9 1024.8L1653.9 1022.5L1654.9 1020.7L1655.6 1020.2L1655.9 1020.3L1656.9 1021.4L1657.9 1023.6L1658.9 1026.1L1659.3 1027.1L1659.9 1028.6L1660.9 1031.7L1661.8 1034.5L1662.8 1036.6L1662.8 1036.6L1663.8 1037.5L1664.8 1038.0L1665.8 1038.8L1666.2 1039.4L1666.8 1042.7L1667.1 1046.1L1667.4 1049.3L1667.7 1052.3L1667.9 1055.3L1668.2 1058.1L1668.2 1058.5L1668.5 1061.1L1668.8 1064.1L1669.0 1067.2L1669.3 1070.2L1669.6 1073.1L1669.9 1075.9L1670.2 1078.7L1670.3 1079.1L1670.7 1081.8L1671.0 1084.7L1671.5 1086.9L1671.7 1087.3L1672.4 1086.2L1673.4 1081.9L1673.7 1080.4L1674.0 1077.0L1674.2 1072.3L1674.5 1067.1L1674.7 1062.3L1675.0 1059.1L1675.1 1058.5L1675.4 1057.8L1676.4 1056.4L1677.4 1055.4L1677.8 1054.4L1678.4 1049.9L1678.6 1046.8L1678.9 1044.1L1679.2 1042.1L1679.2 1042.0L1680.2 1039.5L1681.2 1037.6L1682.2 1036.2L1683.2 1035.1L1683.3 1035.0L1684.2 1034.1L1685.2 1033.2L1686.2 1032.6L1686.8 1032.5L1687.2 1032.8L1688.2 1035.8L1688.9 1038.9L1689.6 1041.5L1690.3 1042.5L1690.6 1042.1L1691.6 1037.8L1692.1 1034.7L1692.6 1031.9L1693.2 1029.6L1693.6 1029.1L1694.2 1029.3L1695.2 1030.4L1696.2 1032.3L1697.1 1034.5L1697.2 1034.9L1698.0 1040.0L1698.4 1043.2L1698.7 1046.2L1699.0 1049.2L1699.1 1050.0L1699.3 1052.6L1699.6 1055.9L1699.8 1059.5L1700.1 1062.8L1700.3 1065.5L1700.5 1066.7L1700.7 1067.6L1701.3 1070.3L1701.9 1071.5L1702.1 1071.4L1703.1 1069.3L1704.1 1066.6L1704.6 1066.1L1705.1 1066.2L1706.1 1066.9L1707.1 1067.9L1708.1 1068.9L1709.1 1069.5L1709.4 1069.5L1710.1 1068.9L1711.1 1066.7L1712.1 1064.2L1712.2 1064.0L1713.1 1061.7L1714.1 1058.9L1715.1 1056.8L1715.6 1056.5L1716.1 1056.6L1717.1 1057.2L1718.1 1058.3L1719.1 1059.7L1720.1 1061.2L1721.1 1062.6L1721.1 1062.6L1722.1 1064.1L1723.1 1066.1L1724.1 1068.0L1725.1 1069.7L1726.1 1070.7L1726.5 1070.9L1727.1 1071.0L1728.1 1071.1L1729.1 1071.2L1730.1 1071.4L1730.6 1071.5L1731.1 1072.2L1732.1 1076.4L1732.7 1079.6L1733.2 1082.5L1733.8 1085.1L1734.1 1085.9L1734.7 1087.1L1735.7 1088.8L1736.7 1090.2L1737.7 1091.4L1738.7 1092.6L1738.8 1092.8L1739.7 1094.0L1740.7 1095.5L1741.7 1096.8L1742.7 1097.5L1743.0 1097.5L1743.7 1097.2L1744.7 1095.9L1745.7 1094.1L1745.7 1094.1L1746.7 1091.1L1747.4 1087.8L1748.1 1084.8L1748.4 1083.2L1748.7 1081.8L1749.3 1078.8L1750.0 1075.7L1750.6 1072.7L1751.2 1069.7L1751.2 1069.5L1751.8 1066.6L1752.3 1063.5L1752.9 1060.6L1753.4 1057.8L1753.9 1055.8L1754.1 1055.1L1754.9 1052.5L1755.9 1050.1L1756.9 1047.8L1757.9 1044.9L1758.7 1042.1L1758.9 1041.3L1759.4 1037.4L1759.7 1034.4L1760.1 1031.5L1760.5 1029.1L1760.7 1028.4L1761.2 1027.4L1762.2 1026.0L1762.8 1025.7L1763.2 1025.7L1764.2 1026.2L1765.2 1026.9L1766.2 1027.5L1766.9 1027.7L1767.2 1027.7L1768.2 1027.3L1769.2 1026.6L1770.2 1025.7L1771.2 1024.8L1772.2 1024.1L1773.1 1023.6L1773.2 1023.6L1774.2 1023.3L1775.2 1023.0L1776.2 1022.8L1777.2 1022.7L1777.2 1022.7L1778.2 1022.7L1779.2 1022.9L1780.2 1023.2L1781.2 1023.5L1782.2 1024.0L1782.6 1024.3L1783.2 1025.3L1784.2 1029.6L1784.7 1032.5L1784.7 1032.7L1785.2 1037.2L1785.5 1040.3L1785.7 1043.2L1786.0 1045.6L1786.1 1046.2L1786.5 1047.7L1787.2 1050.3L1788.1 1051.7L1788.2 1051.7L1789.2 1050.0L1790.2 1047.3L1790.9 1046.2L1791.2 1046.1L1792.2 1045.6L1793.2 1045.3L1794.2 1045.0L1795.2 1044.9L1795.6 1044.9L1796.2 1045.0L1797.2 1045.3L1798.2 1045.9L1799.2 1046.9L1800.2 1048.0L1801.2 1049.4L1801.8 1050.3L1802.2 1051.1L1803.2 1054.7L1803.8 1057.9L1804.4 1061.0L1804.5 1061.3L1805.0 1064.3L1805.5 1067.5L1805.9 1070.6L1806.3 1073.7L1806.6 1076.3L1806.7 1076.7L1807.0 1080.0L1807.3 1083.1L1807.6 1086.1L1807.9 1089.0L1808.2 1091.7L1808.6 1094.1L1808.6 1094.3L1809.2 1097.4L1809.7 1099.9L1810.3 1101.0L1810.6 1100.9L1811.6 1098.4L1812.4 1095.1L1812.7 1094.1L1813.2 1091.6L1813.7 1088.5L1814.2 1085.6L1814.7 1083.3L1814.8 1083.2L1815.7 1081.8L1816.7 1080.8L1817.7 1079.8L1818.2 1079.1L1818.7 1077.8L1819.7 1074.2L1820.5 1071.2L1821.0 1069.5L1821.3 1068.5L1822.2 1065.4L1823.0 1062.8L1823.7 1062.0L1824.0 1061.9L1825.0 1061.7L1826.0 1061.6L1827.0 1061.4L1828.0 1061.4L1829.0 1061.3L1829.9 1061.3L1830.0 1061.3L1831.0 1061.9L1832.0 1063.1L1833.0 1064.3L1834.0 1065.2L1834.6 1065.4L1835.0 1065.3L1836.0 1064.2L1837.0 1062.2L1837.4 1061.3L1838.0 1056.5L1838.3 1053.6L1838.6 1051.1L1838.8 1050.3L1839.1 1049.2L1840.1 1046.6L1841.1 1045.1L1841.5 1044.9L1842.1 1045.3L1843.1 1047.2L1844.1 1049.6L1845.1 1051.4L1845.6 1051.7L1846.1 1051.7L1847.1 1051.4L1848.1 1050.8L1849.1 1050.1L1850.1 1049.3L1850.4 1049.0L1851.1 1048.1L1852.1 1046.0L1853.1 1043.7L1854.1 1042.3L1854.5 1042.1L1855.1 1042.2L1856.1 1042.9L1857.1 1044.1L1857.9 1045.5L1858.1 1046.0L1859.0 1051.8L1859.4 1055.1L1859.7 1058.3L1859.9 1061.3L1860.0 1062.6L1860.2 1065.2L1860.4 1071.5L1860.7 1078.2L1860.9 1083.2L1861.2 1086.5L1861.4 1089.6L1861.7 1092.5L1861.9 1095.2L1862.3 1097.7L1862.7 1098.9L1862.8 1098.9L1863.8 1096.1L1864.5 1092.4L1864.8 1090.0L1864.9 1088.7L1865.2 1083.2L1865.4 1075.4L1865.7 1067.0L1865.9 1059.6L1866.1 1055.8L1866.2 1054.9L1866.4 1051.6L1866.7 1048.8L1866.9 1046.0L1867.3 1043.2L1867.6 1040.2L1868.0 1037.2L1868.2 1035.3L1868.3 1034.0L1868.6 1030.8L1868.9 1027.8L1869.2 1024.8L1869.5 1022.0L1869.8 1019.4L1870.2 1017.5L1870.3 1017.3L1871.3 1014.7L1872.3 1013.1L1873.0 1012.7L1873.3 1012.7L1874.3 1012.9L1875.3 1013.1L1876.3 1013.3L1877.1 1013.4L1877.3 1013.4L1878.3 1012.9L1879.3 1011.9L1880.3 1010.5L1881.3 1008.9L1881.9 1007.9L1882.3 1007.1L1883.3 1004.2L1884.3 1001.9L1884.6 1001.7L1885.3 1002.2L1886.3 1004.2L1887.3 1006.6L1888.0 1007.9L1888.3 1008.2L1889.3 1009.5L1890.3 1010.4L1890.8 1010.6L1891.3 1010.4L1892.3 1008.9L1893.3 1006.6L1894.3 1004.4L1895.3 1003.2L1895.5 1003.1L1896.3 1003.2L1897.3 1003.4L1898.3 1003.7L1899.3 1004.1L1900.3 1004.6L1901.3 1005.0L1901.7 1005.2L1902.3 1005.5L1903.3 1006.1L1904.3 1006.7L1905.3 1007.1L1905.8 1007.2L1906.3 1007.1L1907.3 1006.5L1908.3 1005.4L1909.3 1004.1L1910.3 1002.6L1911.3 1001.1L1912.3 1000.0L1913.3 999.2L1914.0 999.0L1914.3 999.0L1915.3 999.2L1916.3 999.6L1917.3 1000.1L1918.3 1000.4L1918.8 1000.4L1919.3 1000.2L1920.3 998.9L1921.3 996.9L1922.3 995.0L1923.3 994.2L1923.3 994.2L1924.3 994.7L1925.3 996.1L1926.3 998.1L1927.0 999.7L1927.3 1000.4L1928.2 1004.6L1928.8 1007.5L1929.4 1010.3L1930.2 1012.0L1930.2 1012.0L1931.2 1010.3L1932.1 1006.6L1932.8 1003.8L1933.0 1003.0L1933.6 1000.6L1934.3 997.7L1935.0 995.7L1935.2 995.6L1936.0 995.9L1937.0 997.1L1938.0 998.8L1939.0 1000.6L1939.3 1001.1L1940.0 1002.9L1941.0 1006.3L1941.8 1009.2L1942.8 1011.5L1943.4 1012.0L1943.8 1012.0L1944.8 1012.0L1945.8 1012.0L1946.8 1012.0L1947.8 1012.0L1948.7 1012.0L1948.8 1012.0L1949.8 1009.3L1950.5 1006.0L1951.2 1003.4L1951.7 1002.2L1952.1 1001.8L1953.1 1001.0L1954.1 1000.3L1955.1 999.7L1956.1 999.4L1957.1 999.2L1957.4 999.2L1958.1 999.3L1959.1 999.8L1960.1 1000.7L1961.1 1001.7L1961.8 1002.5L1962.1 1002.9L1963.1 1004.5L1964.1 1006.7L1965.1 1009.6L1965.8 1012.0L1966.0 1013.0L1966.7 1016.7L1967.1 1019.9L1967.5 1022.9L1967.9 1025.8L1968.1 1027.0L1968.4 1028.8L1968.8 1031.9L1969.2 1034.9L1969.6 1037.7L1970.0 1040.3L1970.1 1040.5L1970.7 1042.6L1971.7 1045.0L1972.7 1048.1L1972.8 1048.5L1973.4 1052.3L1973.8 1055.6L1974.1 1058.9L1974.3 1062.1L1974.5 1064.0L1974.6 1065.5L1974.8 1070.1L1975.1 1075.8L1975.3 1082.2L1975.6 1088.8L1975.8 1094.0L1975.8 1095.3L1976.1 1102.7L1976.3 1110.7L1976.6 1118.5L1976.8 1125.1L1977.0 1128.0L1977.1 1129.7L1977.3 1133.8L1977.6 1137.4L1977.8 1140.0L1978.1 1141.0L1978.2 1140.8L1979.2 1132.6L1979.4 1130.8L1979.5 1129.3L1979.8 1123.3L1980.0 1115.3L1980.2 1106.3L1980.5 1097.5L1980.7 1091.4L1980.8 1090.0L1981.0 1082.9L1981.2 1075.8L1981.5 1069.1L1981.8 1063.2L1982.0 1058.5L1982.2 1054.7L1982.5 1051.3L1982.8 1048.2L1983.0 1045.3L1983.3 1042.5L1983.6 1039.6L1983.9 1036.7L1984.0 1036.2L1984.3 1033.7L1984.7 1030.9L1985.0 1027.9L1985.5 1025.0L1985.9 1022.1L1986.4 1019.3L1986.9 1016.7L1987.3 1015.2L1987.6 1014.2L1988.5 1011.3L1989.5 1009.0L1990.5 1008.0L1990.6 1008.0L1991.5 1009.0L1992.5 1011.5L1993.5 1014.3L1993.9 1015.2L1994.5 1016.6L1995.5 1018.8L1996.5 1021.3L1997.2 1023.1L1997.5 1024.2L1998.5 1027.5L1999.3 1030.9L1999.8 1033.6L1999.9 1034.2L2000.3 1038.0L2000.7 1041.2L2000.9 1044.2L2001.2 1047.1L2001.5 1049.9L2001.8 1052.0L2001.9 1052.3L2002.4 1054.9L2003.1 1057.6L2004.0 1060.7L2004.4 1062.5L2004.8 1064.2L2005.3 1067.4L2005.9 1070.5L2006.4 1073.6L2006.8 1076.8L2007.0 1078.2L2007.2 1080.0L2007.5 1083.3L2007.8 1086.4L2008.1 1089.4L2008.4 1092.3L2008.6 1095.1L2009.0 1097.8L2009.0 1098.0L2009.4 1100.8L2009.9 1103.4L2010.3 1104.5L2010.5 1104.4L2011.5 1101.6L2012.2 1098.3L2012.3 1098.0L2012.8 1093.5L2013.1 1090.3L2013.4 1087.2L2013.6 1084.1L2013.9 1081.3L2014.2 1078.5L2014.2 1078.2L2014.5 1075.6L2014.9 1072.7L2015.2 1069.7L2015.6 1067.1L2016.2 1065.1L2016.2 1065.1L2017.2 1064.2L2018.2 1063.7L2019.2 1063.2L2020.1 1062.5L2020.2 1062.4L2021.2 1060.1L2022.2 1057.1L2022.8 1055.9L2023.2 1055.4L2024.2 1054.3L2025.1 1053.9L2025.2 1053.9L2026.2 1054.9L2027.2 1057.3L2028.0 1059.9L2028.2 1060.7L2028.7 1064.9L2029.1 1068.0L2029.4 1071.0L2029.7 1073.8L2030.0 1075.6L2030.1 1076.1L2030.7 1079.1L2031.3 1081.7L2032.0 1082.8L2032.3 1082.5L2033.3 1078.6L2033.9 1075.6L2034.5 1073.2L2034.6 1073.0L2035.5 1071.4L2036.5 1069.9L2037.5 1069.1L2037.9 1069.0L2038.5 1070.0L2039.4 1074.8L2039.9 1078.0L2039.9 1078.2L2040.3 1082.6L2040.5 1087.1L2040.8 1092.7L2041.0 1099.3L2041.2 1104.5L2041.3 1106.8L2041.5 1118.1L2041.8 1132.7L2042.0 1148.6L2042.2 1160.0L2042.3 1164.3L2042.5 1180.5L2042.8 1197.6L2043.0 1215.3L2043.3 1233.4L2043.5 1250.0L2043.5 1251.5L2043.8 1271.2L2044.0 1292.3L2044.3 1312.8L2044.5 1330.3L2044.7 1340.0L2044.8 1343.2L2045.0 1354.5L2045.3 1364.9L2045.5 1373.1L2045.8 1377.8L2045.9 1378.5L2046.0 1377.8L2046.3 1372.1L2046.6 1363.7L2046.8 1353.0L2047.1 1341.0L2047.1 1340.0L2047.3 1323.7L2047.6 1298.0L2047.8 1269.0L2048.0 1250.0L2048.1 1241.1L2048.3 1210.2L2048.6 1180.0L2048.8 1160.0L2048.8 1158.0L2049.1 1142.9L2049.3 1130.8L2049.6 1120.7L2049.6 1120.0L2049.8 1111.8L2050.1 1103.8L2050.3 1097.0L2050.6 1091.7L2050.6 1091.4L2050.8 1087.6L2051.1 1083.8L2051.3 1080.3L2051.6 1077.3L2051.8 1074.6L2052.2 1072.2L2052.3 1071.7L2052.8 1069.9L2053.6 1067.3L2054.6 1065.2L2055.6 1063.8L2055.6 1063.8L2056.6 1062.8L2057.6 1062.0L2058.6 1061.4L2059.6 1061.2L2059.6 1061.2L2060.6 1062.9L2061.6 1065.7L2062.2 1066.4L2062.6 1065.9L2063.6 1061.4L2064.2 1058.6L2064.8 1057.2L2064.9 1057.2L2065.9 1057.3L2066.9 1057.6L2067.9 1058.0L2068.9 1058.6L2069.9 1059.1L2070.9 1059.6L2071.4 1059.9L2071.9 1060.2L2072.9 1060.9L2073.9 1061.7L2074.9 1062.5L2075.9 1063.0L2076.6 1063.1L2076.9 1063.1L2077.9 1062.7L2078.9 1062.1L2079.9 1061.6L2080.9 1061.2L2081.2 1061.2L2081.9 1061.5L2082.9 1062.7L2083.9 1064.3L2084.5 1065.1L2084.9 1065.6L2085.9 1067.0L2086.9 1068.4L2087.9 1069.7L2088.5 1070.4L2088.9 1070.8L2089.9 1071.6L2090.9 1072.3L2091.9 1073.5L2092.4 1074.3L2092.9 1076.8L2093.3 1080.3L2093.6 1083.5L2093.9 1086.5L2094.2 1089.4L2094.4 1091.4L2094.5 1092.1L2094.8 1095.4L2095.1 1098.3L2095.5 1100.7L2095.7 1101.2L2096.1 1100.6L2097.1 1095.6L2097.6 1092.4L2097.7 1091.4L2098.0 1088.3L2098.2 1083.8L2098.5 1078.9L2098.7 1074.6L2099.0 1071.9L2099.0 1071.7L2099.5 1069.8L2100.3 1067.3L2101.3 1065.9L2101.6 1065.8L2102.3 1065.8L2103.3 1065.8L2104.3 1065.9L2105.3 1066.0L2106.3 1066.2L2107.3 1066.4L2108.3 1066.7L2109.3 1067.1L2110.3 1067.5L2111.3 1068.0L2112.1 1068.4L2112.3 1068.7L2113.3 1073.0L2113.8 1076.2L2114.1 1078.2L2114.2 1079.3L2114.6 1082.8L2114.9 1086.0L2115.2 1089.0L2115.4 1091.9L2115.7 1094.8L2116.0 1097.4L2116.1 1098.0L2116.4 1100.3L2116.8 1103.2L2117.3 1105.9L2117.9 1107.8L2118.0 1107.8L2118.9 1106.5L2119.9 1102.5L2120.5 1099.2L2120.7 1098.0L2121.0 1094.6L2121.3 1090.6L2121.5 1086.3L2121.8 1082.7L2122.0 1080.9L2122.0 1080.8L2123.0 1078.5L2123.9 1077.6L2124.0 1077.6L2125.0 1079.0L2126.0 1082.2L2126.6 1084.8L2126.7 1085.6L2127.2 1089.8L2127.4 1093.0L2127.7 1096.1L2127.9 1098.8L2128.2 1101.2L2128.5 1101.9L2128.8 1101.8L2129.8 1100.5L2130.8 1098.0L2130.8 1098.0L2131.7 1088.5L2132.0 1085.2L2132.2 1082.6L2132.5 1080.9L2132.6 1080.8L2133.6 1078.8L2134.6 1077.5L2135.6 1076.9L2135.8 1076.9L2136.6 1076.9L2137.6 1077.0L2138.6 1077.1L2139.6 1077.4L2140.4 1077.6L2140.6 1077.7L2141.6 1082.1L2142.1 1085.0L2142.6 1087.4L2143.0 1088.1L2143.6 1088.0L2144.6 1087.7L2145.6 1087.1L2146.6 1086.3L2146.9 1086.1L2147.6 1085.4L2148.6 1083.7L2149.6 1082.0L2150.6 1081.0L2150.9 1080.9L2151.6 1081.2L2152.6 1082.3L2153.6 1083.9L2154.6 1085.1L2154.8 1085.2L2155.6 1084.2L2156.6 1081.5L2157.6 1078.8L2158.6 1076.4L2159.4 1075.3L2159.6 1075.3L2160.6 1076.9L2161.6 1079.6L2162.6 1081.5L2163.4 1082.4L2163.6 1082.5L2164.6 1081.8L2165.6 1079.7L2166.6 1078.4L2167.6 1078.7L2168.0 1079.0L2168.6 1079.7L2169.6 1083.0L2170.2 1086.0L2170.7 1089.0L2171.3 1091.6L2171.9 1093.8L2172.6 1094.7L2172.9 1094.7L2173.9 1093.3L2174.9 1090.1L2175.7 1086.8L2176.5 1085.8L2176.7 1086.1L2177.7 1090.5L2178.3 1093.7L2178.7 1096.3L2179.2 1098.8L2179.7 1101.3L2180.4 1103.0L2180.5 1103.1L2181.5 1102.2L2182.5 1099.8L2183.5 1097.9L2184.4 1096.9L2184.5 1096.9L2185.5 1099.5L2186.0 1102.7L2186.4 1106.1L2186.8 1109.5L2187.0 1111.0L2187.2 1113.4L2187.5 1117.2L2187.8 1120.7L2188.0 1124.0L2188.3 1127.0L2188.5 1129.4L2188.9 1131.1L2189.0 1131.1L2189.9 1129.9L2190.9 1127.2L2191.8 1123.5L2191.8 1123.4L2192.6 1117.7L2192.9 1114.8L2193.1 1112.0L2193.4 1109.4L2193.7 1107.0L2194.2 1105.2L2194.2 1105.1L2195.2 1103.1L2196.2 1101.9L2196.9 1102.2L2197.2 1102.6L2198.2 1106.5L2198.6 1109.4L2199.0 1112.2L2199.3 1115.1L2199.5 1116.9L2199.6 1118.5L2199.9 1123.3L2200.1 1129.3L2200.4 1135.5L2200.6 1141.1L2200.8 1144.0L2200.9 1145.1L2201.1 1148.7L2201.4 1152.1L2201.6 1154.9L2201.9 1157.1L2202.1 1157.4L2202.8 1149.5L2203.0 1144.6L2203.3 1140.0L2203.4 1138.1L2203.5 1136.4L2203.8 1132.7L2204.0 1128.8L2204.3 1125.3L2204.5 1122.5L2204.7 1121.3L2204.9 1120.2L2205.9 1117.2L2206.7 1117.5L2206.9 1117.8L2207.9 1120.1L2208.9 1122.7L2209.3 1124.2L2209.7 1125.9L2210.2 1129.7L2210.5 1133.1L2210.8 1136.3L2211.0 1139.6L2211.3 1143.3L2211.3 1143.7L2211.5 1148.5L2211.8 1156.4L2212.0 1164.5" fill="none" stroke="#00f" stroke-width="7.7" clip-path="url(#cp)" stroke-linejoin="round" stroke-linecap="butt"/>
<line x1="544.4" y1="302.6" x2="566.7" y2="253.1" stroke="#000" stroke-width="1.7" stroke-linecap="round"/><polygon points="580.2,223.0 573.9,258.5 557.8,251.3" fill="#000"/>
<line x1="1435.4" y1="431.5" x2="1480.1" y2="410.1" stroke="#000" stroke-width="1.7" stroke-linecap="round"/><polygon points="1509.9,395.9 1482.1,418.9 1474.5,403.1" fill="#000"/>
<line x1="1646.7" y1="439.7" x2="1603.1" y2="441.3" stroke="#000" stroke-width="1.7" stroke-linecap="round"/><polygon points="1570.1,442.5 1604.8,432.4 1605.4,450.0" fill="#000"/>
<line x1="724.9" y1="847.1" x2="750.0" y2="876.7" stroke="#000" stroke-width="1.7" stroke-linecap="round"/><polygon points="771.4,901.8 742.0,880.8 755.4,869.4" fill="#000"/>
<line x1="817.5" y1="898.0" x2="813.6" y2="867.8" stroke="#000" stroke-width="1.7" stroke-linecap="round"/><polygon points="809.3,835.1 822.6,868.7 805.1,870.9" fill="#000"/>
<line x1="915.5" y1="835.1" x2="879.7" y2="802.5" stroke="#000" stroke-width="1.7" stroke-linecap="round"/><polygon points="855.3,780.3 887.1,797.4 875.3,810.4" fill="#000"/>
<line x1="1506.3" y1="742.3" x2="1522.5" y2="721.5" stroke="#000" stroke-width="1.7" stroke-linecap="round"/><polygon points="1542.8,695.5 1528.2,728.5 1514.3,717.7" fill="#000"/>
<line x1="1714.8" y1="750.2" x2="1698.2" y2="727.1" stroke="#000" stroke-width="1.7" stroke-linecap="round"/><polygon points="1679.0,700.3 1706.6,723.6 1692.3,733.9" fill="#000"/>
<line x1="1570.3" y1="895.2" x2="1582.1" y2="868.0" stroke="#000" stroke-width="1.7" stroke-linecap="round"/><polygon points="1595.3,837.7 1589.4,873.3 1573.3,866.3" fill="#000"/>
<line x1="1662.8" y1="911.8" x2="1650.3" y2="896.4" stroke="#000" stroke-width="1.7" stroke-linecap="round"/><polygon points="1629.6,870.7 1658.4,892.4 1644.7,903.5" fill="#000"/>
<line x1="1912.1" y1="841.0" x2="1945.7" y2="818.2" stroke="#000" stroke-width="1.7" stroke-linecap="round"/><polygon points="1973.0,799.6 1949.0,826.6 1939.1,812.0" fill="#000"/>
<line x1="1999.4" y1="816.3" x2="2002.5" y2="772.3" stroke="#000" stroke-width="1.7" stroke-linecap="round"/><polygon points="2004.9,739.4 2011.2,774.9 1993.6,773.7" fill="#000"/>
<line x1="2081.1" y1="961.3" x2="2065.3" y2="948.7" stroke="#000" stroke-width="1.7" stroke-linecap="round"/><polygon points="2039.5,928.1 2072.3,943.1 2061.4,956.8" fill="#000"/>
<g font-family="'Liberation Sans', Arial, Helvetica, sans-serif" fill="#000">
<text x="208.9" y="1508.6" font-size="58.3" text-anchor="middle">4000</text>
<text x="487.2" y="1508.6" font-size="58.3" text-anchor="middle">3500</text>
<text x="765.5" y="1508.6" font-size="58.3" text-anchor="middle">3000</text>
<text x="1043.8" y="1508.6" font-size="58.3" text-anchor="middle">2500</text>
<text x="1322.1" y="1508.6" font-size="58.3" text-anchor="middle">2000</text>
<text x="1600.4" y="1508.6" font-size="58.3" text-anchor="middle">1500</text>
<text x="1878.7" y="1508.6" font-size="58.3" text-anchor="middle">1000</text>
<text x="2157.0" y="1508.6" font-size="58.3" text-anchor="middle">500</text>
<text x="240.0" y="152.7" font-size="59.2" text-anchor="start">PU</text>
<text x="500.0" y="394.3" font-size="59.2" text-anchor="start">3330</text>
<text x="1333.5" y="486.9" font-size="59.2" text-anchor="start">1643</text>
<text x="1662.3" y="473.1" font-size="59.2" text-anchor="start">1560</text>
<text x="226.8" y="509.4" font-size="59.2" text-anchor="start">Photochromic Solution</text>
<text x="704.5" y="857.0" font-size="59.2" text-anchor="end">2972</text>
<text x="940.2" y="972.3" font-size="59.2" text-anchor="end">2933</text>
<text x="901.7" y="901.4" font-size="59.2" text-anchor="start">2875</text>
<text x="1559.5" y="803.6" font-size="59.2" text-anchor="end">1604</text>
<text x="1703.5" y="805.6" font-size="59.2" text-anchor="start">1375</text>
<text x="1472.5" y="950.3" font-size="59.2" text-anchor="start">1500</text>
<text x="1683.8" y="942.8" font-size="59.2" text-anchor="start">1452</text>
<text x="1896.6" y="879.3" font-size="59.2" text-anchor="end">825</text>
<text x="1942.9" y="890.2" font-size="59.2" text-anchor="start">756</text>
<text x="2097.0" y="995.2" font-size="59.2" text-anchor="start">700</text>
<text x="223.8" y="956.0" font-size="59.2" text-anchor="start">Microcapsules</text>
<g transform="translate(0 1669.7) scale(1 1.025)"><text x="685.8" y="0" font-size="117.6">Wavenumber (cm<tspan x="1609.3" dy="-45.5" font-size="80">–</tspan><tspan x="1655.8" font-size="80">1</tspan><tspan x="1701.6" dy="45.5" font-size="117.6">)</tspan></text></g>
<text transform="translate(98.1 1182.2) rotate(-90) scale(1 1.042)" font-size="117.6">Transmittance (a.u.)</text>
</g>
</svg>
</body></html>
